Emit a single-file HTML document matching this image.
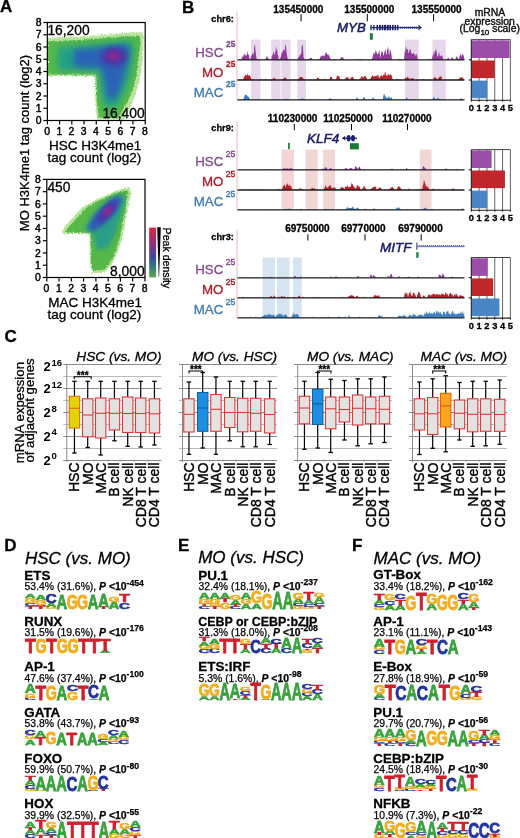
<!DOCTYPE html>
<html><head><meta charset="utf-8"><style>
html,body{margin:0;padding:0;background:#fff;width:520px;height:838px;overflow:hidden;}
svg{display:block;font-family:"Liberation Sans", sans-serif;will-change:transform;}
</style></head><body>
<svg width="520" height="838" viewBox="0 0 520 838">
<text x="-0.10" y="12.00" font-size="17" font-weight="bold" font-style="normal" fill="#000" stroke="#000" stroke-width="0.3" text-anchor="start" >A</text>
<text x="181.90" y="13.10" font-size="17" font-weight="bold" font-style="normal" fill="#000" stroke="#000" stroke-width="0.3" text-anchor="start" >B</text>
<text x="4.60" y="341.90" font-size="17" font-weight="bold" font-style="normal" fill="#000" stroke="#000" stroke-width="0.3" text-anchor="start" >C</text>
<text x="4.20" y="551.20" font-size="17" font-weight="bold" font-style="normal" fill="#000" stroke="#000" stroke-width="0.3" text-anchor="start" >D</text>
<text x="178.10" y="551.30" font-size="17" font-weight="bold" font-style="normal" fill="#000" stroke="#000" stroke-width="0.3" text-anchor="start" >E</text>
<text x="352.10" y="551.30" font-size="17" font-weight="bold" font-style="normal" fill="#000" stroke="#000" stroke-width="0.3" text-anchor="start" >F</text>
<defs><filter id="rough" x="-10%" y="-10%" width="120%" height="120%"><feTurbulence type="fractalNoise" baseFrequency="0.9" numOctaves="2" seed="3" result="n"/><feDisplacementMap in="SourceGraphic" in2="n" scale="4" xChannelSelector="R" yChannelSelector="G" result="d"/><feGaussianBlur in="d" stdDeviation="0.5"/></filter><filter id="soft" x="-20%" y="-20%" width="140%" height="140%"><feGaussianBlur stdDeviation="2.2"/></filter><filter id="soft2" x="-20%" y="-20%" width="140%" height="140%"><feGaussianBlur stdDeviation="3.2"/></filter><linearGradient id="cbar" x1="0" y1="0" x2="0" y2="1"><stop offset="0" stop-color="#e02040"/><stop offset="0.35" stop-color="#8a3080"/><stop offset="0.6" stop-color="#3a4aa0"/><stop offset="0.8" stop-color="#3a7a80"/><stop offset="1" stop-color="#62a850"/></linearGradient></defs>
<polygon points="48.0,38.0 60.0,37.5 80.0,36.5 100.0,35.0 120.0,33.5 135.0,32.0 142.5,32.5 144.0,38.0 143.0,55.0 141.5,70.0 138.5,85.0 134.5,98.0 129.0,110.0 125.0,119.5 97.0,119.5 95.4,100.0 95.0,76.0 48.0,76.0" fill="#b0e090" filter="url(#rough)" opacity="0.9"/>
<polygon points="48.0,41.5 70.0,40.5 100.0,38.5 125.0,36.5 139.5,36.0 140.5,42.0 138.5,60.0 136.5,75.0 132.5,90.0 127.5,102.0 121.5,112.0 118.0,118.0 98.6,118.0 96.8,100.0 96.4,74.6 48.0,74.6" fill="#55b848" filter="url(#rough)" opacity="1.0"/>
<polygon points="58.0,47.0 80.0,46.0 105.0,44.0 130.0,41.0 134.0,45.0 132.0,65.0 128.0,82.0 122.0,97.0 116.0,107.0 104.0,107.0 101.0,90.0 99.5,71.0 58.0,70.5" fill="#23a088" filter="url(#soft2)" opacity="1.0"/>
<polygon points="74.0,49.5 100.0,47.5 127.0,44.5 129.5,49.0 126.5,66.0 121.5,85.0 115.0,99.0 107.5,99.0 104.0,80.0 101.0,68.0 74.0,67.0" fill="#2c62b6" filter="url(#soft2)" opacity="1.0"/>
<ellipse cx="114" cy="56.5" rx="13" ry="9.5" fill="#4438a6" filter="url(#soft2)"/>
<ellipse cx="114" cy="56" rx="8.5" ry="6" fill="#6a2e9c" filter="url(#soft)"/>
<ellipse cx="113.5" cy="56" rx="3.5" ry="2.6" fill="#9a2a80" filter="url(#soft)"/>
<rect x="47.35" y="22.50" width="97.85" height="98.00" fill="none" stroke="#000" stroke-width="1.2" />
<line x1="43.35" y1="120.50" x2="47.35" y2="120.50" stroke="#000" stroke-width="1.2" />
<text x="41.45" y="124.20" font-size="10.4" font-weight="normal" font-style="normal" fill="#000" stroke="#000" stroke-width="0.45" text-anchor="end" >0</text>
<line x1="47.35" y1="120.50" x2="47.35" y2="124.50" stroke="#000" stroke-width="1.2" />
<text x="47.05" y="134.70" font-size="10.4" font-weight="normal" font-style="normal" fill="#000" stroke="#000" stroke-width="0.45" text-anchor="middle" >0</text>
<line x1="43.35" y1="108.25" x2="47.35" y2="108.25" stroke="#000" stroke-width="1.2" />
<text x="41.45" y="111.95" font-size="10.4" font-weight="normal" font-style="normal" fill="#000" stroke="#000" stroke-width="0.45" text-anchor="end" >1</text>
<line x1="59.58" y1="120.50" x2="59.58" y2="124.50" stroke="#000" stroke-width="1.2" />
<text x="59.28" y="134.70" font-size="10.4" font-weight="normal" font-style="normal" fill="#000" stroke="#000" stroke-width="0.45" text-anchor="middle" >1</text>
<line x1="43.35" y1="96.00" x2="47.35" y2="96.00" stroke="#000" stroke-width="1.2" />
<text x="41.45" y="99.70" font-size="10.4" font-weight="normal" font-style="normal" fill="#000" stroke="#000" stroke-width="0.45" text-anchor="end" >2</text>
<line x1="71.81" y1="120.50" x2="71.81" y2="124.50" stroke="#000" stroke-width="1.2" />
<text x="71.51" y="134.70" font-size="10.4" font-weight="normal" font-style="normal" fill="#000" stroke="#000" stroke-width="0.45" text-anchor="middle" >2</text>
<line x1="43.35" y1="83.75" x2="47.35" y2="83.75" stroke="#000" stroke-width="1.2" />
<text x="41.45" y="87.45" font-size="10.4" font-weight="normal" font-style="normal" fill="#000" stroke="#000" stroke-width="0.45" text-anchor="end" >3</text>
<line x1="84.04" y1="120.50" x2="84.04" y2="124.50" stroke="#000" stroke-width="1.2" />
<text x="83.74" y="134.70" font-size="10.4" font-weight="normal" font-style="normal" fill="#000" stroke="#000" stroke-width="0.45" text-anchor="middle" >3</text>
<line x1="43.35" y1="71.50" x2="47.35" y2="71.50" stroke="#000" stroke-width="1.2" />
<text x="41.45" y="75.20" font-size="10.4" font-weight="normal" font-style="normal" fill="#000" stroke="#000" stroke-width="0.45" text-anchor="end" >4</text>
<line x1="96.28" y1="120.50" x2="96.28" y2="124.50" stroke="#000" stroke-width="1.2" />
<text x="95.98" y="134.70" font-size="10.4" font-weight="normal" font-style="normal" fill="#000" stroke="#000" stroke-width="0.45" text-anchor="middle" >4</text>
<line x1="43.35" y1="59.25" x2="47.35" y2="59.25" stroke="#000" stroke-width="1.2" />
<text x="41.45" y="62.95" font-size="10.4" font-weight="normal" font-style="normal" fill="#000" stroke="#000" stroke-width="0.45" text-anchor="end" >5</text>
<line x1="108.51" y1="120.50" x2="108.51" y2="124.50" stroke="#000" stroke-width="1.2" />
<text x="108.21" y="134.70" font-size="10.4" font-weight="normal" font-style="normal" fill="#000" stroke="#000" stroke-width="0.45" text-anchor="middle" >5</text>
<line x1="43.35" y1="47.00" x2="47.35" y2="47.00" stroke="#000" stroke-width="1.2" />
<text x="41.45" y="50.70" font-size="10.4" font-weight="normal" font-style="normal" fill="#000" stroke="#000" stroke-width="0.45" text-anchor="end" >6</text>
<line x1="120.74" y1="120.50" x2="120.74" y2="124.50" stroke="#000" stroke-width="1.2" />
<text x="120.44" y="134.70" font-size="10.4" font-weight="normal" font-style="normal" fill="#000" stroke="#000" stroke-width="0.45" text-anchor="middle" >6</text>
<line x1="43.35" y1="34.75" x2="47.35" y2="34.75" stroke="#000" stroke-width="1.2" />
<text x="41.45" y="38.45" font-size="10.4" font-weight="normal" font-style="normal" fill="#000" stroke="#000" stroke-width="0.45" text-anchor="end" >7</text>
<line x1="132.97" y1="120.50" x2="132.97" y2="124.50" stroke="#000" stroke-width="1.2" />
<text x="132.67" y="134.70" font-size="10.4" font-weight="normal" font-style="normal" fill="#000" stroke="#000" stroke-width="0.45" text-anchor="middle" >7</text>
<line x1="43.35" y1="22.50" x2="47.35" y2="22.50" stroke="#000" stroke-width="1.2" />
<text x="41.45" y="26.20" font-size="10.4" font-weight="normal" font-style="normal" fill="#000" stroke="#000" stroke-width="0.45" text-anchor="end" >8</text>
<line x1="145.20" y1="120.50" x2="145.20" y2="124.50" stroke="#000" stroke-width="1.2" />
<text x="144.90" y="134.70" font-size="10.4" font-weight="normal" font-style="normal" fill="#000" stroke="#000" stroke-width="0.45" text-anchor="middle" >8</text>
<text x="47.40" y="35.20" font-size="13.8" font-weight="normal" font-style="normal" fill="#000" stroke="#000" stroke-width="0.3" text-anchor="start" >16,200</text>
<text x="144.60" y="118.40" font-size="13.8" font-weight="normal" font-style="normal" fill="#000" stroke="#000" stroke-width="0.3" text-anchor="end" >16,400</text>
<text x="95.20" y="149.80" font-size="13.5" font-weight="normal" font-style="normal" fill="#000" stroke="#000" stroke-width="0.3" text-anchor="middle" >HSC H3K4me1</text>
<text x="94.30" y="161.90" font-size="13.5" font-weight="normal" font-style="normal" fill="#000" stroke="#000" stroke-width="0.3" text-anchor="middle" >tag count (log2)</text>
<polygon points="62.0,231.0 68.0,223.0 81.0,208.5 96.0,199.5 110.0,193.5 121.0,189.5 129.5,187.0 131.0,193.0 128.0,209.0 125.0,223.0 122.0,238.0 118.0,252.0 110.5,266.0 104.5,272.5 92.3,273.0 89.8,262.0 89.6,233.8 63.0,233.8" fill="#b4e394" filter="url(#rough)" opacity="1.0"/>
<polygon points="66.0,230.0 75.0,220.0 86.0,208.0 100.0,200.0 114.0,194.0 124.0,190.5 128.0,191.0 126.0,205.0 123.0,222.0 120.0,237.0 115.5,252.0 109.5,264.0 104.0,270.0 93.0,270.5 91.0,262.0 90.8,232.6 66.0,232.6" fill="#55b848" filter="url(#rough)" opacity="1.0"/>
<polygon points="84.0,230.0 95.0,214.0 108.0,203.0 122.0,193.5 125.0,197.0 121.0,215.0 115.0,235.0 108.0,248.0 97.0,250.0 94.0,240.0 93.0,232.0" fill="#2a9e86" filter="url(#soft)" opacity="1.0"/>
<ellipse cx="105.0" cy="213.5" rx="23" ry="7.0" transform="rotate(-47 105.0 213.5)" fill="#2e5cb8" filter="url(#soft)"/>
<ellipse cx="107" cy="212.0" rx="14" ry="5.0" transform="rotate(-47 107 212.0)" fill="#443aa8" filter="url(#soft)"/>
<ellipse cx="107.6" cy="211.7" rx="8" ry="3.4" transform="rotate(-47 107.6 211.7)" fill="#742e9a" filter="url(#soft)"/>
<ellipse cx="107.8" cy="211.5" rx="3.8" ry="1.8" transform="rotate(-47 107.8 211.5)" fill="#a82878" filter="url(#soft)"/>
<rect x="46.80" y="179.40" width="98.20" height="98.10" fill="none" stroke="#000" stroke-width="1.2" />
<line x1="42.80" y1="277.50" x2="46.80" y2="277.50" stroke="#000" stroke-width="1.2" />
<text x="40.90" y="281.20" font-size="10.4" font-weight="normal" font-style="normal" fill="#000" stroke="#000" stroke-width="0.45" text-anchor="end" >0</text>
<line x1="46.80" y1="277.50" x2="46.80" y2="281.50" stroke="#000" stroke-width="1.2" />
<text x="46.50" y="291.70" font-size="10.4" font-weight="normal" font-style="normal" fill="#000" stroke="#000" stroke-width="0.45" text-anchor="middle" >0</text>
<line x1="42.80" y1="265.24" x2="46.80" y2="265.24" stroke="#000" stroke-width="1.2" />
<text x="40.90" y="268.94" font-size="10.4" font-weight="normal" font-style="normal" fill="#000" stroke="#000" stroke-width="0.45" text-anchor="end" >1</text>
<line x1="59.07" y1="277.50" x2="59.07" y2="281.50" stroke="#000" stroke-width="1.2" />
<text x="58.77" y="291.70" font-size="10.4" font-weight="normal" font-style="normal" fill="#000" stroke="#000" stroke-width="0.45" text-anchor="middle" >1</text>
<line x1="42.80" y1="252.97" x2="46.80" y2="252.97" stroke="#000" stroke-width="1.2" />
<text x="40.90" y="256.68" font-size="10.4" font-weight="normal" font-style="normal" fill="#000" stroke="#000" stroke-width="0.45" text-anchor="end" >2</text>
<line x1="71.35" y1="277.50" x2="71.35" y2="281.50" stroke="#000" stroke-width="1.2" />
<text x="71.05" y="291.70" font-size="10.4" font-weight="normal" font-style="normal" fill="#000" stroke="#000" stroke-width="0.45" text-anchor="middle" >2</text>
<line x1="42.80" y1="240.71" x2="46.80" y2="240.71" stroke="#000" stroke-width="1.2" />
<text x="40.90" y="244.41" font-size="10.4" font-weight="normal" font-style="normal" fill="#000" stroke="#000" stroke-width="0.45" text-anchor="end" >3</text>
<line x1="83.62" y1="277.50" x2="83.62" y2="281.50" stroke="#000" stroke-width="1.2" />
<text x="83.33" y="291.70" font-size="10.4" font-weight="normal" font-style="normal" fill="#000" stroke="#000" stroke-width="0.45" text-anchor="middle" >3</text>
<line x1="42.80" y1="228.45" x2="46.80" y2="228.45" stroke="#000" stroke-width="1.2" />
<text x="40.90" y="232.15" font-size="10.4" font-weight="normal" font-style="normal" fill="#000" stroke="#000" stroke-width="0.45" text-anchor="end" >4</text>
<line x1="95.90" y1="277.50" x2="95.90" y2="281.50" stroke="#000" stroke-width="1.2" />
<text x="95.60" y="291.70" font-size="10.4" font-weight="normal" font-style="normal" fill="#000" stroke="#000" stroke-width="0.45" text-anchor="middle" >4</text>
<line x1="42.80" y1="216.19" x2="46.80" y2="216.19" stroke="#000" stroke-width="1.2" />
<text x="40.90" y="219.89" font-size="10.4" font-weight="normal" font-style="normal" fill="#000" stroke="#000" stroke-width="0.45" text-anchor="end" >5</text>
<line x1="108.17" y1="277.50" x2="108.17" y2="281.50" stroke="#000" stroke-width="1.2" />
<text x="107.88" y="291.70" font-size="10.4" font-weight="normal" font-style="normal" fill="#000" stroke="#000" stroke-width="0.45" text-anchor="middle" >5</text>
<line x1="42.80" y1="203.93" x2="46.80" y2="203.93" stroke="#000" stroke-width="1.2" />
<text x="40.90" y="207.62" font-size="10.4" font-weight="normal" font-style="normal" fill="#000" stroke="#000" stroke-width="0.45" text-anchor="end" >6</text>
<line x1="120.45" y1="277.50" x2="120.45" y2="281.50" stroke="#000" stroke-width="1.2" />
<text x="120.15" y="291.70" font-size="10.4" font-weight="normal" font-style="normal" fill="#000" stroke="#000" stroke-width="0.45" text-anchor="middle" >6</text>
<line x1="42.80" y1="191.66" x2="46.80" y2="191.66" stroke="#000" stroke-width="1.2" />
<text x="40.90" y="195.36" font-size="10.4" font-weight="normal" font-style="normal" fill="#000" stroke="#000" stroke-width="0.45" text-anchor="end" >7</text>
<line x1="132.72" y1="277.50" x2="132.72" y2="281.50" stroke="#000" stroke-width="1.2" />
<text x="132.42" y="291.70" font-size="10.4" font-weight="normal" font-style="normal" fill="#000" stroke="#000" stroke-width="0.45" text-anchor="middle" >7</text>
<line x1="42.80" y1="179.40" x2="46.80" y2="179.40" stroke="#000" stroke-width="1.2" />
<text x="40.90" y="183.10" font-size="10.4" font-weight="normal" font-style="normal" fill="#000" stroke="#000" stroke-width="0.45" text-anchor="end" >8</text>
<line x1="145.00" y1="277.50" x2="145.00" y2="281.50" stroke="#000" stroke-width="1.2" />
<text x="144.70" y="291.70" font-size="10.4" font-weight="normal" font-style="normal" fill="#000" stroke="#000" stroke-width="0.45" text-anchor="middle" >8</text>
<text x="47.40" y="192.40" font-size="13.8" font-weight="normal" font-style="normal" fill="#000" stroke="#000" stroke-width="0.3" text-anchor="start" >450</text>
<text x="144.60" y="275.60" font-size="13.8" font-weight="normal" font-style="normal" fill="#000" stroke="#000" stroke-width="0.3" text-anchor="end" >8,000</text>
<text x="95.20" y="306.80" font-size="13.5" font-weight="normal" font-style="normal" fill="#000" stroke="#000" stroke-width="0.3" text-anchor="middle" >MAC H3K4me1</text>
<text x="94.30" y="318.50" font-size="13.5" font-weight="normal" font-style="normal" fill="#000" stroke="#000" stroke-width="0.3" text-anchor="middle" >tag count (log2)</text>
<text x="0.00" y="0.00" font-size="13.0" font-weight="normal" font-style="normal" fill="#000" stroke="#000" stroke-width="0.3" text-anchor="middle" transform="translate(28.6 143) rotate(-90)">MO H3K4me1 tag count (log2)</text>
<rect x="149.20" y="227.60" width="6.90" height="49.80" fill="url(#cbar)" stroke="none" stroke-width="1" />
<polygon points="157.2,227.2 160.8,227.2 159.1,277.0 158.7,277.0" fill="#000"/>
<text x="0.00" y="0.00" font-size="10.6" font-weight="normal" font-style="normal" fill="#000" stroke="#000" stroke-width="0.3" text-anchor="start" transform="translate(162.6 227.6) rotate(90)">Peak density</text>
<rect x="251.00" y="39.60" width="9.50" height="60.50" fill="#e7d7eb" stroke="none" stroke-width="1" />
<rect x="271.20" y="39.60" width="9.30" height="60.50" fill="#e7d7eb" stroke="none" stroke-width="1" />
<rect x="281.30" y="39.60" width="9.30" height="60.50" fill="#e7d7eb" stroke="none" stroke-width="1" />
<rect x="297.20" y="39.60" width="8.80" height="60.50" fill="#e7d7eb" stroke="none" stroke-width="1" />
<rect x="405.00" y="39.60" width="13.80" height="60.50" fill="#e7d7eb" stroke="none" stroke-width="1" />
<rect x="432.40" y="39.60" width="13.40" height="60.50" fill="#e7d7eb" stroke="none" stroke-width="1" />
<line x1="237.00" y1="11.60" x2="237.00" y2="100.40" stroke="#eab0b0" stroke-width="0.9" />
<text x="233.80" y="22.00" font-size="9.2" font-weight="bold" font-style="normal" fill="#000" stroke="#000" stroke-width="0.3" text-anchor="end" >chr6:</text>
<text x="298.30" y="12.80" font-size="10.0" font-weight="bold" font-style="normal" fill="#000" stroke="#000" stroke-width="0.3" text-anchor="middle" >135450000</text>
<line x1="301.10" y1="14.10" x2="301.10" y2="21.30" stroke="#000" stroke-width="1.0" />
<text x="369.30" y="12.80" font-size="10.0" font-weight="bold" font-style="normal" fill="#000" stroke="#000" stroke-width="0.3" text-anchor="middle" >135500000</text>
<line x1="367.30" y1="14.10" x2="367.30" y2="21.30" stroke="#000" stroke-width="1.0" />
<text x="436.60" y="12.80" font-size="10.0" font-weight="bold" font-style="normal" fill="#000" stroke="#000" stroke-width="0.3" text-anchor="middle" >135550000</text>
<line x1="433.60" y1="14.10" x2="433.60" y2="21.30" stroke="#000" stroke-width="1.0" />
<text x="223.30" y="57.30" font-size="13.3" font-weight="normal" font-style="normal" fill="#84488e" stroke="#84488e" stroke-width="0.3" text-anchor="end" >HSC</text>
<text x="235.30" y="47.20" font-size="8.3" font-weight="bold" font-style="normal" fill="#84488e" stroke="#84488e" stroke-width="0.3" text-anchor="end" >25</text>
<text x="223.30" y="77.40" font-size="13.3" font-weight="normal" font-style="normal" fill="#b01e2c" stroke="#b01e2c" stroke-width="0.3" text-anchor="end" >MO</text>
<text x="235.30" y="67.30" font-size="8.3" font-weight="bold" font-style="normal" fill="#b01e2c" stroke="#b01e2c" stroke-width="0.3" text-anchor="end" >25</text>
<text x="223.30" y="97.30" font-size="13.3" font-weight="normal" font-style="normal" fill="#3f7bb5" stroke="#3f7bb5" stroke-width="0.3" text-anchor="end" >MAC</text>
<text x="235.30" y="87.20" font-size="8.3" font-weight="bold" font-style="normal" fill="#3f7bb5" stroke="#3f7bb5" stroke-width="0.3" text-anchor="end" >25</text>
<polygon points="237.5,59.9 238.0,59.8 238.6,59.9 239.1,59.8 239.7,59.1 240.2,59.2 240.8,59.8 241.3,59.4 241.9,57.7 242.4,55.9 243.0,57.0 243.5,56.3 244.1,53.5 244.6,54.1 245.2,56.3 245.7,54.6 246.3,55.4 246.8,55.3 247.4,50.7 247.9,54.0 248.5,54.7 249.0,54.9 249.6,59.8 250.1,59.7 250.7,57.4 251.2,54.7 251.8,56.6 252.3,52.6 252.9,54.7 253.4,54.2 254.0,51.0 254.5,45.3 255.1,45.0 255.6,52.3 256.2,56.1 256.7,59.3 257.3,59.8 257.8,59.3 258.4,59.7 258.9,59.7 259.5,59.7 260.0,59.9 260.6,59.6 261.1,59.6 261.7,59.8 262.2,59.7 262.8,59.8 263.3,59.8 263.9,59.9 264.4,59.7 265.0,59.8 265.5,58.4 266.1,57.7 266.6,56.7 267.2,55.3 267.7,57.9 268.3,58.5 268.8,58.5 269.4,59.8 269.9,59.9 270.5,59.5 271.0,59.6 271.6,58.0 272.1,55.1 272.7,55.5 273.2,52.0 273.8,52.3 274.3,53.4 274.9,55.6 275.4,51.6 276.0,46.1 276.5,51.3 277.1,48.5 277.6,54.3 278.2,55.9 278.7,58.8 279.3,59.6 279.8,59.8 280.4,57.5 280.9,57.0 281.5,53.6 282.0,51.7 282.6,53.1 283.1,50.1 283.7,49.6 284.2,50.8 284.8,50.1 285.3,44.9 285.9,45.1 286.4,51.5 287.0,54.9 287.5,57.9 288.1,59.8 288.6,59.7 289.2,59.9 289.7,59.8 290.3,59.6 290.8,59.7 291.4,59.6 291.9,59.7 292.5,59.7 293.0,59.7 293.6,59.7 294.1,59.6 294.7,59.6 295.2,59.7 295.8,59.6 296.3,59.9 296.9,59.9 297.4,59.9 298.0,58.1 298.5,57.4 299.1,56.5 299.6,55.8 300.2,54.1 300.7,55.4 301.3,53.3 301.8,46.2 302.4,44.6 302.9,46.3 303.5,57.2 304.0,58.5 304.6,59.8 305.1,59.6 305.7,59.6 306.2,59.9 306.8,59.7 307.3,58.5 307.9,59.6 308.4,59.6 309.0,58.6 309.5,59.4 310.1,57.7 310.6,57.7 311.2,58.0 311.7,58.0 312.3,58.9 312.8,59.9 313.4,59.9 313.9,59.7 314.5,59.7 315.0,59.9 315.6,59.7 316.1,59.6 316.7,59.7 317.2,59.5 317.8,59.6 318.3,59.7 318.9,59.8 319.4,59.9 320.0,57.2 320.5,57.3 321.1,55.4 321.6,56.2 322.2,55.4 322.7,55.5 323.3,56.5 323.8,55.3 324.4,55.5 324.9,55.7 325.5,52.8 326.0,52.7 326.6,52.2 327.1,54.7 327.7,54.4 328.2,54.2 328.8,55.3 329.3,55.8 329.9,57.9 330.4,58.2 331.0,59.7 331.5,59.9 332.1,59.6 332.6,59.7 333.2,59.9 333.7,59.8 334.3,59.5 334.8,59.8 335.4,59.5 335.9,59.8 336.5,59.7 337.0,59.7 337.6,59.9 338.1,59.8 338.7,59.8 339.2,59.9 339.8,59.5 340.3,58.4 340.9,57.9 341.4,56.9 342.0,57.3 342.5,57.9 343.1,56.7 343.6,58.8 344.2,59.8 344.7,59.6 345.3,59.6 345.8,59.6 346.4,59.8 346.9,59.7 347.5,59.9 348.0,59.7 348.6,59.8 349.1,59.8 349.7,59.9 350.2,59.6 350.8,59.6 351.3,59.6 351.9,59.8 352.4,59.5 353.0,59.8 353.5,59.8 354.1,59.7 354.6,59.8 355.2,59.8 355.7,59.7 356.3,59.8 356.8,59.6 357.4,59.7 357.9,59.6 358.5,59.6 359.0,58.8 359.6,59.6 360.1,59.8 360.7,58.5 361.2,59.7 361.8,59.8 362.3,59.5 362.9,59.7 363.4,59.7 364.0,59.8 364.5,59.8 365.1,59.7 365.6,59.6 366.2,59.7 366.7,59.8 367.3,59.8 367.8,59.8 368.4,59.7 368.9,59.6 369.5,59.8 370.0,59.8 370.6,59.9 371.1,59.6 371.7,59.7 372.2,58.2 372.8,56.4 373.3,54.5 373.9,51.9 374.4,53.2 375.0,54.5 375.5,48.7 376.1,53.6 376.6,50.8 377.2,54.1 377.7,54.5 378.3,53.4 378.8,51.9 379.4,49.8 379.9,54.9 380.5,57.8 381.0,54.5 381.6,50.6 382.1,52.6 382.7,51.1 383.2,55.1 383.8,55.5 384.3,52.5 384.9,50.4 385.4,47.9 386.0,54.1 386.5,55.0 387.1,49.3 387.6,49.0 388.2,45.9 388.7,53.3 389.3,55.3 389.8,49.6 390.4,50.1 390.9,51.4 391.5,55.1 392.0,59.8 392.6,59.5 393.1,59.6 393.7,59.6 394.2,59.8 394.8,59.6 395.3,59.9 395.9,59.8 396.4,59.8 397.0,59.6 397.5,59.3 398.1,59.6 398.6,59.8 399.2,58.5 399.7,59.6 400.3,59.8 400.8,59.6 401.4,59.8 401.9,59.8 402.5,59.9 403.0,59.6 403.6,59.6 404.1,58.9 404.7,50.9 405.2,52.5 405.8,45.8 406.3,47.9 406.9,49.6 407.4,49.0 408.0,50.4 408.5,53.0 409.1,53.0 409.6,48.7 410.2,50.5 410.7,48.4 411.3,53.4 411.8,53.6 412.4,54.1 412.9,53.8 413.5,52.9 414.0,53.1 414.6,55.3 415.1,54.1 415.7,56.2 416.2,55.3 416.8,52.9 417.3,57.2 417.9,59.9 418.4,59.7 419.0,59.8 419.5,59.8 420.1,59.7 420.6,59.8 421.2,59.4 421.7,59.8 422.3,59.8 422.8,59.7 423.4,59.7 423.9,59.7 424.5,59.9 425.0,59.6 425.6,59.8 426.1,59.6 426.7,59.7 427.2,59.8 427.8,59.5 428.3,59.8 428.9,59.8 429.4,58.5 430.0,59.6 430.5,59.6 431.1,59.8 431.6,59.1 432.2,58.4 432.7,55.0 433.3,55.4 433.8,50.8 434.4,52.0 434.9,54.8 435.5,49.1 436.0,50.3 436.6,50.5 437.1,55.3 437.7,56.8 438.2,56.5 438.8,52.1 439.3,52.7 439.9,56.6 440.4,56.3 441.0,56.0 441.5,54.8 442.1,55.7 442.6,56.6 443.2,59.9 443.7,59.7 444.3,59.7 444.8,59.9 445.4,59.9 445.9,59.6 446.5,59.9 447.0,58.8 447.6,58.6 448.1,58.1 448.7,57.9 449.2,59.1 449.8,59.9 450.3,59.6 450.9,59.2 451.4,57.4 452.0,56.8 452.5,57.9 453.1,58.8 453.6,59.6 454.2,59.6 454.7,59.7 455.3,59.8 455.8,58.6 456.4,56.3 456.9,56.4 457.5,57.5 458.0,58.4 458.6,59.6 459.1,58.7 459.7,56.0 460.2,53.1 460.8,55.7 461.3,54.6 461.9,56.9 462.4,54.1 463.0,54.3 463.5,55.3 464.1,57.4 464.5,59.9" fill="#8e3c98"/>
<line x1="237.50" y1="59.90" x2="464.50" y2="59.90" stroke="#202020" stroke-width="1.3" />
<polygon points="237.5,80.0 238.0,79.6 238.6,79.9 239.1,79.7 239.7,79.6 240.2,79.9 240.8,78.7 241.3,79.8 241.9,79.8 242.4,79.6 243.0,79.6 243.5,78.8 244.1,75.9 244.6,76.8 245.2,76.0 245.7,74.0 246.3,75.5 246.8,75.8 247.4,73.2 247.9,75.0 248.5,76.1 249.0,74.7 249.6,75.3 250.1,76.3 250.7,77.1 251.2,79.5 251.8,79.6 252.3,79.6 252.9,79.6 253.4,79.9 254.0,79.7 254.5,79.7 255.1,79.8 255.6,79.7 256.2,79.8 256.7,79.7 257.3,79.9 257.8,80.0 258.4,79.9 258.9,79.8 259.5,79.8 260.0,80.0 260.6,78.6 261.1,79.7 261.7,80.0 262.2,79.8 262.8,79.6 263.3,80.0 263.9,79.6 264.4,79.9 265.0,79.9 265.5,78.3 266.1,79.7 266.6,79.7 267.2,80.0 267.7,79.6 268.3,79.8 268.8,80.0 269.4,79.9 269.9,79.8 270.5,79.5 271.0,79.6 271.6,80.0 272.1,79.8 272.7,78.8 273.2,78.1 273.8,78.7 274.3,78.5 274.9,77.1 275.4,79.3 276.0,79.8 276.5,79.9 277.1,79.9 277.6,79.7 278.2,79.9 278.7,80.0 279.3,79.7 279.8,79.7 280.4,79.8 280.9,79.6 281.5,79.6 282.0,79.6 282.6,79.6 283.1,79.3 283.7,78.6 284.2,77.4 284.8,78.0 285.3,76.9 285.9,78.2 286.4,78.4 287.0,79.9 287.5,79.9 288.1,79.6 288.6,79.9 289.2,79.8 289.7,79.9 290.3,79.9 290.8,79.7 291.4,79.5 291.9,79.8 292.5,79.6 293.0,79.8 293.6,79.7 294.1,79.9 294.7,80.0 295.2,79.6 295.8,79.8 296.3,79.8 296.9,79.7 297.4,79.6 298.0,79.8 298.5,79.3 299.1,78.3 299.6,76.8 300.2,76.7 300.7,77.5 301.3,77.0 301.8,76.8 302.4,77.6 302.9,78.0 303.5,79.1 304.0,79.5 304.6,78.9 305.1,79.6 305.7,79.8 306.2,79.7 306.8,79.7 307.3,79.7 307.9,79.7 308.4,79.5 309.0,79.7 309.5,79.6 310.1,79.5 310.6,80.0 311.2,79.8 311.7,79.2 312.3,79.7 312.8,79.9 313.4,79.6 313.9,79.7 314.5,79.6 315.0,79.9 315.6,79.6 316.1,79.7 316.7,79.2 317.2,77.7 317.8,77.6 318.3,78.5 318.9,77.8 319.4,79.4 320.0,79.9 320.5,78.6 321.1,79.9 321.6,79.8 322.2,79.7 322.7,79.8 323.3,79.6 323.8,78.3 324.4,79.6 324.9,79.6 325.5,80.0 326.0,78.1 326.6,79.9 327.1,79.9 327.7,79.6 328.2,79.9 328.8,79.6 329.3,79.6 329.9,77.9 330.4,76.0 331.0,77.5 331.5,76.4 332.1,77.9 332.6,79.8 333.2,79.1 333.7,79.8 334.3,79.7 334.8,80.0 335.4,79.8 335.9,79.7 336.5,78.0 337.0,75.5 337.6,75.7 338.1,76.5 338.7,76.1 339.2,75.7 339.8,78.6 340.3,79.8 340.9,79.6 341.4,79.8 342.0,79.7 342.5,79.9 343.1,79.8 343.6,79.9 344.2,79.5 344.7,79.6 345.3,79.1 345.8,77.4 346.4,77.8 346.9,76.4 347.5,77.8 348.0,77.1 348.6,77.7 349.1,79.7 349.7,79.7 350.2,79.2 350.8,77.5 351.3,77.9 351.9,76.4 352.4,76.5 353.0,77.8 353.5,78.1 354.1,78.9 354.6,79.8 355.2,79.7 355.7,79.8 356.3,79.2 356.8,79.5 357.4,79.8 357.9,80.0 358.5,79.9 359.0,80.0 359.6,78.6 360.1,79.7 360.7,77.5 361.2,76.7 361.8,76.3 362.3,76.3 362.9,77.9 363.4,77.3 364.0,76.6 364.5,76.1 365.1,76.8 365.6,75.3 366.2,77.4 366.7,78.1 367.3,79.7 367.8,79.8 368.4,79.6 368.9,79.6 369.5,79.9 370.0,78.1 370.6,78.9 371.1,77.3 371.7,76.7 372.2,75.0 372.8,75.7 373.3,76.5 373.9,76.5 374.4,75.7 375.0,76.8 375.5,75.5 376.1,76.5 376.6,75.7 377.2,75.6 377.7,75.2 378.3,74.8 378.8,77.4 379.4,78.3 379.9,76.4 380.5,75.9 381.0,76.4 381.6,74.5 382.1,76.1 382.7,76.5 383.2,75.4 383.8,73.7 384.3,75.7 384.9,72.1 385.4,72.1 386.0,75.5 386.5,75.8 387.1,74.2 387.6,76.5 388.2,73.5 388.7,74.7 389.3,74.2 389.8,76.0 390.4,74.1 390.9,74.8 391.5,75.1 392.0,76.9 392.6,79.3 393.1,79.8 393.7,79.9 394.2,79.9 394.8,79.9 395.3,80.0 395.9,79.9 396.4,78.1 397.0,79.6 397.5,79.6 398.1,79.8 398.6,79.6 399.2,79.7 399.7,79.8 400.3,79.8 400.8,79.9 401.4,80.0 401.9,79.7 402.5,79.6 403.0,79.8 403.6,79.9 404.1,79.8 404.7,79.3 405.2,77.3 405.8,78.3 406.3,78.0 406.9,77.8 407.4,76.1 408.0,78.0 408.5,78.6 409.1,76.6 409.6,79.9 410.2,79.5 410.7,78.5 411.3,78.4 411.8,78.0 412.4,78.2 412.9,77.9 413.5,78.7 414.0,79.7 414.6,80.0 415.1,79.8 415.7,80.0 416.2,79.8 416.8,79.6 417.3,80.0 417.9,79.8 418.4,79.9 419.0,79.6 419.5,79.9 420.1,79.7 420.6,79.0 421.2,79.8 421.7,79.7 422.3,79.6 422.8,79.7 423.4,79.6 423.9,78.3 424.5,79.8 425.0,79.7 425.6,80.0 426.1,79.9 426.7,80.0 427.2,79.6 427.8,79.8 428.3,79.9 428.9,78.8 429.4,79.7 430.0,80.0 430.5,79.7 431.1,79.8 431.6,79.8 432.2,79.9 432.7,79.9 433.3,79.1 433.8,78.0 434.4,76.9 434.9,77.4 435.5,77.4 436.0,78.0 436.6,78.4 437.1,79.6 437.7,80.0 438.2,78.6 438.8,77.7 439.3,77.0 439.9,76.6 440.4,77.1 441.0,75.5 441.5,77.3 442.1,79.9 442.6,79.9 443.2,79.6 443.7,79.9 444.3,79.8 444.8,79.9 445.4,79.7 445.9,79.7 446.5,79.8 447.0,79.8 447.6,79.9 448.1,79.9 448.7,79.8 449.2,79.9 449.8,79.7 450.3,79.7 450.9,79.7 451.4,79.7 452.0,79.7 452.5,79.8 453.1,79.9 453.6,79.8 454.2,79.7 454.7,79.3 455.3,79.9 455.8,79.8 456.4,79.5 456.9,79.6 457.5,80.0 458.0,79.8 458.6,79.5 459.1,78.4 459.7,77.5 460.2,77.9 460.8,77.3 461.3,77.5 461.9,77.2 462.4,78.0 463.0,76.8 463.5,79.2 464.1,79.8 464.5,80.0" fill="#b5232b"/>
<line x1="237.50" y1="80.00" x2="464.50" y2="80.00" stroke="#202020" stroke-width="1.3" />
<polygon points="237.5,99.9 238.0,99.6 238.6,99.8 239.1,99.8 239.7,99.8 240.2,99.7 240.8,99.8 241.3,99.6 241.9,99.8 242.4,99.8 243.0,99.7 243.5,98.4 244.1,97.6 244.6,95.3 245.2,94.6 245.7,95.3 246.3,94.4 246.8,95.3 247.4,95.9 247.9,96.4 248.5,96.5 249.0,97.6 249.6,98.4 250.1,99.7 250.7,99.8 251.2,99.7 251.8,99.8 252.3,99.7 252.9,99.9 253.4,99.7 254.0,99.6 254.5,99.8 255.1,99.8 255.6,99.7 256.2,99.8 256.7,99.7 257.3,99.6 257.8,99.9 258.4,99.7 258.9,99.7 259.5,99.5 260.0,99.7 260.6,99.8 261.1,99.7 261.7,99.7 262.2,99.6 262.8,99.8 263.3,99.9 263.9,99.9 264.4,99.8 265.0,99.7 265.5,99.7 266.1,99.9 266.6,99.8 267.2,99.8 267.7,99.8 268.3,99.6 268.8,99.8 269.4,99.8 269.9,98.8 270.5,99.6 271.0,99.7 271.6,99.9 272.1,99.6 272.7,99.6 273.2,99.8 273.8,99.6 274.3,99.6 274.9,99.8 275.4,99.8 276.0,99.6 276.5,99.7 277.1,99.8 277.6,99.8 278.2,99.8 278.7,99.9 279.3,99.8 279.8,99.9 280.4,99.7 280.9,99.8 281.5,99.8 282.0,99.9 282.6,99.8 283.1,99.7 283.7,99.8 284.2,99.9 284.8,99.2 285.3,99.0 285.9,98.9 286.4,98.4 287.0,98.9 287.5,99.6 288.1,99.8 288.6,99.8 289.2,99.9 289.7,99.7 290.3,99.7 290.8,99.7 291.4,99.8 291.9,99.9 292.5,99.6 293.0,99.7 293.6,99.7 294.1,99.7 294.7,99.9 295.2,99.8 295.8,99.7 296.3,99.8 296.9,99.7 297.4,99.6 298.0,99.8 298.5,99.1 299.1,99.8 299.6,99.7 300.2,99.3 300.7,99.0 301.3,98.8 301.8,98.2 302.4,98.8 302.9,98.4 303.5,98.7 304.0,99.7 304.6,99.8 305.1,99.8 305.7,98.9 306.2,99.8 306.8,98.8 307.3,99.9 307.9,99.9 308.4,99.8 309.0,99.7 309.5,99.7 310.1,99.7 310.6,99.8 311.2,99.6 311.7,99.6 312.3,99.7 312.8,99.7 313.4,99.9 313.9,99.8 314.5,99.6 315.0,99.7 315.6,99.0 316.1,99.8 316.7,99.6 317.2,99.7 317.8,99.9 318.3,99.8 318.9,99.8 319.4,99.7 320.0,99.8 320.5,99.7 321.1,99.6 321.6,99.8 322.2,99.9 322.7,99.8 323.3,99.7 323.8,99.8 324.4,99.7 324.9,99.7 325.5,99.9 326.0,99.8 326.6,99.9 327.1,99.8 327.7,99.8 328.2,99.5 328.8,99.0 329.3,98.8 329.9,98.6 330.4,98.3 331.0,98.6 331.5,99.2 332.1,99.6 332.6,99.8 333.2,99.9 333.7,98.9 334.3,99.8 334.8,99.7 335.4,99.6 335.9,99.7 336.5,99.7 337.0,99.8 337.6,99.8 338.1,99.7 338.7,99.7 339.2,99.9 339.8,99.7 340.3,99.7 340.9,99.6 341.4,99.8 342.0,99.8 342.5,99.9 343.1,99.9 343.6,99.6 344.2,99.9 344.7,99.8 345.3,99.9 345.8,99.6 346.4,99.8 346.9,99.7 347.5,99.8 348.0,99.8 348.6,99.7 349.1,99.9 349.7,99.8 350.2,99.8 350.8,99.9 351.3,99.8 351.9,99.6 352.4,99.6 353.0,99.7 353.5,99.9 354.1,99.7 354.6,99.7 355.2,99.8 355.7,99.8 356.3,97.8 356.8,97.9 357.4,97.8 357.9,98.7 358.5,99.9 359.0,99.6 359.6,99.9 360.1,99.8 360.7,99.7 361.2,99.8 361.8,99.8 362.3,99.9 362.9,99.1 363.4,97.6 364.0,96.7 364.5,97.3 365.1,98.4 365.6,99.8 366.2,99.7 366.7,99.9 367.3,99.9 367.8,99.8 368.4,99.2 368.9,99.8 369.5,99.8 370.0,99.7 370.6,99.7 371.1,99.6 371.7,99.3 372.2,97.9 372.8,98.4 373.3,97.5 373.9,98.2 374.4,98.9 375.0,99.8 375.5,99.8 376.1,99.7 376.6,99.9 377.2,99.7 377.7,99.7 378.3,99.7 378.8,99.9 379.4,99.7 379.9,99.7 380.5,99.9 381.0,99.9 381.6,99.6 382.1,99.9 382.7,99.7 383.2,96.8 383.8,93.7 384.3,93.7 384.9,95.5 385.4,96.7 386.0,96.4 386.5,98.6 387.1,97.7 387.6,97.4 388.2,96.8 388.7,97.0 389.3,96.4 389.8,98.7 390.4,97.8 390.9,97.8 391.5,97.1 392.0,98.4 392.6,99.8 393.1,99.8 393.7,99.5 394.2,99.6 394.8,99.8 395.3,99.8 395.9,99.9 396.4,98.8 397.0,99.8 397.5,99.8 398.1,99.9 398.6,99.8 399.2,99.7 399.7,99.8 400.3,99.7 400.8,99.8 401.4,99.6 401.9,99.7 402.5,99.6 403.0,99.3 403.6,99.8 404.1,99.9 404.7,99.8 405.2,99.8 405.8,98.9 406.3,97.7 406.9,97.6 407.4,98.5 408.0,98.7 408.5,99.4 409.1,99.8 409.6,99.7 410.2,99.8 410.7,99.8 411.3,99.4 411.8,99.1 412.4,99.8 412.9,99.8 413.5,99.9 414.0,99.7 414.6,99.9 415.1,99.7 415.7,99.9 416.2,99.9 416.8,99.9 417.3,99.8 417.9,99.7 418.4,99.7 419.0,99.8 419.5,99.8 420.1,99.7 420.6,99.8 421.2,99.6 421.7,99.8 422.3,99.6 422.8,99.9 423.4,99.7 423.9,99.8 424.5,99.8 425.0,99.9 425.6,99.7 426.1,99.3 426.7,99.8 427.2,99.8 427.8,99.8 428.3,99.6 428.9,99.9 429.4,99.8 430.0,99.8 430.5,99.8 431.1,99.8 431.6,99.6 432.2,99.7 432.7,99.1 433.3,96.7 433.8,97.6 434.4,97.5 434.9,98.5 435.5,99.3 436.0,99.6 436.6,99.5 437.1,97.9 437.7,97.7 438.2,98.1 438.8,98.6 439.3,98.9 439.9,99.6 440.4,99.7 441.0,99.8 441.5,99.6 442.1,99.9 442.6,99.6 443.2,98.8 443.7,99.7 444.3,99.8 444.8,99.9 445.4,99.6 445.9,99.6 446.5,99.9 447.0,99.7 447.6,99.9 448.1,99.8 448.7,99.9 449.2,98.7 449.8,99.6 450.3,99.8 450.9,99.8 451.4,99.7 452.0,99.7 452.5,99.9 453.1,99.8 453.6,99.8 454.2,99.6 454.7,99.7 455.3,99.8 455.8,99.9 456.4,99.3 456.9,99.7 457.5,99.9 458.0,99.7 458.6,99.7 459.1,99.5 459.7,99.0 460.2,98.9 460.8,98.9 461.3,97.7 461.9,98.4 462.4,99.2 463.0,99.6 463.5,99.6 464.1,99.0 464.5,99.9" fill="#3f80c4"/>
<line x1="237.50" y1="99.90" x2="464.50" y2="99.90" stroke="#202020" stroke-width="1.3" />
<text x="365.80" y="32.20" font-size="13.3" font-weight="normal" font-style="italic" fill="#1c2068" stroke="#1c2068" stroke-width="0.5" text-anchor="end" >MYB</text>
<line x1="370.40" y1="27.60" x2="420.50" y2="27.60" stroke="#2a3080" stroke-width="1.1" />
<rect x="370.40" y="24.90" width="1.30" height="5.40" fill="#1c2068" stroke="none" stroke-width="1" />
<rect x="373.20" y="24.90" width="1.30" height="5.40" fill="#1c2068" stroke="none" stroke-width="1" />
<rect x="376.50" y="24.90" width="1.60" height="5.40" fill="#1c2068" stroke="none" stroke-width="1" />
<rect x="379.00" y="24.90" width="1.80" height="5.40" fill="#1c2068" stroke="none" stroke-width="1" />
<rect x="381.60" y="24.90" width="1.80" height="5.40" fill="#1c2068" stroke="none" stroke-width="1" />
<rect x="384.00" y="24.90" width="2.00" height="5.40" fill="#1c2068" stroke="none" stroke-width="1" />
<rect x="386.60" y="24.90" width="2.20" height="5.40" fill="#1c2068" stroke="none" stroke-width="1" />
<rect x="389.30" y="24.90" width="1.80" height="5.40" fill="#1c2068" stroke="none" stroke-width="1" />
<rect x="392.00" y="24.90" width="1.60" height="5.40" fill="#1c2068" stroke="none" stroke-width="1" />
<rect x="394.50" y="24.90" width="1.60" height="5.40" fill="#1c2068" stroke="none" stroke-width="1" />
<rect x="397.00" y="24.90" width="1.40" height="5.40" fill="#1c2068" stroke="none" stroke-width="1" />
<path d="M400,26.3 L401.3,27.6 L400,28.900000000000002" stroke="#2a3080" stroke-width="0.8" fill="none"/>
<path d="M402,26.3 L403.3,27.6 L402,28.900000000000002" stroke="#2a3080" stroke-width="0.8" fill="none"/>
<path d="M404,26.3 L405.3,27.6 L404,28.900000000000002" stroke="#2a3080" stroke-width="0.8" fill="none"/>
<path d="M406,26.3 L407.3,27.6 L406,28.900000000000002" stroke="#2a3080" stroke-width="0.8" fill="none"/>
<path d="M408,26.3 L409.3,27.6 L408,28.900000000000002" stroke="#2a3080" stroke-width="0.8" fill="none"/>
<path d="M410,26.3 L411.3,27.6 L410,28.900000000000002" stroke="#2a3080" stroke-width="0.8" fill="none"/>
<path d="M412,26.3 L413.3,27.6 L412,28.900000000000002" stroke="#2a3080" stroke-width="0.8" fill="none"/>
<path d="M414,26.3 L415.3,27.6 L414,28.900000000000002" stroke="#2a3080" stroke-width="0.8" fill="none"/>
<path d="M416,26.3 L417.3,27.6 L416,28.900000000000002" stroke="#2a3080" stroke-width="0.8" fill="none"/>
<path d="M418,26.3 L419.3,27.6 L418,28.900000000000002" stroke="#2a3080" stroke-width="0.8" fill="none"/>
<path d="M418.5,25.400000000000002 L421,27.6 L418.5,29.8" stroke="#1c2068" stroke-width="1.1" fill="none"/>
<rect x="369.90" y="33.20" width="2.90" height="6.60" fill="#1e7a3e" stroke="none" stroke-width="1" />
<line x1="479.12" y1="39.60" x2="479.12" y2="100.20" stroke="#555" stroke-width="0.9" />
<line x1="486.94" y1="39.60" x2="486.94" y2="100.20" stroke="#555" stroke-width="0.9" />
<line x1="494.76" y1="39.60" x2="494.76" y2="100.20" stroke="#555" stroke-width="0.9" />
<line x1="502.58" y1="39.60" x2="502.58" y2="100.20" stroke="#555" stroke-width="0.9" />
<line x1="510.40" y1="39.60" x2="510.40" y2="100.20" stroke="#555" stroke-width="0.9" />
<rect x="471.30" y="40.40" width="38.32" height="17.60" fill="#9b4ea8" stroke="none" stroke-width="1" />
<rect x="471.30" y="60.50" width="23.46" height="17.60" fill="#c0272d" stroke="none" stroke-width="1" />
<rect x="471.30" y="80.60" width="16.03" height="17.60" fill="#4a86c5" stroke="none" stroke-width="1" />
<line x1="471.30" y1="39.60" x2="510.40" y2="39.60" stroke="#333" stroke-width="0.9" />
<line x1="471.30" y1="39.60" x2="471.30" y2="100.20" stroke="#222" stroke-width="1.1" />
<line x1="471.30" y1="100.20" x2="510.40" y2="100.20" stroke="#222" stroke-width="1.1" />
<line x1="468.80" y1="59.80" x2="471.30" y2="59.80" stroke="#000" stroke-width="1" />
<line x1="468.80" y1="80.00" x2="471.30" y2="80.00" stroke="#000" stroke-width="1" />
<line x1="471.30" y1="100.20" x2="471.30" y2="101.60" stroke="#000" stroke-width="1" />
<text x="471.30" y="110.80" font-size="9.3" font-weight="bold" font-style="normal" fill="#000" stroke="#000" stroke-width="0.3" text-anchor="middle" >0</text>
<line x1="479.12" y1="100.20" x2="479.12" y2="101.60" stroke="#000" stroke-width="1" />
<text x="479.12" y="110.80" font-size="9.3" font-weight="bold" font-style="normal" fill="#000" stroke="#000" stroke-width="0.3" text-anchor="middle" >1</text>
<line x1="486.94" y1="100.20" x2="486.94" y2="101.60" stroke="#000" stroke-width="1" />
<text x="486.94" y="110.80" font-size="9.3" font-weight="bold" font-style="normal" fill="#000" stroke="#000" stroke-width="0.3" text-anchor="middle" >2</text>
<line x1="494.76" y1="100.20" x2="494.76" y2="101.60" stroke="#000" stroke-width="1" />
<text x="494.76" y="110.80" font-size="9.3" font-weight="bold" font-style="normal" fill="#000" stroke="#000" stroke-width="0.3" text-anchor="middle" >3</text>
<line x1="502.58" y1="100.20" x2="502.58" y2="101.60" stroke="#000" stroke-width="1" />
<text x="502.58" y="110.80" font-size="9.3" font-weight="bold" font-style="normal" fill="#000" stroke="#000" stroke-width="0.3" text-anchor="middle" >4</text>
<line x1="510.40" y1="100.20" x2="510.40" y2="101.60" stroke="#000" stroke-width="1" />
<text x="510.40" y="110.80" font-size="9.3" font-weight="bold" font-style="normal" fill="#000" stroke="#000" stroke-width="0.3" text-anchor="middle" >5</text>
<rect x="281.50" y="149.60" width="12.40" height="60.50" fill="#f2d6d6" stroke="none" stroke-width="1" />
<rect x="305.50" y="149.60" width="12.20" height="60.50" fill="#f2d6d6" stroke="none" stroke-width="1" />
<rect x="323.00" y="149.60" width="12.00" height="60.50" fill="#f2d6d6" stroke="none" stroke-width="1" />
<rect x="419.70" y="149.60" width="11.80" height="60.50" fill="#f2d6d6" stroke="none" stroke-width="1" />
<line x1="237.00" y1="121.60" x2="237.00" y2="210.40" stroke="#eab0b0" stroke-width="0.9" />
<text x="233.80" y="131.10" font-size="9.2" font-weight="bold" font-style="normal" fill="#000" stroke="#000" stroke-width="0.3" text-anchor="end" >chr9:</text>
<text x="292.60" y="122.10" font-size="10.0" font-weight="bold" font-style="normal" fill="#000" stroke="#000" stroke-width="0.3" text-anchor="middle" >110230000</text>
<line x1="294.30" y1="123.90" x2="294.30" y2="130.20" stroke="#000" stroke-width="1.0" />
<text x="348.00" y="122.10" font-size="10.0" font-weight="bold" font-style="normal" fill="#000" stroke="#000" stroke-width="0.3" text-anchor="middle" >110250000</text>
<line x1="351.50" y1="123.90" x2="351.50" y2="130.20" stroke="#000" stroke-width="1.0" />
<text x="406.90" y="122.10" font-size="10.0" font-weight="bold" font-style="normal" fill="#000" stroke="#000" stroke-width="0.3" text-anchor="middle" >110270000</text>
<line x1="407.50" y1="123.90" x2="407.50" y2="130.20" stroke="#000" stroke-width="1.0" />
<text x="223.30" y="166.10" font-size="13.3" font-weight="normal" font-style="normal" fill="#84488e" stroke="#84488e" stroke-width="0.3" text-anchor="end" >HSC</text>
<text x="235.30" y="157.00" font-size="8.6" font-weight="normal" font-style="normal" fill="#84488e" stroke="#84488e" stroke-width="0.45" text-anchor="end" >25</text>
<text x="223.30" y="186.20" font-size="13.3" font-weight="normal" font-style="normal" fill="#b01e2c" stroke="#b01e2c" stroke-width="0.3" text-anchor="end" >MO</text>
<text x="235.30" y="177.10" font-size="8.6" font-weight="normal" font-style="normal" fill="#b01e2c" stroke="#b01e2c" stroke-width="0.45" text-anchor="end" >25</text>
<text x="223.30" y="206.10" font-size="13.3" font-weight="normal" font-style="normal" fill="#3f7bb5" stroke="#3f7bb5" stroke-width="0.3" text-anchor="end" >MAC</text>
<text x="235.30" y="197.00" font-size="8.6" font-weight="normal" font-style="normal" fill="#3f7bb5" stroke="#3f7bb5" stroke-width="0.45" text-anchor="end" >25</text>
<polygon points="237.5,169.9 238.0,169.7 238.6,169.8 239.1,169.9 239.7,169.6 240.2,169.7 240.8,169.8 241.3,169.7 241.9,169.7 242.4,169.7 243.0,169.7 243.5,169.7 244.1,169.8 244.6,169.8 245.2,169.8 245.7,169.7 246.3,169.8 246.8,169.6 247.4,169.7 247.9,169.7 248.5,169.8 249.0,169.8 249.6,169.7 250.1,169.6 250.7,169.4 251.2,169.7 251.8,169.9 252.3,169.9 252.9,169.7 253.4,169.8 254.0,169.8 254.5,169.7 255.1,169.8 255.6,169.7 256.2,169.7 256.7,169.7 257.3,169.8 257.8,169.8 258.4,169.6 258.9,169.9 259.5,169.7 260.0,169.8 260.6,169.6 261.1,169.7 261.7,169.8 262.2,169.7 262.8,169.8 263.3,169.3 263.9,169.7 264.4,169.8 265.0,169.7 265.5,169.8 266.1,169.6 266.6,169.6 267.2,169.8 267.7,169.8 268.3,169.0 268.8,169.7 269.4,169.6 269.9,169.9 270.5,169.8 271.0,169.6 271.6,169.8 272.1,169.8 272.7,169.7 273.2,169.7 273.8,169.8 274.3,169.1 274.9,169.7 275.4,169.9 276.0,169.9 276.5,169.9 277.1,169.7 277.6,169.9 278.2,169.7 278.7,169.9 279.3,169.8 279.8,169.6 280.4,169.6 280.9,169.8 281.5,169.9 282.0,169.8 282.6,169.5 283.1,168.2 283.7,168.2 284.2,167.7 284.8,168.9 285.3,169.1 285.9,168.2 286.4,168.4 287.0,168.5 287.5,168.2 288.1,168.6 288.6,168.8 289.2,169.5 289.7,168.0 290.3,167.4 290.8,168.9 291.4,167.7 291.9,168.5 292.5,169.0 293.0,169.6 293.6,169.9 294.1,169.7 294.7,169.8 295.2,169.8 295.8,169.7 296.3,169.9 296.9,169.9 297.4,169.8 298.0,169.7 298.5,169.7 299.1,169.6 299.6,169.6 300.2,169.7 300.7,169.8 301.3,169.4 301.8,169.8 302.4,169.9 302.9,169.7 303.5,169.7 304.0,169.7 304.6,169.6 305.1,169.6 305.7,169.8 306.2,169.7 306.8,169.6 307.3,169.8 307.9,169.7 308.4,169.9 309.0,169.8 309.5,169.6 310.1,169.6 310.6,169.2 311.2,169.8 311.7,169.7 312.3,169.5 312.8,169.8 313.4,169.8 313.9,169.8 314.5,169.2 315.0,169.7 315.6,169.7 316.1,169.9 316.7,169.9 317.2,169.9 317.8,169.8 318.3,169.7 318.9,169.8 319.4,169.8 320.0,169.6 320.5,169.9 321.1,169.6 321.6,169.4 322.2,169.0 322.7,168.3 323.3,168.7 323.8,168.8 324.4,169.3 324.9,167.5 325.5,167.4 326.0,166.8 326.6,168.3 327.1,168.6 327.7,169.8 328.2,169.7 328.8,169.9 329.3,169.7 329.9,168.0 330.4,168.3 331.0,167.8 331.5,168.9 332.1,168.9 332.6,169.7 333.2,169.8 333.7,169.8 334.3,169.8 334.8,169.6 335.4,169.8 335.9,169.7 336.5,169.7 337.0,169.8 337.6,169.6 338.1,169.9 338.7,169.8 339.2,169.6 339.8,169.7 340.3,169.7 340.9,169.6 341.4,169.7 342.0,169.7 342.5,169.7 343.1,169.6 343.6,169.6 344.2,169.6 344.7,168.5 345.3,168.2 345.8,168.4 346.4,167.7 346.9,168.5 347.5,168.7 348.0,169.9 348.6,169.6 349.1,169.5 349.7,167.9 350.2,168.6 350.8,168.1 351.3,168.2 351.9,167.8 352.4,168.9 353.0,169.7 353.5,169.9 354.1,169.9 354.6,168.7 355.2,166.7 355.7,165.7 356.3,167.0 356.8,167.5 357.4,168.4 357.9,168.9 358.5,167.4 359.0,167.2 359.6,166.3 360.1,168.0 360.7,169.1 361.2,169.6 361.8,169.7 362.3,169.8 362.9,169.7 363.4,169.8 364.0,169.6 364.5,168.9 365.1,169.7 365.6,169.7 366.2,169.7 366.7,169.9 367.3,169.9 367.8,169.6 368.4,169.7 368.9,169.9 369.5,169.7 370.0,169.8 370.6,169.8 371.1,169.8 371.7,169.7 372.2,169.7 372.8,169.6 373.3,169.7 373.9,169.9 374.4,169.7 375.0,169.8 375.5,169.7 376.1,169.9 376.6,169.8 377.2,169.9 377.7,169.8 378.3,169.6 378.8,169.8 379.4,169.8 379.9,169.8 380.5,169.8 381.0,169.8 381.6,169.8 382.1,169.6 382.7,169.6 383.2,169.7 383.8,169.9 384.3,169.8 384.9,169.7 385.4,169.8 386.0,169.6 386.5,169.8 387.1,169.8 387.6,169.9 388.2,169.7 388.7,169.6 389.3,169.8 389.8,169.2 390.4,169.7 390.9,169.4 391.5,168.8 392.0,168.5 392.6,168.8 393.1,169.3 393.7,169.8 394.2,169.7 394.8,169.7 395.3,169.9 395.9,169.9 396.4,169.7 397.0,169.7 397.5,169.8 398.1,169.8 398.6,169.7 399.2,169.9 399.7,169.7 400.3,169.6 400.8,169.7 401.4,169.7 401.9,169.9 402.5,169.7 403.0,169.8 403.6,169.1 404.1,169.8 404.7,169.8 405.2,169.7 405.8,169.5 406.3,167.9 406.9,168.2 407.4,169.1 408.0,169.0 408.5,168.9 409.1,169.8 409.6,169.8 410.2,169.7 410.7,169.7 411.3,169.6 411.8,169.7 412.4,168.9 412.9,169.3 413.5,169.9 414.0,169.7 414.6,169.8 415.1,169.7 415.7,169.6 416.2,169.7 416.8,169.8 417.3,169.9 417.9,169.9 418.4,169.7 419.0,169.8 419.5,169.8 420.1,169.8 420.6,169.7 421.2,169.8 421.7,169.7 422.3,169.0 422.8,167.3 423.4,166.0 423.9,166.3 424.5,167.9 425.0,167.2 425.6,168.5 426.1,169.9 426.7,169.8 427.2,169.7 427.8,169.9 428.3,169.9 428.9,169.8 429.4,169.6 430.0,169.8 430.5,169.9 431.1,169.7 431.6,169.8 432.2,169.9 432.7,169.7 433.3,169.6 433.8,169.7 434.4,169.7 434.9,169.9 435.5,169.6 436.0,169.8 436.6,168.9 437.1,169.8 437.7,168.8 438.2,169.9 438.8,169.7 439.3,169.8 439.9,169.8 440.4,169.6 441.0,169.9 441.5,169.9 442.1,169.8 442.6,169.7 443.2,169.8 443.7,169.0 444.3,169.3 444.8,169.4 445.4,169.0 445.9,168.6 446.5,168.5 447.0,169.0 447.6,169.7 448.1,169.7 448.7,169.8 449.2,169.7 449.8,169.8 450.3,169.6 450.9,169.7 451.4,169.7 452.0,169.8 452.5,169.9 453.1,169.9 453.6,169.7 454.2,169.7 454.7,169.7 455.3,169.7 455.8,169.6 456.4,168.8 456.9,169.7 457.5,169.7 458.0,169.7 458.6,169.8 459.1,169.8 459.7,169.9 460.2,169.9 460.8,169.7 461.3,169.9 461.9,169.8 462.4,169.9 463.0,169.7 463.5,169.9 464.1,169.6 464.5,169.9" fill="#8e3c98"/>
<line x1="237.50" y1="169.90" x2="464.50" y2="169.90" stroke="#202020" stroke-width="1.3" />
<polygon points="237.5,190.0 238.0,190.0 238.6,189.9 239.1,189.9 239.7,189.5 240.2,190.0 240.8,189.8 241.3,189.7 241.9,189.8 242.4,189.7 243.0,189.6 243.5,189.6 244.1,189.6 244.6,190.0 245.2,189.6 245.7,189.6 246.3,189.5 246.8,189.7 247.4,189.9 247.9,189.8 248.5,189.8 249.0,189.7 249.6,189.6 250.1,189.5 250.7,189.9 251.2,189.8 251.8,189.5 252.3,189.6 252.9,189.6 253.4,189.6 254.0,189.7 254.5,189.6 255.1,189.7 255.6,189.7 256.2,189.9 256.7,189.7 257.3,189.5 257.8,189.6 258.4,189.5 258.9,189.9 259.5,189.6 260.0,189.5 260.6,189.5 261.1,189.8 261.7,189.7 262.2,189.6 262.8,189.9 263.3,188.6 263.9,189.9 264.4,189.7 265.0,189.7 265.5,189.7 266.1,190.0 266.6,190.0 267.2,189.9 267.7,189.8 268.3,189.7 268.8,189.6 269.4,190.0 269.9,189.8 270.5,189.8 271.0,190.0 271.6,189.8 272.1,190.0 272.7,189.9 273.2,189.6 273.8,189.9 274.3,189.6 274.9,189.9 275.4,189.7 276.0,189.9 276.5,190.0 277.1,189.8 277.6,189.7 278.2,190.0 278.7,188.3 279.3,189.5 279.8,189.7 280.4,189.6 280.9,189.8 281.5,189.9 282.0,189.6 282.6,187.2 283.1,186.5 283.7,185.2 284.2,185.0 284.8,184.8 285.3,187.2 285.9,186.1 286.4,184.7 287.0,184.1 287.5,183.0 288.1,185.9 288.6,185.4 289.2,183.8 289.7,186.2 290.3,186.1 290.8,185.6 291.4,186.8 291.9,189.2 292.5,189.8 293.0,190.0 293.6,189.8 294.1,189.1 294.7,189.7 295.2,189.8 295.8,189.7 296.3,189.6 296.9,189.6 297.4,189.8 298.0,189.9 298.5,189.0 299.1,189.2 299.6,188.6 300.2,187.8 300.7,188.8 301.3,188.4 301.8,189.4 302.4,189.7 302.9,189.6 303.5,189.5 304.0,189.9 304.6,189.8 305.1,189.8 305.7,190.0 306.2,189.9 306.8,190.0 307.3,189.9 307.9,189.7 308.4,189.9 309.0,189.9 309.5,189.9 310.1,189.7 310.6,189.5 311.2,188.8 311.7,188.1 312.3,187.6 312.8,188.3 313.4,188.8 313.9,188.8 314.5,187.9 315.0,188.6 315.6,189.7 316.1,189.7 316.7,189.6 317.2,189.5 317.8,190.0 318.3,189.7 318.9,189.7 319.4,189.9 320.0,189.7 320.5,190.0 321.1,189.7 321.6,189.7 322.2,190.0 322.7,189.7 323.3,189.7 323.8,189.0 324.4,187.8 324.9,187.2 325.5,184.8 326.0,186.4 326.6,187.4 327.1,187.2 327.7,187.9 328.2,186.9 328.8,186.3 329.3,185.0 329.9,186.6 330.4,185.0 331.0,185.7 331.5,187.7 332.1,188.4 332.6,187.5 333.2,188.1 333.7,187.6 334.3,187.8 334.8,187.6 335.4,187.2 335.9,189.4 336.5,189.7 337.0,189.8 337.6,189.9 338.1,189.8 338.7,190.0 339.2,189.7 339.8,188.9 340.3,188.4 340.9,187.0 341.4,188.0 342.0,186.7 342.5,186.7 343.1,187.9 343.6,187.7 344.2,188.7 344.7,188.8 345.3,186.7 345.8,186.2 346.4,187.2 346.9,186.0 347.5,185.3 348.0,186.5 348.6,187.3 349.1,187.0 349.7,186.7 350.2,187.0 350.8,186.5 351.3,182.0 351.9,185.3 352.4,183.8 353.0,184.4 353.5,186.5 354.1,186.6 354.6,187.2 355.2,188.8 355.7,188.0 356.3,188.0 356.8,185.5 357.4,185.0 357.9,186.0 358.5,185.6 359.0,187.7 359.6,185.7 360.1,187.9 360.7,189.7 361.2,189.6 361.8,189.9 362.3,188.6 362.9,188.0 363.4,187.7 364.0,185.8 364.5,186.0 365.1,187.4 365.6,188.6 366.2,189.6 366.7,189.9 367.3,189.8 367.8,189.9 368.4,189.8 368.9,189.6 369.5,189.9 370.0,189.6 370.6,189.7 371.1,188.5 371.7,188.5 372.2,187.8 372.8,187.6 373.3,187.2 373.9,187.2 374.4,186.1 375.0,187.2 375.5,186.2 376.1,187.6 376.6,189.6 377.2,189.7 377.7,189.6 378.3,189.0 378.8,187.4 379.4,187.3 379.9,188.3 380.5,187.6 381.0,187.8 381.6,189.0 382.1,190.0 382.7,189.9 383.2,189.9 383.8,189.9 384.3,189.8 384.9,189.5 385.4,189.7 386.0,189.8 386.5,189.6 387.1,189.6 387.6,189.9 388.2,189.6 388.7,189.8 389.3,189.6 389.8,188.6 390.4,188.1 390.9,188.4 391.5,187.0 392.0,187.3 392.6,186.8 393.1,187.9 393.7,188.1 394.2,188.7 394.8,189.9 395.3,189.8 395.9,189.9 396.4,189.7 397.0,188.6 397.5,187.9 398.1,186.5 398.6,186.1 399.2,187.0 399.7,186.2 400.3,187.6 400.8,188.4 401.4,189.1 401.9,189.8 402.5,189.8 403.0,190.0 403.6,189.7 404.1,189.9 404.7,189.8 405.2,189.7 405.8,189.9 406.3,189.7 406.9,189.7 407.4,189.9 408.0,189.6 408.5,188.1 409.1,190.0 409.6,188.4 410.2,189.9 410.7,189.7 411.3,189.8 411.8,189.9 412.4,189.9 412.9,189.7 413.5,189.9 414.0,190.0 414.6,189.8 415.1,189.9 415.7,189.8 416.2,189.8 416.8,189.8 417.3,189.7 417.9,189.9 418.4,188.6 419.0,189.8 419.5,189.8 420.1,189.7 420.6,189.9 421.2,189.7 421.7,188.3 422.3,189.8 422.8,185.5 423.4,184.3 423.9,179.6 424.5,181.5 425.0,183.0 425.6,185.1 426.1,186.6 426.7,186.7 427.2,186.3 427.8,187.0 428.3,187.5 428.9,188.7 429.4,189.7 430.0,189.8 430.5,189.9 431.1,190.0 431.6,190.0 432.2,189.0 432.7,189.0 433.3,188.3 433.8,189.1 434.4,189.8 434.9,189.6 435.5,189.8 436.0,189.6 436.6,189.7 437.1,190.0 437.7,189.8 438.2,188.6 438.8,189.9 439.3,189.9 439.9,189.7 440.4,189.8 441.0,189.8 441.5,189.9 442.1,189.5 442.6,189.7 443.2,189.9 443.7,189.8 444.3,190.0 444.8,189.7 445.4,189.1 445.9,189.7 446.5,189.6 447.0,189.8 447.6,189.5 448.1,189.6 448.7,189.9 449.2,189.8 449.8,190.0 450.3,189.6 450.9,190.0 451.4,189.8 452.0,189.1 452.5,188.6 453.1,188.3 453.6,188.7 454.2,189.1 454.7,189.7 455.3,189.6 455.8,189.7 456.4,189.6 456.9,189.9 457.5,190.0 458.0,189.6 458.6,189.6 459.1,189.6 459.7,189.8 460.2,190.0 460.8,190.0 461.3,189.9 461.9,189.8 462.4,189.9 463.0,189.7 463.5,189.8 464.1,189.9 464.5,190.0" fill="#b5232b"/>
<line x1="237.50" y1="190.00" x2="464.50" y2="190.00" stroke="#202020" stroke-width="1.3" />
<polygon points="237.5,209.9 238.0,209.8 238.6,209.6 239.1,209.6 239.7,209.7 240.2,209.7 240.8,209.6 241.3,209.6 241.9,209.9 242.4,209.9 243.0,209.9 243.5,209.7 244.1,209.9 244.6,209.8 245.2,209.7 245.7,209.3 246.3,209.6 246.8,209.9 247.4,209.8 247.9,209.7 248.5,209.6 249.0,209.9 249.6,209.9 250.1,209.7 250.7,209.9 251.2,209.8 251.8,209.8 252.3,209.8 252.9,209.7 253.4,209.7 254.0,209.7 254.5,209.8 255.1,209.6 255.6,209.7 256.2,209.8 256.7,209.7 257.3,209.6 257.8,209.7 258.4,209.8 258.9,209.9 259.5,209.8 260.0,209.8 260.6,209.7 261.1,209.9 261.7,209.8 262.2,209.6 262.8,209.7 263.3,209.8 263.9,209.8 264.4,209.6 265.0,209.8 265.5,209.7 266.1,209.7 266.6,209.6 267.2,209.7 267.7,209.7 268.3,209.7 268.8,209.6 269.4,209.6 269.9,209.9 270.5,209.8 271.0,209.9 271.6,209.7 272.1,209.6 272.7,209.7 273.2,209.9 273.8,209.4 274.3,209.8 274.9,209.9 275.4,209.6 276.0,209.7 276.5,209.6 277.1,209.7 277.6,209.6 278.2,209.6 278.7,209.8 279.3,209.8 279.8,209.9 280.4,209.6 280.9,209.7 281.5,209.9 282.0,209.7 282.6,209.6 283.1,209.7 283.7,209.9 284.2,209.7 284.8,209.4 285.3,209.2 285.9,208.7 286.4,208.7 287.0,209.2 287.5,209.4 288.1,209.0 288.6,208.8 289.2,208.6 289.7,208.4 290.3,209.0 290.8,209.9 291.4,209.8 291.9,209.7 292.5,209.8 293.0,209.6 293.6,209.9 294.1,209.8 294.7,209.7 295.2,209.9 295.8,209.7 296.3,209.7 296.9,209.7 297.4,209.3 298.0,209.9 298.5,209.7 299.1,209.8 299.6,209.8 300.2,208.8 300.7,209.1 301.3,208.9 301.8,208.7 302.4,209.8 302.9,209.7 303.5,209.9 304.0,209.2 304.6,209.6 305.1,209.7 305.7,209.8 306.2,209.8 306.8,209.8 307.3,209.7 307.9,209.9 308.4,209.9 309.0,209.7 309.5,209.6 310.1,209.0 310.6,209.9 311.2,209.9 311.7,209.7 312.3,209.7 312.8,209.7 313.4,209.6 313.9,209.9 314.5,209.7 315.0,209.7 315.6,209.6 316.1,209.9 316.7,209.7 317.2,209.8 317.8,209.6 318.3,209.8 318.9,209.7 319.4,209.7 320.0,209.7 320.5,209.7 321.1,209.7 321.6,209.8 322.2,209.7 322.7,209.8 323.3,209.7 323.8,209.8 324.4,209.8 324.9,209.2 325.5,208.7 326.0,208.9 326.6,208.9 327.1,209.2 327.7,209.8 328.2,209.8 328.8,209.8 329.3,209.7 329.9,209.8 330.4,209.7 331.0,209.7 331.5,209.8 332.1,209.4 332.6,208.7 333.2,209.7 333.7,209.7 334.3,209.8 334.8,209.7 335.4,209.8 335.9,209.8 336.5,209.7 337.0,209.6 337.6,209.8 338.1,209.8 338.7,209.8 339.2,209.8 339.8,209.6 340.3,209.6 340.9,209.8 341.4,209.7 342.0,209.9 342.5,209.8 343.1,209.7 343.6,209.9 344.2,209.8 344.7,209.4 345.3,209.8 345.8,208.8 346.4,208.8 346.9,208.0 347.5,206.8 348.0,207.6 348.6,207.9 349.1,207.9 349.7,208.3 350.2,207.4 350.8,208.1 351.3,208.1 351.9,207.7 352.4,206.0 353.0,207.8 353.5,207.4 354.1,208.2 354.6,209.0 355.2,209.1 355.7,209.0 356.3,208.2 356.8,208.2 357.4,207.3 357.9,208.0 358.5,208.7 359.0,208.9 359.6,209.5 360.1,209.9 360.7,209.7 361.2,209.8 361.8,209.8 362.3,209.6 362.9,209.8 363.4,209.3 364.0,209.0 364.5,208.4 365.1,208.9 365.6,208.9 366.2,208.8 366.7,209.4 367.3,209.8 367.8,209.9 368.4,209.8 368.9,209.8 369.5,209.9 370.0,209.7 370.6,209.8 371.1,209.7 371.7,209.7 372.2,209.8 372.8,209.2 373.3,208.7 373.9,208.2 374.4,209.2 375.0,208.6 375.5,209.7 376.1,209.7 376.6,208.8 377.2,209.7 377.7,209.7 378.3,209.8 378.8,209.8 379.4,209.5 379.9,209.8 380.5,209.9 381.0,209.8 381.6,209.6 382.1,209.6 382.7,209.8 383.2,209.8 383.8,209.7 384.3,209.8 384.9,209.6 385.4,209.7 386.0,209.9 386.5,209.8 387.1,209.8 387.6,209.6 388.2,209.7 388.7,209.8 389.3,209.8 389.8,209.8 390.4,209.8 390.9,209.7 391.5,209.0 392.0,209.6 392.6,209.8 393.1,209.7 393.7,209.8 394.2,209.9 394.8,209.8 395.3,209.7 395.9,209.0 396.4,207.9 397.0,207.7 397.5,207.5 398.1,208.5 398.6,207.1 399.2,207.6 399.7,208.4 400.3,208.8 400.8,209.6 401.4,209.9 401.9,209.7 402.5,209.8 403.0,209.8 403.6,209.8 404.1,209.8 404.7,209.7 405.2,209.7 405.8,209.9 406.3,209.8 406.9,208.9 407.4,209.7 408.0,209.7 408.5,209.7 409.1,209.7 409.6,209.8 410.2,209.9 410.7,209.7 411.3,209.7 411.8,209.9 412.4,209.6 412.9,209.6 413.5,209.8 414.0,209.8 414.6,209.8 415.1,209.8 415.7,209.7 416.2,209.8 416.8,209.5 417.3,209.7 417.9,209.6 418.4,209.9 419.0,209.8 419.5,209.8 420.1,209.9 420.6,209.7 421.2,209.8 421.7,209.7 422.3,209.8 422.8,209.6 423.4,208.9 423.9,208.2 424.5,207.7 425.0,207.6 425.6,208.4 426.1,207.8 426.7,208.9 427.2,209.7 427.8,209.7 428.3,209.3 428.9,209.7 429.4,209.9 430.0,209.8 430.5,209.8 431.1,209.7 431.6,209.7 432.2,208.7 432.7,209.0 433.3,209.8 433.8,209.7 434.4,209.9 434.9,209.8 435.5,209.8 436.0,209.8 436.6,209.8 437.1,209.7 437.7,209.7 438.2,209.9 438.8,209.3 439.3,209.8 439.9,209.7 440.4,209.9 441.0,209.8 441.5,209.6 442.1,209.7 442.6,209.9 443.2,209.6 443.7,209.7 444.3,209.9 444.8,209.9 445.4,209.7 445.9,209.4 446.5,209.8 447.0,209.7 447.6,209.9 448.1,209.8 448.7,209.9 449.2,209.8 449.8,209.8 450.3,209.9 450.9,209.9 451.4,209.8 452.0,209.6 452.5,209.9 453.1,209.7 453.6,209.8 454.2,209.8 454.7,209.8 455.3,209.8 455.8,209.7 456.4,209.7 456.9,209.8 457.5,209.7 458.0,209.7 458.6,209.8 459.1,209.8 459.7,209.6 460.2,209.6 460.8,209.7 461.3,209.8 461.9,208.8 462.4,207.8 463.0,208.9 463.5,208.9 464.1,209.4 464.5,209.9" fill="#3f80c4"/>
<line x1="237.50" y1="209.90" x2="464.50" y2="209.90" stroke="#202020" stroke-width="1.3" />
<text x="339.20" y="143.00" font-size="13.5" font-weight="normal" font-style="italic" fill="#1c2068" stroke="#1c2068" stroke-width="0.5" text-anchor="end" >KLF4</text>
<line x1="342.50" y1="138.20" x2="357.00" y2="138.20" stroke="#1c2068" stroke-width="1.3" />
<path d="M342.3,138.2 l2.8,-2.4 l0,4.8 z" fill="#1c2068"/>
<ellipse cx="348.6" cy="138.2" rx="2.0" ry="3.1" fill="#1c2068"/>
<ellipse cx="353.0" cy="138.2" rx="2.0" ry="3.1" fill="#1c2068"/>
<rect x="350.00" y="143.20" width="8.80" height="6.20" fill="#1a7a34" stroke="none" stroke-width="1" />
<rect x="288.10" y="142.80" width="1.70" height="6.40" fill="#1a7a34" stroke="none" stroke-width="1" />
<line x1="479.12" y1="149.60" x2="479.12" y2="210.20" stroke="#555" stroke-width="0.9" />
<line x1="486.94" y1="149.60" x2="486.94" y2="210.20" stroke="#555" stroke-width="0.9" />
<line x1="494.76" y1="149.60" x2="494.76" y2="210.20" stroke="#555" stroke-width="0.9" />
<line x1="502.58" y1="149.60" x2="502.58" y2="210.20" stroke="#555" stroke-width="0.9" />
<line x1="510.40" y1="149.60" x2="510.40" y2="210.20" stroke="#555" stroke-width="0.9" />
<rect x="471.30" y="150.40" width="20.33" height="17.60" fill="#9b4ea8" stroke="none" stroke-width="1" />
<rect x="471.30" y="170.50" width="33.63" height="17.60" fill="#c0272d" stroke="none" stroke-width="1" />
<rect x="471.30" y="190.60" width="16.03" height="17.60" fill="#4a86c5" stroke="none" stroke-width="1" />
<line x1="471.30" y1="149.60" x2="510.40" y2="149.60" stroke="#333" stroke-width="0.9" />
<line x1="471.30" y1="149.60" x2="471.30" y2="210.20" stroke="#222" stroke-width="1.1" />
<line x1="471.30" y1="210.20" x2="510.40" y2="210.20" stroke="#222" stroke-width="1.1" />
<line x1="468.80" y1="169.80" x2="471.30" y2="169.80" stroke="#000" stroke-width="1" />
<line x1="468.80" y1="190.00" x2="471.30" y2="190.00" stroke="#000" stroke-width="1" />
<line x1="471.30" y1="210.20" x2="471.30" y2="211.60" stroke="#000" stroke-width="1" />
<text x="471.30" y="220.80" font-size="9.3" font-weight="bold" font-style="normal" fill="#000" stroke="#000" stroke-width="0.3" text-anchor="middle" >0</text>
<line x1="479.12" y1="210.20" x2="479.12" y2="211.60" stroke="#000" stroke-width="1" />
<text x="479.12" y="220.80" font-size="9.3" font-weight="bold" font-style="normal" fill="#000" stroke="#000" stroke-width="0.3" text-anchor="middle" >1</text>
<line x1="486.94" y1="210.20" x2="486.94" y2="211.60" stroke="#000" stroke-width="1" />
<text x="486.94" y="220.80" font-size="9.3" font-weight="bold" font-style="normal" fill="#000" stroke="#000" stroke-width="0.3" text-anchor="middle" >2</text>
<line x1="494.76" y1="210.20" x2="494.76" y2="211.60" stroke="#000" stroke-width="1" />
<text x="494.76" y="220.80" font-size="9.3" font-weight="bold" font-style="normal" fill="#000" stroke="#000" stroke-width="0.3" text-anchor="middle" >3</text>
<line x1="502.58" y1="210.20" x2="502.58" y2="211.60" stroke="#000" stroke-width="1" />
<text x="502.58" y="220.80" font-size="9.3" font-weight="bold" font-style="normal" fill="#000" stroke="#000" stroke-width="0.3" text-anchor="middle" >4</text>
<line x1="510.40" y1="210.20" x2="510.40" y2="211.60" stroke="#000" stroke-width="1" />
<text x="510.40" y="220.80" font-size="9.3" font-weight="bold" font-style="normal" fill="#000" stroke="#000" stroke-width="0.3" text-anchor="middle" >5</text>
<rect x="262.60" y="257.50" width="12.40" height="60.50" fill="#d6e3f1" stroke="none" stroke-width="1" />
<rect x="276.90" y="257.50" width="12.70" height="60.50" fill="#d6e3f1" stroke="none" stroke-width="1" />
<rect x="293.00" y="257.50" width="8.80" height="60.50" fill="#d6e3f1" stroke="none" stroke-width="1" />
<line x1="237.00" y1="229.50" x2="237.00" y2="318.30" stroke="#eab0b0" stroke-width="0.9" />
<text x="233.80" y="240.00" font-size="9.2" font-weight="bold" font-style="normal" fill="#000" stroke="#000" stroke-width="0.3" text-anchor="end" >chr3:</text>
<text x="307.40" y="232.40" font-size="10.0" font-weight="bold" font-style="normal" fill="#000" stroke="#000" stroke-width="0.3" text-anchor="middle" >69750000</text>
<line x1="307.90" y1="234.20" x2="307.90" y2="240.50" stroke="#000" stroke-width="1.0" />
<text x="363.40" y="232.40" font-size="10.0" font-weight="bold" font-style="normal" fill="#000" stroke="#000" stroke-width="0.3" text-anchor="middle" >69770000</text>
<line x1="365.00" y1="234.20" x2="365.00" y2="240.50" stroke="#000" stroke-width="1.0" />
<text x="420.50" y="232.40" font-size="10.0" font-weight="bold" font-style="normal" fill="#000" stroke="#000" stroke-width="0.3" text-anchor="middle" >69790000</text>
<line x1="421.20" y1="234.20" x2="421.20" y2="240.50" stroke="#000" stroke-width="1.0" />
<text x="223.30" y="274.20" font-size="13.3" font-weight="normal" font-style="normal" fill="#84488e" stroke="#84488e" stroke-width="0.3" text-anchor="end" >HSC</text>
<text x="235.30" y="264.90" font-size="8.6" font-weight="normal" font-style="normal" fill="#84488e" stroke="#84488e" stroke-width="0.45" text-anchor="end" >25</text>
<text x="223.30" y="294.30" font-size="13.3" font-weight="normal" font-style="normal" fill="#b01e2c" stroke="#b01e2c" stroke-width="0.3" text-anchor="end" >MO</text>
<text x="235.30" y="285.00" font-size="8.6" font-weight="normal" font-style="normal" fill="#b01e2c" stroke="#b01e2c" stroke-width="0.45" text-anchor="end" >25</text>
<text x="223.30" y="314.20" font-size="13.3" font-weight="normal" font-style="normal" fill="#3f7bb5" stroke="#3f7bb5" stroke-width="0.3" text-anchor="end" >MAC</text>
<text x="235.30" y="304.90" font-size="8.6" font-weight="normal" font-style="normal" fill="#3f7bb5" stroke="#3f7bb5" stroke-width="0.45" text-anchor="end" >25</text>
<polygon points="237.5,277.8 238.0,277.6 238.6,277.8 239.1,277.6 239.7,277.7 240.2,277.6 240.8,277.6 241.3,277.7 241.9,277.8 242.4,277.6 243.0,277.6 243.5,277.6 244.1,277.6 244.6,277.6 245.2,277.6 245.7,277.6 246.3,277.7 246.8,277.6 247.4,277.6 247.9,277.8 248.5,277.7 249.0,277.7 249.6,277.8 250.1,277.7 250.7,277.7 251.2,277.7 251.8,277.7 252.3,277.4 252.9,277.8 253.4,277.7 254.0,276.8 254.5,277.7 255.1,277.7 255.6,277.7 256.2,277.7 256.7,277.6 257.3,277.6 257.8,277.8 258.4,277.8 258.9,277.6 259.5,277.7 260.0,277.8 260.6,277.7 261.1,277.8 261.7,277.7 262.2,277.6 262.8,277.6 263.3,277.7 263.9,277.6 264.4,277.8 265.0,277.6 265.5,277.6 266.1,277.6 266.6,277.7 267.2,277.6 267.7,277.8 268.3,277.6 268.8,277.6 269.4,277.8 269.9,277.5 270.5,276.8 271.0,276.9 271.6,276.9 272.1,277.0 272.7,277.6 273.2,277.6 273.8,277.7 274.3,277.7 274.9,277.7 275.4,277.7 276.0,277.7 276.5,277.8 277.1,277.8 277.6,277.8 278.2,277.6 278.7,277.6 279.3,277.7 279.8,277.8 280.4,277.7 280.9,277.8 281.5,277.7 282.0,277.7 282.6,277.6 283.1,277.7 283.7,277.7 284.2,277.6 284.8,277.8 285.3,277.6 285.9,277.6 286.4,277.6 287.0,277.7 287.5,277.7 288.1,277.7 288.6,277.7 289.2,277.7 289.7,277.7 290.3,277.8 290.8,277.7 291.4,277.6 291.9,277.7 292.5,277.7 293.0,277.6 293.6,277.5 294.1,275.4 294.7,276.5 295.2,276.3 295.8,276.1 296.3,277.7 296.9,277.6 297.4,277.7 298.0,277.7 298.5,277.6 299.1,277.7 299.6,277.6 300.2,277.2 300.7,276.2 301.3,276.6 301.8,277.2 302.4,277.7 302.9,277.7 303.5,277.6 304.0,277.8 304.6,277.6 305.1,277.6 305.7,277.7 306.2,276.9 306.8,277.8 307.3,277.6 307.9,277.6 308.4,277.7 309.0,277.6 309.5,277.6 310.1,277.6 310.6,277.7 311.2,277.7 311.7,277.6 312.3,277.7 312.8,277.6 313.4,277.6 313.9,277.7 314.5,277.7 315.0,277.7 315.6,277.8 316.1,277.7 316.7,277.8 317.2,277.0 317.8,277.6 318.3,277.7 318.9,277.6 319.4,277.7 320.0,277.5 320.5,277.6 321.1,277.6 321.6,277.6 322.2,277.7 322.7,277.7 323.3,277.7 323.8,277.7 324.4,277.6 324.9,277.7 325.5,277.6 326.0,277.7 326.6,277.7 327.1,277.8 327.7,277.6 328.2,277.7 328.8,277.7 329.3,277.6 329.9,277.3 330.4,276.6 331.0,276.5 331.5,276.9 332.1,276.9 332.6,277.6 333.2,277.6 333.7,277.6 334.3,277.6 334.8,277.4 335.4,276.7 335.9,276.0 336.5,276.6 337.0,277.2 337.6,277.7 338.1,277.6 338.7,277.6 339.2,277.8 339.8,277.3 340.3,277.7 340.9,277.7 341.4,277.7 342.0,277.6 342.5,277.7 343.1,277.7 343.6,277.7 344.2,277.6 344.7,277.8 345.3,277.6 345.8,277.6 346.4,277.7 346.9,277.7 347.5,277.7 348.0,277.7 348.6,277.6 349.1,277.6 349.7,277.7 350.2,277.2 350.8,277.7 351.3,277.3 351.9,277.1 352.4,277.7 353.0,277.7 353.5,277.8 354.1,277.7 354.6,277.7 355.2,277.7 355.7,277.7 356.3,277.8 356.8,277.0 357.4,276.1 357.9,276.4 358.5,276.0 359.0,276.6 359.6,277.7 360.1,277.7 360.7,277.7 361.2,277.6 361.8,277.6 362.3,276.9 362.9,277.3 363.4,277.6 364.0,277.8 364.5,277.7 365.1,277.7 365.6,277.0 366.2,277.7 366.7,277.5 367.3,277.6 367.8,277.7 368.4,277.6 368.9,277.7 369.5,277.6 370.0,275.8 370.6,274.9 371.1,275.3 371.7,274.4 372.2,276.3 372.8,277.1 373.3,275.0 373.9,275.2 374.4,276.0 375.0,276.3 375.5,277.0 376.1,277.8 376.6,277.7 377.2,277.8 377.7,277.8 378.3,277.7 378.8,277.7 379.4,277.7 379.9,277.6 380.5,277.6 381.0,277.7 381.6,277.7 382.1,277.6 382.7,277.8 383.2,277.6 383.8,277.1 384.3,277.7 384.9,277.7 385.4,277.6 386.0,277.6 386.5,277.6 387.1,277.0 387.6,276.4 388.2,275.8 388.7,276.6 389.3,277.4 389.8,276.0 390.4,275.1 390.9,273.3 391.5,274.6 392.0,274.8 392.6,277.4 393.1,277.6 393.7,277.7 394.2,277.7 394.8,277.8 395.3,277.7 395.9,277.7 396.4,277.7 397.0,277.8 397.5,277.8 398.1,276.8 398.6,276.2 399.2,276.9 399.7,276.0 400.3,277.4 400.8,277.8 401.4,277.7 401.9,277.7 402.5,277.6 403.0,277.8 403.6,277.6 404.1,277.8 404.7,277.6 405.2,277.4 405.8,276.8 406.3,277.6 406.9,277.6 407.4,277.1 408.0,277.2 408.5,276.8 409.1,276.2 409.6,276.9 410.2,277.3 410.7,277.6 411.3,277.8 411.8,277.7 412.4,277.7 412.9,276.9 413.5,277.6 414.0,277.6 414.6,277.7 415.1,277.8 415.7,277.7 416.2,277.8 416.8,277.4 417.3,276.6 417.9,276.9 418.4,276.5 419.0,277.0 419.5,277.7 420.1,277.6 420.6,277.8 421.2,277.7 421.7,277.7 422.3,277.7 422.8,277.7 423.4,277.8 423.9,277.1 424.5,277.7 425.0,277.7 425.6,277.8 426.1,277.6 426.7,277.7 427.2,277.8 427.8,277.6 428.3,277.7 428.9,277.6 429.4,277.7 430.0,277.6 430.5,277.6 431.1,277.7 431.6,277.6 432.2,277.8 432.7,277.1 433.3,277.0 433.8,277.7 434.4,277.6 434.9,277.8 435.5,277.7 436.0,277.6 436.6,277.8 437.1,277.7 437.7,277.7 438.2,277.0 438.8,275.2 439.3,274.0 439.9,275.6 440.4,274.7 441.0,276.0 441.5,276.4 442.1,275.4 442.6,273.1 443.2,274.0 443.7,275.1 444.3,275.9 444.8,277.7 445.4,277.6 445.9,277.7 446.5,277.7 447.0,277.7 447.6,277.7 448.1,277.8 448.7,277.7 449.2,277.7 449.8,277.8 450.3,277.7 450.9,277.4 451.4,276.7 452.0,276.7 452.5,276.7 453.1,277.3 453.6,277.6 454.2,277.6 454.7,277.8 455.3,277.6 455.8,277.7 456.4,277.7 456.9,277.7 457.5,277.6 458.0,277.8 458.6,277.7 459.1,277.8 459.7,277.7 460.2,277.7 460.8,277.8 461.3,277.6 461.9,277.6 462.4,277.7 463.0,277.6 463.5,277.2 464.1,277.8 464.5,277.8" fill="#8e3c98"/>
<line x1="237.50" y1="277.80" x2="464.50" y2="277.80" stroke="#202020" stroke-width="1.3" />
<polygon points="237.5,297.9 238.0,297.5 238.6,297.8 239.1,297.6 239.7,297.8 240.2,297.9 240.8,297.8 241.3,297.7 241.9,297.6 242.4,297.7 243.0,296.4 243.5,297.3 244.1,297.6 244.6,297.8 245.2,297.5 245.7,297.9 246.3,297.6 246.8,297.8 247.4,297.8 247.9,297.8 248.5,297.8 249.0,297.7 249.6,297.7 250.1,297.9 250.7,297.5 251.2,297.5 251.8,297.7 252.3,297.7 252.9,297.8 253.4,297.5 254.0,297.7 254.5,297.9 255.1,297.6 255.6,297.5 256.2,297.8 256.7,297.6 257.3,297.8 257.8,297.6 258.4,297.6 258.9,297.8 259.5,297.6 260.0,297.8 260.6,297.7 261.1,297.6 261.7,297.7 262.2,297.5 262.8,297.8 263.3,297.8 263.9,297.9 264.4,297.7 265.0,297.7 265.5,297.7 266.1,297.5 266.6,297.8 267.2,297.6 267.7,297.6 268.3,297.9 268.8,297.5 269.4,297.8 269.9,296.9 270.5,296.2 271.0,296.4 271.6,295.8 272.1,296.9 272.7,297.7 273.2,296.6 273.8,296.6 274.3,294.9 274.9,296.7 275.4,297.8 276.0,297.6 276.5,297.5 277.1,297.9 277.6,297.9 278.2,297.8 278.7,297.7 279.3,296.3 279.8,297.7 280.4,297.8 280.9,296.5 281.5,295.7 282.0,296.8 282.6,296.5 283.1,296.5 283.7,297.0 284.2,296.2 284.8,296.6 285.3,297.6 285.9,297.7 286.4,297.8 287.0,297.1 287.5,297.8 288.1,297.5 288.6,297.6 289.2,297.8 289.7,297.6 290.3,297.9 290.8,297.3 291.4,297.6 291.9,297.5 292.5,297.5 293.0,297.8 293.6,297.5 294.1,297.6 294.7,296.9 295.2,297.5 295.8,297.9 296.3,297.5 296.9,297.5 297.4,297.9 298.0,296.7 298.5,296.3 299.1,295.8 299.6,295.6 300.2,297.1 300.7,297.8 301.3,297.6 301.8,297.5 302.4,296.7 302.9,297.8 303.5,296.2 304.0,297.7 304.6,297.5 305.1,297.7 305.7,297.7 306.2,297.6 306.8,297.5 307.3,297.7 307.9,297.8 308.4,297.9 309.0,297.7 309.5,297.5 310.1,297.8 310.6,297.7 311.2,297.9 311.7,297.6 312.3,297.8 312.8,297.5 313.4,297.8 313.9,296.6 314.5,297.7 315.0,297.1 315.6,297.7 316.1,297.8 316.7,296.7 317.2,297.8 317.8,297.5 318.3,297.8 318.9,297.8 319.4,297.6 320.0,297.6 320.5,297.9 321.1,297.7 321.6,297.9 322.2,297.6 322.7,297.8 323.3,297.6 323.8,297.7 324.4,297.6 324.9,297.8 325.5,297.7 326.0,297.5 326.6,297.8 327.1,297.6 327.7,297.8 328.2,297.5 328.8,297.5 329.3,297.6 329.9,297.8 330.4,297.5 331.0,297.4 331.5,297.6 332.1,297.5 332.6,297.9 333.2,297.8 333.7,297.9 334.3,297.6 334.8,297.5 335.4,297.5 335.9,297.6 336.5,297.8 337.0,297.9 337.6,297.8 338.1,297.7 338.7,297.4 339.2,297.6 339.8,297.6 340.3,297.7 340.9,297.7 341.4,297.5 342.0,297.6 342.5,297.8 343.1,296.4 343.6,297.6 344.2,297.8 344.7,297.7 345.3,297.3 345.8,297.9 346.4,297.5 346.9,297.9 347.5,297.4 348.0,296.4 348.6,296.7 349.1,295.6 349.7,296.3 350.2,295.7 350.8,295.5 351.3,294.7 351.9,295.6 352.4,295.4 353.0,295.7 353.5,295.8 354.1,296.2 354.6,297.5 355.2,297.3 355.7,296.5 356.3,296.5 356.8,295.5 357.4,296.2 357.9,296.0 358.5,296.9 359.0,297.6 359.6,297.8 360.1,297.7 360.7,297.4 361.2,297.7 361.8,297.7 362.3,297.7 362.9,297.7 363.4,296.2 364.0,297.8 364.5,297.8 365.1,297.8 365.6,297.0 366.2,297.4 366.7,297.8 367.3,297.4 367.8,297.8 368.4,297.7 368.9,297.9 369.5,297.6 370.0,297.9 370.6,297.5 371.1,297.8 371.7,297.5 372.2,297.7 372.8,297.9 373.3,296.9 373.9,296.0 374.4,295.1 375.0,294.9 375.5,295.3 376.1,296.2 376.6,295.6 377.2,295.3 377.7,296.1 378.3,295.8 378.8,295.1 379.4,295.8 379.9,297.6 380.5,297.3 381.0,297.6 381.6,297.8 382.1,297.7 382.7,297.7 383.2,297.6 383.8,297.6 384.3,297.7 384.9,297.8 385.4,297.7 386.0,297.7 386.5,297.5 387.1,297.7 387.6,297.6 388.2,297.5 388.7,297.8 389.3,297.7 389.8,297.6 390.4,297.6 390.9,297.7 391.5,297.6 392.0,297.5 392.6,297.8 393.1,297.7 393.7,297.7 394.2,297.9 394.8,297.7 395.3,297.9 395.9,297.9 396.4,297.7 397.0,297.7 397.5,297.7 398.1,297.9 398.6,297.5 399.2,297.8 399.7,297.6 400.3,297.6 400.8,297.7 401.4,297.7 401.9,297.7 402.5,297.7 403.0,297.5 403.6,297.7 404.1,297.0 404.7,292.9 405.2,294.5 405.8,291.6 406.3,292.7 406.9,294.0 407.4,293.3 408.0,297.9 408.5,295.1 409.1,292.4 409.6,293.3 410.2,290.8 410.7,294.5 411.3,295.0 411.8,295.9 412.4,296.0 412.9,293.1 413.5,293.1 414.0,291.7 414.6,294.8 415.1,294.3 415.7,295.8 416.2,297.8 416.8,297.5 417.3,295.1 417.9,294.1 418.4,291.8 419.0,292.1 419.5,292.7 420.1,293.5 420.6,295.8 421.2,297.9 421.7,297.7 422.3,297.8 422.8,296.3 423.4,295.9 423.9,294.6 424.5,296.3 425.0,296.7 425.6,297.5 426.1,297.9 426.7,297.4 427.2,297.5 427.8,296.1 428.3,295.0 428.9,294.0 429.4,295.2 430.0,294.3 430.5,295.8 431.1,295.5 431.6,294.8 432.2,294.7 432.7,294.2 433.3,293.1 433.8,294.2 434.4,293.8 434.9,294.4 435.5,294.5 436.0,295.2 436.6,293.4 437.1,294.4 437.7,293.9 438.2,294.4 438.8,294.7 439.3,294.6 439.9,294.5 440.4,295.6 441.0,294.2 441.5,294.4 442.1,292.9 442.6,294.6 443.2,293.4 443.7,294.6 444.3,294.7 444.8,295.3 445.4,292.8 445.9,291.4 446.5,294.7 447.0,293.2 447.6,294.3 448.1,296.0 448.7,296.3 449.2,294.1 449.8,293.6 450.3,293.2 450.9,292.4 451.4,294.9 452.0,293.9 452.5,294.6 453.1,296.4 453.6,296.6 454.2,294.0 454.7,294.9 455.3,295.7 455.8,293.0 456.4,294.4 456.9,294.3 457.5,295.4 458.0,296.3 458.6,297.3 459.1,295.8 459.7,295.3 460.2,295.9 460.8,294.8 461.3,295.7 461.9,295.4 462.4,295.4 463.0,296.4 463.5,295.7 464.1,297.6 464.5,297.9" fill="#b5232b"/>
<line x1="237.50" y1="297.90" x2="464.50" y2="297.90" stroke="#202020" stroke-width="1.3" />
<polygon points="237.5,317.8 238.0,317.4 238.6,317.4 239.1,317.5 239.7,317.7 240.2,317.5 240.8,317.4 241.3,317.6 241.9,317.8 242.4,317.5 243.0,317.5 243.5,317.8 244.1,317.5 244.6,317.6 245.2,317.7 245.7,317.6 246.3,317.4 246.8,317.7 247.4,317.7 247.9,317.8 248.5,317.3 249.0,317.6 249.6,317.4 250.1,316.1 250.7,317.8 251.2,317.5 251.8,317.6 252.3,317.5 252.9,317.4 253.4,317.8 254.0,317.5 254.5,317.8 255.1,316.0 255.6,317.6 256.2,317.7 256.7,317.8 257.3,317.4 257.8,317.4 258.4,317.4 258.9,317.3 259.5,317.5 260.0,317.4 260.6,317.5 261.1,317.6 261.7,317.4 262.2,316.1 262.8,316.1 263.3,316.2 263.9,315.4 264.4,314.9 265.0,314.0 265.5,315.3 266.1,315.4 266.6,314.9 267.2,315.6 267.7,314.6 268.3,313.8 268.8,314.8 269.4,314.6 269.9,313.5 270.5,314.9 271.0,315.3 271.6,315.0 272.1,314.9 272.7,315.4 273.2,313.7 273.8,315.3 274.3,315.6 274.9,315.9 275.4,316.8 276.0,316.2 276.5,315.5 277.1,314.1 277.6,314.8 278.2,314.9 278.7,314.3 279.3,313.8 279.8,313.3 280.4,314.3 280.9,314.4 281.5,313.9 282.0,314.0 282.6,315.6 283.1,315.7 283.7,315.9 284.2,314.2 284.8,315.6 285.3,314.7 285.9,313.8 286.4,315.6 287.0,315.4 287.5,317.0 288.1,317.6 288.6,317.5 289.2,317.8 289.7,317.7 290.3,317.8 290.8,317.5 291.4,317.5 291.9,315.2 292.5,315.9 293.0,311.7 293.6,314.1 294.1,315.2 294.7,313.5 295.2,314.3 295.8,314.7 296.3,314.5 296.9,313.7 297.4,313.9 298.0,314.7 298.5,315.6 299.1,317.8 299.6,316.9 300.2,317.4 300.7,317.4 301.3,317.7 301.8,317.5 302.4,317.5 302.9,317.3 303.5,317.5 304.0,317.6 304.6,317.7 305.1,317.4 305.7,317.5 306.2,317.8 306.8,317.5 307.3,317.4 307.9,317.4 308.4,317.6 309.0,317.7 309.5,317.6 310.1,317.6 310.6,317.4 311.2,317.6 311.7,317.6 312.3,317.6 312.8,317.6 313.4,315.9 313.9,317.5 314.5,317.7 315.0,317.4 315.6,317.4 316.1,317.8 316.7,317.6 317.2,317.7 317.8,317.6 318.3,317.5 318.9,317.6 319.4,317.8 320.0,317.7 320.5,317.5 321.1,317.5 321.6,317.7 322.2,317.4 322.7,317.0 323.3,317.6 323.8,317.5 324.4,317.4 324.9,317.5 325.5,317.6 326.0,317.5 326.6,317.4 327.1,317.6 327.7,317.3 328.2,317.3 328.8,315.9 329.3,317.8 329.9,317.7 330.4,317.8 331.0,317.6 331.5,317.6 332.1,317.4 332.6,317.3 333.2,317.7 333.7,317.4 334.3,317.5 334.8,317.6 335.4,317.7 335.9,317.6 336.5,317.5 337.0,317.8 337.6,317.6 338.1,316.7 338.7,316.6 339.2,316.7 339.8,317.0 340.3,317.6 340.9,317.6 341.4,317.8 342.0,317.7 342.5,317.7 343.1,317.7 343.6,317.6 344.2,317.4 344.7,317.5 345.3,315.9 345.8,317.7 346.4,317.6 346.9,317.7 347.5,317.5 348.0,317.0 348.6,316.5 349.1,314.6 349.7,316.8 350.2,317.1 350.8,317.3 351.3,317.4 351.9,317.6 352.4,317.6 353.0,317.7 353.5,317.4 354.1,317.5 354.6,317.5 355.2,317.8 355.7,317.3 356.3,317.6 356.8,317.3 357.4,317.8 357.9,317.4 358.5,317.7 359.0,316.9 359.6,316.4 360.1,316.7 360.7,317.2 361.2,317.4 361.8,317.6 362.3,317.8 362.9,317.4 363.4,317.5 364.0,317.7 364.5,317.4 365.1,317.7 365.6,317.6 366.2,317.7 366.7,317.7 367.3,317.7 367.8,317.4 368.4,317.5 368.9,317.5 369.5,317.3 370.0,317.3 370.6,317.6 371.1,317.5 371.7,317.5 372.2,317.3 372.8,317.6 373.3,317.7 373.9,317.4 374.4,317.5 375.0,316.8 375.5,317.5 376.1,317.6 376.6,317.5 377.2,317.7 377.7,317.1 378.3,315.9 378.8,315.7 379.4,314.8 379.9,316.1 380.5,316.2 381.0,315.5 381.6,316.3 382.1,316.7 382.7,316.2 383.2,317.5 383.8,317.4 384.3,317.8 384.9,317.7 385.4,317.4 386.0,317.6 386.5,317.7 387.1,317.5 387.6,317.6 388.2,317.4 388.7,317.5 389.3,317.8 389.8,317.4 390.4,317.5 390.9,317.4 391.5,317.7 392.0,317.7 392.6,316.8 393.1,317.5 393.7,317.6 394.2,317.5 394.8,317.6 395.3,317.4 395.9,317.4 396.4,317.7 397.0,317.6 397.5,317.4 398.1,316.2 398.6,316.1 399.2,315.8 399.7,315.2 400.3,316.3 400.8,316.0 401.4,315.4 401.9,316.5 402.5,316.5 403.0,315.5 403.6,315.4 404.1,314.6 404.7,315.7 405.2,316.1 405.8,315.8 406.3,317.0 406.9,317.8 407.4,317.4 408.0,316.2 408.5,316.5 409.1,315.6 409.6,314.3 410.2,315.7 410.7,314.5 411.3,315.5 411.8,316.5 412.4,316.1 412.9,314.2 413.5,313.6 414.0,315.1 414.6,314.6 415.1,315.0 415.7,315.1 416.2,316.3 416.8,316.3 417.3,316.4 417.9,315.7 418.4,315.2 419.0,315.1 419.5,314.5 420.1,314.7 420.6,314.5 421.2,315.7 421.7,314.0 422.3,315.4 422.8,315.1 423.4,316.6 423.9,315.0 424.5,314.1 425.0,311.6 425.6,314.6 426.1,314.3 426.7,310.6 427.2,312.5 427.8,313.5 428.3,313.9 428.9,312.7 429.4,311.1 430.0,313.9 430.5,313.8 431.1,312.7 431.6,313.2 432.2,313.2 432.7,314.5 433.3,311.8 433.8,313.0 434.4,312.2 434.9,312.8 435.5,314.6 436.0,311.2 436.6,310.2 437.1,313.6 437.7,310.7 438.2,312.8 438.8,311.1 439.3,314.2 439.9,311.2 440.4,312.0 441.0,313.6 441.5,314.1 442.1,315.1 442.6,315.0 443.2,310.9 443.7,312.1 444.3,311.8 444.8,312.4 445.4,315.0 445.9,314.3 446.5,311.3 447.0,311.6 447.6,311.4 448.1,310.8 448.7,313.5 449.2,313.7 449.8,313.7 450.3,314.5 450.9,314.6 451.4,312.6 452.0,312.8 452.5,310.1 453.1,311.6 453.6,313.8 454.2,314.5 454.7,312.2 455.3,314.4 455.8,314.3 456.4,313.8 456.9,314.3 457.5,314.1 458.0,314.0 458.6,312.4 459.1,313.2 459.7,313.5 460.2,314.1 460.8,311.0 461.3,312.0 461.9,314.0 462.4,313.3 463.0,310.8 463.5,314.6 464.1,313.0 464.5,317.8" fill="#3f80c4"/>
<line x1="237.50" y1="317.80" x2="464.50" y2="317.80" stroke="#202020" stroke-width="1.3" />
<text x="411.50" y="251.90" font-size="13.5" font-weight="normal" font-style="italic" fill="#1c2068" stroke="#1c2068" stroke-width="0.5" text-anchor="end" >MITF</text>
<line x1="416.80" y1="246.20" x2="464.60" y2="246.20" stroke="#5058b0" stroke-width="0.9" />
<line x1="416.90" y1="242.60" x2="416.90" y2="249.80" stroke="#1f2a7a" stroke-width="1.0" />
<path d="M419,245.0 L420.2,246.2 L419,247.39999999999998" stroke="#4048a8" stroke-width="0.7" fill="none"/>
<path d="M421,245.0 L422.2,246.2 L421,247.39999999999998" stroke="#4048a8" stroke-width="0.7" fill="none"/>
<path d="M423,245.0 L424.2,246.2 L423,247.39999999999998" stroke="#4048a8" stroke-width="0.7" fill="none"/>
<path d="M425,245.0 L426.2,246.2 L425,247.39999999999998" stroke="#4048a8" stroke-width="0.7" fill="none"/>
<path d="M427,245.0 L428.2,246.2 L427,247.39999999999998" stroke="#4048a8" stroke-width="0.7" fill="none"/>
<path d="M429,245.0 L430.2,246.2 L429,247.39999999999998" stroke="#4048a8" stroke-width="0.7" fill="none"/>
<path d="M431,245.0 L432.2,246.2 L431,247.39999999999998" stroke="#4048a8" stroke-width="0.7" fill="none"/>
<path d="M433,245.0 L434.2,246.2 L433,247.39999999999998" stroke="#4048a8" stroke-width="0.7" fill="none"/>
<path d="M435,245.0 L436.2,246.2 L435,247.39999999999998" stroke="#4048a8" stroke-width="0.7" fill="none"/>
<path d="M437,245.0 L438.2,246.2 L437,247.39999999999998" stroke="#4048a8" stroke-width="0.7" fill="none"/>
<path d="M439,245.0 L440.2,246.2 L439,247.39999999999998" stroke="#4048a8" stroke-width="0.7" fill="none"/>
<path d="M441,245.0 L442.2,246.2 L441,247.39999999999998" stroke="#4048a8" stroke-width="0.7" fill="none"/>
<path d="M443,245.0 L444.2,246.2 L443,247.39999999999998" stroke="#4048a8" stroke-width="0.7" fill="none"/>
<path d="M445,245.0 L446.2,246.2 L445,247.39999999999998" stroke="#4048a8" stroke-width="0.7" fill="none"/>
<path d="M447,245.0 L448.2,246.2 L447,247.39999999999998" stroke="#4048a8" stroke-width="0.7" fill="none"/>
<path d="M449,245.0 L450.2,246.2 L449,247.39999999999998" stroke="#4048a8" stroke-width="0.7" fill="none"/>
<path d="M451,245.0 L452.2,246.2 L451,247.39999999999998" stroke="#4048a8" stroke-width="0.7" fill="none"/>
<path d="M453,245.0 L454.2,246.2 L453,247.39999999999998" stroke="#4048a8" stroke-width="0.7" fill="none"/>
<path d="M455,245.0 L456.2,246.2 L455,247.39999999999998" stroke="#4048a8" stroke-width="0.7" fill="none"/>
<path d="M457,245.0 L458.2,246.2 L457,247.39999999999998" stroke="#4048a8" stroke-width="0.7" fill="none"/>
<path d="M459,245.0 L460.2,246.2 L459,247.39999999999998" stroke="#4048a8" stroke-width="0.7" fill="none"/>
<path d="M461,245.0 L462.2,246.2 L461,247.39999999999998" stroke="#4048a8" stroke-width="0.7" fill="none"/>
<path d="M463,245.0 L464.2,246.2 L463,247.39999999999998" stroke="#4048a8" stroke-width="0.7" fill="none"/>
<rect x="416.20" y="252.20" width="2.40" height="5.60" fill="#1a8a3a" stroke="none" stroke-width="1" />
<line x1="479.12" y1="257.50" x2="479.12" y2="318.10" stroke="#555" stroke-width="0.9" />
<line x1="486.94" y1="257.50" x2="486.94" y2="318.10" stroke="#555" stroke-width="0.9" />
<line x1="494.76" y1="257.50" x2="494.76" y2="318.10" stroke="#555" stroke-width="0.9" />
<line x1="502.58" y1="257.50" x2="502.58" y2="318.10" stroke="#555" stroke-width="0.9" />
<line x1="510.40" y1="257.50" x2="510.40" y2="318.10" stroke="#555" stroke-width="0.9" />
<rect x="471.30" y="258.30" width="16.42" height="17.60" fill="#9b4ea8" stroke="none" stroke-width="1" />
<rect x="471.30" y="278.40" width="21.90" height="17.60" fill="#c0272d" stroke="none" stroke-width="1" />
<rect x="471.30" y="298.50" width="28.15" height="17.60" fill="#4a86c5" stroke="none" stroke-width="1" />
<line x1="471.30" y1="257.50" x2="510.40" y2="257.50" stroke="#333" stroke-width="0.9" />
<line x1="471.30" y1="257.50" x2="471.30" y2="318.10" stroke="#222" stroke-width="1.1" />
<line x1="471.30" y1="318.10" x2="510.40" y2="318.10" stroke="#222" stroke-width="1.1" />
<line x1="468.80" y1="277.70" x2="471.30" y2="277.70" stroke="#000" stroke-width="1" />
<line x1="468.80" y1="297.90" x2="471.30" y2="297.90" stroke="#000" stroke-width="1" />
<line x1="471.30" y1="318.10" x2="471.30" y2="319.50" stroke="#000" stroke-width="1" />
<text x="471.30" y="328.70" font-size="9.3" font-weight="bold" font-style="normal" fill="#000" stroke="#000" stroke-width="0.3" text-anchor="middle" >0</text>
<line x1="479.12" y1="318.10" x2="479.12" y2="319.50" stroke="#000" stroke-width="1" />
<text x="479.12" y="328.70" font-size="9.3" font-weight="bold" font-style="normal" fill="#000" stroke="#000" stroke-width="0.3" text-anchor="middle" >1</text>
<line x1="486.94" y1="318.10" x2="486.94" y2="319.50" stroke="#000" stroke-width="1" />
<text x="486.94" y="328.70" font-size="9.3" font-weight="bold" font-style="normal" fill="#000" stroke="#000" stroke-width="0.3" text-anchor="middle" >2</text>
<line x1="494.76" y1="318.10" x2="494.76" y2="319.50" stroke="#000" stroke-width="1" />
<text x="494.76" y="328.70" font-size="9.3" font-weight="bold" font-style="normal" fill="#000" stroke="#000" stroke-width="0.3" text-anchor="middle" >3</text>
<line x1="502.58" y1="318.10" x2="502.58" y2="319.50" stroke="#000" stroke-width="1" />
<text x="502.58" y="328.70" font-size="9.3" font-weight="bold" font-style="normal" fill="#000" stroke="#000" stroke-width="0.3" text-anchor="middle" >4</text>
<line x1="510.40" y1="318.10" x2="510.40" y2="319.50" stroke="#000" stroke-width="1" />
<text x="510.40" y="328.70" font-size="9.3" font-weight="bold" font-style="normal" fill="#000" stroke="#000" stroke-width="0.3" text-anchor="middle" >5</text>
<text x="490.00" y="16.00" font-size="10.4" font-weight="normal" font-style="normal" fill="#111" stroke="#111" stroke-width="0.4" text-anchor="middle" >mRNA</text>
<text x="489.70" y="24.60" font-size="10.4" font-weight="normal" font-style="normal" fill="#111" stroke="#111" stroke-width="0.4" text-anchor="middle" >expression</text>
<text x="459.6" y="32.3" font-size="10.4" fill="#111" stroke="#111" stroke-width="0.4">(Log<tspan font-size="8" dy="2.2">10</tspan><tspan dy="-2.2"> scale)</tspan></text>
<line x1="63.30" y1="460.50" x2="161.30" y2="460.50" stroke="#8a8a8a" stroke-width="1.0" />
<line x1="63.30" y1="448.50" x2="161.30" y2="448.50" stroke="#bdbdbd" stroke-width="1.0" />
<line x1="63.30" y1="436.50" x2="161.30" y2="436.50" stroke="#8a8a8a" stroke-width="1.0" />
<line x1="63.30" y1="424.50" x2="161.30" y2="424.50" stroke="#bdbdbd" stroke-width="1.0" />
<line x1="63.30" y1="412.50" x2="161.30" y2="412.50" stroke="#8a8a8a" stroke-width="1.0" />
<line x1="63.30" y1="400.50" x2="161.30" y2="400.50" stroke="#bdbdbd" stroke-width="1.0" />
<line x1="63.30" y1="388.50" x2="161.30" y2="388.50" stroke="#8a8a8a" stroke-width="1.0" />
<line x1="63.30" y1="376.50" x2="161.30" y2="376.50" stroke="#bdbdbd" stroke-width="1.0" />
<line x1="63.30" y1="364.50" x2="161.30" y2="364.50" stroke="#8a8a8a" stroke-width="1.0" />
<line x1="66.80" y1="364.50" x2="66.80" y2="462.00" stroke="#8a8a8a" stroke-width="1.0" />
<text x="76.30" y="360.50" font-size="13.7" font-weight="normal" font-style="italic" fill="#000" stroke="#000" stroke-width="0.3" text-anchor="start" >HSC (vs. MO)</text>
<line x1="74.45" y1="381.30" x2="74.45" y2="396.30" stroke="#000" stroke-width="1.2" />
<line x1="74.45" y1="428.00" x2="74.45" y2="453.00" stroke="#000" stroke-width="1.2" />
<line x1="72.25" y1="381.30" x2="76.65" y2="381.30" stroke="#000" stroke-width="1.3" />
<line x1="72.25" y1="453.00" x2="76.65" y2="453.00" stroke="#000" stroke-width="1.3" />
<rect x="69.25" y="396.30" width="10.40" height="31.70" fill="#e2d400" stroke="#e07010" stroke-width="1.1" />
<line x1="69.25" y1="408.30" x2="79.65" y2="408.30" stroke="#e07010" stroke-width="1.2" />
<text x="0.00" y="0.00" font-size="14.0" font-weight="normal" font-style="normal" fill="#000" stroke="#000" stroke-width="0.4" text-anchor="end" transform="translate(79.45 462.50) rotate(-90)">HSC</text>
<line x1="87.70" y1="381.30" x2="87.70" y2="398.80" stroke="#000" stroke-width="1.2" />
<line x1="87.70" y1="436.80" x2="87.70" y2="447.50" stroke="#000" stroke-width="1.2" />
<line x1="85.50" y1="381.30" x2="89.90" y2="381.30" stroke="#000" stroke-width="1.3" />
<line x1="85.50" y1="447.50" x2="89.90" y2="447.50" stroke="#000" stroke-width="1.3" />
<rect x="82.50" y="398.80" width="10.40" height="38.00" fill="#e4e1e1" stroke="#e0393b" stroke-width="1.1" />
<line x1="82.50" y1="415.00" x2="92.90" y2="415.00" stroke="#e0393b" stroke-width="1.1" />
<line x1="81.10" y1="459.50" x2="81.10" y2="461.50" stroke="#8a8a8a" stroke-width="0.9" />
<text x="0.00" y="0.00" font-size="14.0" font-weight="normal" font-style="normal" fill="#000" stroke="#000" stroke-width="0.4" text-anchor="end" transform="translate(92.70 462.50) rotate(-90)">MO</text>
<line x1="100.70" y1="381.30" x2="100.70" y2="398.00" stroke="#000" stroke-width="1.2" />
<line x1="100.70" y1="438.00" x2="100.70" y2="455.00" stroke="#000" stroke-width="1.2" />
<line x1="98.50" y1="381.30" x2="102.90" y2="381.30" stroke="#000" stroke-width="1.3" />
<line x1="98.50" y1="455.00" x2="102.90" y2="455.00" stroke="#000" stroke-width="1.3" />
<rect x="95.50" y="398.00" width="10.40" height="40.00" fill="#e4e1e1" stroke="#e0393b" stroke-width="1.1" />
<line x1="95.50" y1="413.30" x2="105.90" y2="413.30" stroke="#e0393b" stroke-width="1.1" />
<line x1="94.10" y1="459.50" x2="94.10" y2="461.50" stroke="#8a8a8a" stroke-width="0.9" />
<text x="0.00" y="0.00" font-size="14.0" font-weight="normal" font-style="normal" fill="#000" stroke="#000" stroke-width="0.4" text-anchor="end" transform="translate(105.70 462.50) rotate(-90)">MAC</text>
<line x1="114.45" y1="381.30" x2="114.45" y2="398.80" stroke="#000" stroke-width="1.2" />
<line x1="114.45" y1="430.00" x2="114.45" y2="440.80" stroke="#000" stroke-width="1.2" />
<line x1="112.25" y1="381.30" x2="116.65" y2="381.30" stroke="#000" stroke-width="1.3" />
<line x1="112.25" y1="440.80" x2="116.65" y2="440.80" stroke="#000" stroke-width="1.3" />
<rect x="109.25" y="398.80" width="10.40" height="31.20" fill="#e4e1e1" stroke="#e0393b" stroke-width="1.1" />
<line x1="109.25" y1="413.30" x2="119.65" y2="413.30" stroke="#e0393b" stroke-width="1.1" />
<line x1="107.85" y1="459.50" x2="107.85" y2="461.50" stroke="#8a8a8a" stroke-width="0.9" />
<text x="0.00" y="0.00" font-size="14.0" font-weight="normal" font-style="normal" fill="#000" stroke="#000" stroke-width="0.4" text-anchor="end" transform="translate(119.45 462.50) rotate(-90)">B cell</text>
<line x1="127.70" y1="381.30" x2="127.70" y2="397.00" stroke="#000" stroke-width="1.2" />
<line x1="127.70" y1="432.50" x2="127.70" y2="446.30" stroke="#000" stroke-width="1.2" />
<line x1="125.50" y1="381.30" x2="129.90" y2="381.30" stroke="#000" stroke-width="1.3" />
<line x1="125.50" y1="446.30" x2="129.90" y2="446.30" stroke="#000" stroke-width="1.3" />
<rect x="122.50" y="397.00" width="10.40" height="35.50" fill="#e4e1e1" stroke="#e0393b" stroke-width="1.1" />
<line x1="122.50" y1="413.50" x2="132.90" y2="413.50" stroke="#e0393b" stroke-width="1.1" />
<line x1="121.10" y1="459.50" x2="121.10" y2="461.50" stroke="#8a8a8a" stroke-width="0.9" />
<text x="0.00" y="0.00" font-size="14.0" font-weight="normal" font-style="normal" fill="#000" stroke="#000" stroke-width="0.4" text-anchor="end" transform="translate(132.70 462.50) rotate(-90)">NK cell</text>
<line x1="140.70" y1="381.30" x2="140.70" y2="398.00" stroke="#000" stroke-width="1.2" />
<line x1="140.70" y1="432.50" x2="140.70" y2="447.00" stroke="#000" stroke-width="1.2" />
<line x1="138.50" y1="381.30" x2="142.90" y2="381.30" stroke="#000" stroke-width="1.3" />
<line x1="138.50" y1="447.00" x2="142.90" y2="447.00" stroke="#000" stroke-width="1.3" />
<rect x="135.50" y="398.00" width="10.40" height="34.50" fill="#e4e1e1" stroke="#e0393b" stroke-width="1.1" />
<line x1="135.50" y1="413.50" x2="145.90" y2="413.50" stroke="#e0393b" stroke-width="1.1" />
<line x1="134.10" y1="459.50" x2="134.10" y2="461.50" stroke="#8a8a8a" stroke-width="0.9" />
<text x="0.00" y="0.00" font-size="14.0" font-weight="normal" font-style="normal" fill="#000" stroke="#000" stroke-width="0.4" text-anchor="end" transform="translate(145.70 462.50) rotate(-90)">CD8 T cell</text>
<line x1="154.45" y1="381.30" x2="154.45" y2="398.80" stroke="#000" stroke-width="1.2" />
<line x1="154.45" y1="433.00" x2="154.45" y2="445.00" stroke="#000" stroke-width="1.2" />
<line x1="152.25" y1="381.30" x2="156.65" y2="381.30" stroke="#000" stroke-width="1.3" />
<line x1="152.25" y1="445.00" x2="156.65" y2="445.00" stroke="#000" stroke-width="1.3" />
<rect x="149.25" y="398.80" width="10.40" height="34.20" fill="#e4e1e1" stroke="#e0393b" stroke-width="1.1" />
<line x1="149.25" y1="413.80" x2="159.65" y2="413.80" stroke="#e0393b" stroke-width="1.1" />
<line x1="147.85" y1="459.50" x2="147.85" y2="461.50" stroke="#8a8a8a" stroke-width="0.9" />
<text x="0.00" y="0.00" font-size="14.0" font-weight="normal" font-style="normal" fill="#000" stroke="#000" stroke-width="0.4" text-anchor="end" transform="translate(159.45 462.50) rotate(-90)">CD4 T cell</text>
<path d="M74.2,379.2 L74.2,376.8 L91.2,376.8 L91.2,379.2" stroke="#000" stroke-width="1.1" fill="none"/>
<text x="82.70" y="378.50" font-size="10" font-weight="bold" font-style="normal" fill="#000" stroke="#000" stroke-width="0.3" text-anchor="middle" >***</text>
<line x1="179.00" y1="460.50" x2="277.00" y2="460.50" stroke="#8a8a8a" stroke-width="1.0" />
<line x1="179.00" y1="448.50" x2="277.00" y2="448.50" stroke="#bdbdbd" stroke-width="1.0" />
<line x1="179.00" y1="436.50" x2="277.00" y2="436.50" stroke="#8a8a8a" stroke-width="1.0" />
<line x1="179.00" y1="424.50" x2="277.00" y2="424.50" stroke="#bdbdbd" stroke-width="1.0" />
<line x1="179.00" y1="412.50" x2="277.00" y2="412.50" stroke="#8a8a8a" stroke-width="1.0" />
<line x1="179.00" y1="400.50" x2="277.00" y2="400.50" stroke="#bdbdbd" stroke-width="1.0" />
<line x1="179.00" y1="388.50" x2="277.00" y2="388.50" stroke="#8a8a8a" stroke-width="1.0" />
<line x1="179.00" y1="376.50" x2="277.00" y2="376.50" stroke="#bdbdbd" stroke-width="1.0" />
<line x1="179.00" y1="364.50" x2="277.00" y2="364.50" stroke="#8a8a8a" stroke-width="1.0" />
<line x1="182.50" y1="364.50" x2="182.50" y2="462.00" stroke="#8a8a8a" stroke-width="1.0" />
<text x="192.00" y="360.50" font-size="13.7" font-weight="normal" font-style="italic" fill="#000" stroke="#000" stroke-width="0.3" text-anchor="start" >MO (vs. HSC)</text>
<line x1="188.95" y1="382.00" x2="188.95" y2="398.80" stroke="#000" stroke-width="1.2" />
<line x1="188.95" y1="432.00" x2="188.95" y2="454.30" stroke="#000" stroke-width="1.2" />
<line x1="186.75" y1="382.00" x2="191.15" y2="382.00" stroke="#000" stroke-width="1.3" />
<line x1="186.75" y1="454.30" x2="191.15" y2="454.30" stroke="#000" stroke-width="1.3" />
<rect x="183.75" y="398.80" width="10.40" height="33.20" fill="#e4e1e1" stroke="#e0393b" stroke-width="1.1" />
<line x1="183.75" y1="414.30" x2="194.15" y2="414.30" stroke="#e0393b" stroke-width="1.1" />
<text x="0.00" y="0.00" font-size="14.0" font-weight="normal" font-style="normal" fill="#000" stroke="#000" stroke-width="0.4" text-anchor="end" transform="translate(193.95 462.50) rotate(-90)">HSC</text>
<line x1="202.70" y1="372.50" x2="202.70" y2="392.50" stroke="#000" stroke-width="1.2" />
<line x1="202.70" y1="431.30" x2="202.70" y2="448.00" stroke="#000" stroke-width="1.2" />
<line x1="200.50" y1="372.50" x2="204.90" y2="372.50" stroke="#000" stroke-width="1.3" />
<line x1="200.50" y1="448.00" x2="204.90" y2="448.00" stroke="#000" stroke-width="1.3" />
<rect x="197.50" y="392.50" width="10.40" height="38.80" fill="#1e8fe0" stroke="#1060a8" stroke-width="1.1" />
<line x1="197.50" y1="408.00" x2="207.90" y2="408.00" stroke="#1060a8" stroke-width="1.2" />
<line x1="196.10" y1="459.50" x2="196.10" y2="461.50" stroke="#8a8a8a" stroke-width="0.9" />
<text x="0.00" y="0.00" font-size="14.0" font-weight="normal" font-style="normal" fill="#000" stroke="#000" stroke-width="0.4" text-anchor="end" transform="translate(207.70 462.50) rotate(-90)">MO</text>
<line x1="215.95" y1="377.00" x2="215.95" y2="394.50" stroke="#000" stroke-width="1.2" />
<line x1="215.95" y1="431.30" x2="215.95" y2="454.30" stroke="#000" stroke-width="1.2" />
<line x1="213.75" y1="377.00" x2="218.15" y2="377.00" stroke="#000" stroke-width="1.3" />
<line x1="213.75" y1="454.30" x2="218.15" y2="454.30" stroke="#000" stroke-width="1.3" />
<rect x="210.75" y="394.50" width="10.40" height="36.80" fill="#e4e1e1" stroke="#e0393b" stroke-width="1.1" />
<line x1="210.75" y1="409.30" x2="221.15" y2="409.30" stroke="#e0393b" stroke-width="1.1" />
<line x1="209.35" y1="459.50" x2="209.35" y2="461.50" stroke="#8a8a8a" stroke-width="0.9" />
<text x="0.00" y="0.00" font-size="14.0" font-weight="normal" font-style="normal" fill="#000" stroke="#000" stroke-width="0.4" text-anchor="end" transform="translate(220.95 462.50) rotate(-90)">MAC</text>
<line x1="229.70" y1="381.30" x2="229.70" y2="397.50" stroke="#000" stroke-width="1.2" />
<line x1="229.70" y1="427.50" x2="229.70" y2="440.80" stroke="#000" stroke-width="1.2" />
<line x1="227.50" y1="381.30" x2="231.90" y2="381.30" stroke="#000" stroke-width="1.3" />
<line x1="227.50" y1="440.80" x2="231.90" y2="440.80" stroke="#000" stroke-width="1.3" />
<rect x="224.50" y="397.50" width="10.40" height="30.00" fill="#e4e1e1" stroke="#e0393b" stroke-width="1.1" />
<line x1="224.50" y1="412.50" x2="234.90" y2="412.50" stroke="#e0393b" stroke-width="1.1" />
<line x1="223.10" y1="459.50" x2="223.10" y2="461.50" stroke="#8a8a8a" stroke-width="0.9" />
<text x="0.00" y="0.00" font-size="14.0" font-weight="normal" font-style="normal" fill="#000" stroke="#000" stroke-width="0.4" text-anchor="end" transform="translate(234.70 462.50) rotate(-90)">B cell</text>
<line x1="242.70" y1="381.30" x2="242.70" y2="398.30" stroke="#000" stroke-width="1.2" />
<line x1="242.70" y1="431.80" x2="242.70" y2="446.80" stroke="#000" stroke-width="1.2" />
<line x1="240.50" y1="381.30" x2="244.90" y2="381.30" stroke="#000" stroke-width="1.3" />
<line x1="240.50" y1="446.80" x2="244.90" y2="446.80" stroke="#000" stroke-width="1.3" />
<rect x="237.50" y="398.30" width="10.40" height="33.50" fill="#e4e1e1" stroke="#e0393b" stroke-width="1.1" />
<line x1="237.50" y1="412.50" x2="247.90" y2="412.50" stroke="#e0393b" stroke-width="1.1" />
<line x1="236.10" y1="459.50" x2="236.10" y2="461.50" stroke="#8a8a8a" stroke-width="0.9" />
<text x="0.00" y="0.00" font-size="14.0" font-weight="normal" font-style="normal" fill="#000" stroke="#000" stroke-width="0.4" text-anchor="end" transform="translate(247.70 462.50) rotate(-90)">NK cell</text>
<line x1="255.70" y1="381.30" x2="255.70" y2="398.30" stroke="#000" stroke-width="1.2" />
<line x1="255.70" y1="431.30" x2="255.70" y2="446.80" stroke="#000" stroke-width="1.2" />
<line x1="253.50" y1="381.30" x2="257.90" y2="381.30" stroke="#000" stroke-width="1.3" />
<line x1="253.50" y1="446.80" x2="257.90" y2="446.80" stroke="#000" stroke-width="1.3" />
<rect x="250.50" y="398.30" width="10.40" height="33.00" fill="#e4e1e1" stroke="#e0393b" stroke-width="1.1" />
<line x1="250.50" y1="413.30" x2="260.90" y2="413.30" stroke="#e0393b" stroke-width="1.1" />
<line x1="249.10" y1="459.50" x2="249.10" y2="461.50" stroke="#8a8a8a" stroke-width="0.9" />
<text x="0.00" y="0.00" font-size="14.0" font-weight="normal" font-style="normal" fill="#000" stroke="#000" stroke-width="0.4" text-anchor="end" transform="translate(260.70 462.50) rotate(-90)">CD8 T cell</text>
<line x1="269.70" y1="381.30" x2="269.70" y2="398.80" stroke="#000" stroke-width="1.2" />
<line x1="269.70" y1="433.00" x2="269.70" y2="444.50" stroke="#000" stroke-width="1.2" />
<line x1="267.50" y1="381.30" x2="271.90" y2="381.30" stroke="#000" stroke-width="1.3" />
<line x1="267.50" y1="444.50" x2="271.90" y2="444.50" stroke="#000" stroke-width="1.3" />
<rect x="264.50" y="398.80" width="10.40" height="34.20" fill="#e4e1e1" stroke="#e0393b" stroke-width="1.1" />
<line x1="264.50" y1="414.50" x2="274.90" y2="414.50" stroke="#e0393b" stroke-width="1.1" />
<line x1="263.10" y1="459.50" x2="263.10" y2="461.50" stroke="#8a8a8a" stroke-width="0.9" />
<text x="0.00" y="0.00" font-size="14.0" font-weight="normal" font-style="normal" fill="#000" stroke="#000" stroke-width="0.4" text-anchor="end" transform="translate(274.70 462.50) rotate(-90)">CD4 T cell</text>
<path d="M189.0,373.4 L189.0,371.0 L202.7,371.0 L202.7,373.4" stroke="#000" stroke-width="1.1" fill="none"/>
<text x="195.85" y="372.70" font-size="10" font-weight="bold" font-style="normal" fill="#000" stroke="#000" stroke-width="0.3" text-anchor="middle" >***</text>
<line x1="294.20" y1="460.50" x2="392.20" y2="460.50" stroke="#8a8a8a" stroke-width="1.0" />
<line x1="294.20" y1="448.50" x2="392.20" y2="448.50" stroke="#bdbdbd" stroke-width="1.0" />
<line x1="294.20" y1="436.50" x2="392.20" y2="436.50" stroke="#8a8a8a" stroke-width="1.0" />
<line x1="294.20" y1="424.50" x2="392.20" y2="424.50" stroke="#bdbdbd" stroke-width="1.0" />
<line x1="294.20" y1="412.50" x2="392.20" y2="412.50" stroke="#8a8a8a" stroke-width="1.0" />
<line x1="294.20" y1="400.50" x2="392.20" y2="400.50" stroke="#bdbdbd" stroke-width="1.0" />
<line x1="294.20" y1="388.50" x2="392.20" y2="388.50" stroke="#8a8a8a" stroke-width="1.0" />
<line x1="294.20" y1="376.50" x2="392.20" y2="376.50" stroke="#bdbdbd" stroke-width="1.0" />
<line x1="294.20" y1="364.50" x2="392.20" y2="364.50" stroke="#8a8a8a" stroke-width="1.0" />
<line x1="297.70" y1="364.50" x2="297.70" y2="462.00" stroke="#8a8a8a" stroke-width="1.0" />
<text x="307.00" y="360.50" font-size="13.7" font-weight="normal" font-style="italic" fill="#000" stroke="#000" stroke-width="0.3" text-anchor="start" >MO (vs. MAC)</text>
<line x1="304.45" y1="381.30" x2="304.45" y2="396.30" stroke="#000" stroke-width="1.2" />
<line x1="304.45" y1="423.80" x2="304.45" y2="449.30" stroke="#000" stroke-width="1.2" />
<line x1="302.25" y1="381.30" x2="306.65" y2="381.30" stroke="#000" stroke-width="1.3" />
<line x1="302.25" y1="449.30" x2="306.65" y2="449.30" stroke="#000" stroke-width="1.3" />
<rect x="299.25" y="396.30" width="10.40" height="27.50" fill="#e4e1e1" stroke="#e0393b" stroke-width="1.1" />
<line x1="299.25" y1="408.00" x2="309.65" y2="408.00" stroke="#e0393b" stroke-width="1.1" />
<text x="0.00" y="0.00" font-size="14.0" font-weight="normal" font-style="normal" fill="#000" stroke="#000" stroke-width="0.4" text-anchor="end" transform="translate(309.45 462.50) rotate(-90)">HSC</text>
<line x1="317.70" y1="372.50" x2="317.70" y2="389.30" stroke="#000" stroke-width="1.2" />
<line x1="317.70" y1="424.50" x2="317.70" y2="448.00" stroke="#000" stroke-width="1.2" />
<line x1="315.50" y1="372.50" x2="319.90" y2="372.50" stroke="#000" stroke-width="1.3" />
<line x1="315.50" y1="448.00" x2="319.90" y2="448.00" stroke="#000" stroke-width="1.3" />
<rect x="312.50" y="389.30" width="10.40" height="35.20" fill="#1e8fe0" stroke="#1060a8" stroke-width="1.1" />
<line x1="312.50" y1="403.80" x2="322.90" y2="403.80" stroke="#1060a8" stroke-width="1.2" />
<line x1="311.10" y1="459.50" x2="311.10" y2="461.50" stroke="#8a8a8a" stroke-width="0.9" />
<text x="0.00" y="0.00" font-size="14.0" font-weight="normal" font-style="normal" fill="#000" stroke="#000" stroke-width="0.4" text-anchor="end" transform="translate(322.70 462.50) rotate(-90)">MO</text>
<line x1="330.70" y1="379.30" x2="330.70" y2="397.00" stroke="#000" stroke-width="1.2" />
<line x1="330.70" y1="428.80" x2="330.70" y2="452.50" stroke="#000" stroke-width="1.2" />
<line x1="328.50" y1="379.30" x2="332.90" y2="379.30" stroke="#000" stroke-width="1.3" />
<line x1="328.50" y1="452.50" x2="332.90" y2="452.50" stroke="#000" stroke-width="1.3" />
<rect x="325.50" y="397.00" width="10.40" height="31.80" fill="#e4e1e1" stroke="#e0393b" stroke-width="1.1" />
<line x1="325.50" y1="408.80" x2="335.90" y2="408.80" stroke="#e0393b" stroke-width="1.1" />
<line x1="324.10" y1="459.50" x2="324.10" y2="461.50" stroke="#8a8a8a" stroke-width="0.9" />
<text x="0.00" y="0.00" font-size="14.0" font-weight="normal" font-style="normal" fill="#000" stroke="#000" stroke-width="0.4" text-anchor="end" transform="translate(335.70 462.50) rotate(-90)">MAC</text>
<line x1="344.45" y1="380.50" x2="344.45" y2="397.00" stroke="#000" stroke-width="1.2" />
<line x1="344.45" y1="422.00" x2="344.45" y2="440.00" stroke="#000" stroke-width="1.2" />
<line x1="342.25" y1="380.50" x2="346.65" y2="380.50" stroke="#000" stroke-width="1.3" />
<line x1="342.25" y1="440.00" x2="346.65" y2="440.00" stroke="#000" stroke-width="1.3" />
<rect x="339.25" y="397.00" width="10.40" height="25.00" fill="#e4e1e1" stroke="#e0393b" stroke-width="1.1" />
<line x1="339.25" y1="409.50" x2="349.65" y2="409.50" stroke="#e0393b" stroke-width="1.1" />
<line x1="337.85" y1="459.50" x2="337.85" y2="461.50" stroke="#8a8a8a" stroke-width="0.9" />
<text x="0.00" y="0.00" font-size="14.0" font-weight="normal" font-style="normal" fill="#000" stroke="#000" stroke-width="0.4" text-anchor="end" transform="translate(349.45 462.50) rotate(-90)">B cell</text>
<line x1="357.70" y1="378.80" x2="357.70" y2="395.00" stroke="#000" stroke-width="1.2" />
<line x1="357.70" y1="425.00" x2="357.70" y2="445.80" stroke="#000" stroke-width="1.2" />
<line x1="355.50" y1="378.80" x2="359.90" y2="378.80" stroke="#000" stroke-width="1.3" />
<line x1="355.50" y1="445.80" x2="359.90" y2="445.80" stroke="#000" stroke-width="1.3" />
<rect x="352.50" y="395.00" width="10.40" height="30.00" fill="#e4e1e1" stroke="#e0393b" stroke-width="1.1" />
<line x1="352.50" y1="408.30" x2="362.90" y2="408.30" stroke="#e0393b" stroke-width="1.1" />
<line x1="351.10" y1="459.50" x2="351.10" y2="461.50" stroke="#8a8a8a" stroke-width="0.9" />
<text x="0.00" y="0.00" font-size="14.0" font-weight="normal" font-style="normal" fill="#000" stroke="#000" stroke-width="0.4" text-anchor="end" transform="translate(362.70 462.50) rotate(-90)">NK cell</text>
<line x1="370.70" y1="378.80" x2="370.70" y2="397.00" stroke="#000" stroke-width="1.2" />
<line x1="370.70" y1="423.80" x2="370.70" y2="443.80" stroke="#000" stroke-width="1.2" />
<line x1="368.50" y1="378.80" x2="372.90" y2="378.80" stroke="#000" stroke-width="1.3" />
<line x1="368.50" y1="443.80" x2="372.90" y2="443.80" stroke="#000" stroke-width="1.3" />
<rect x="365.50" y="397.00" width="10.40" height="26.80" fill="#e4e1e1" stroke="#e0393b" stroke-width="1.1" />
<line x1="365.50" y1="408.80" x2="375.90" y2="408.80" stroke="#e0393b" stroke-width="1.1" />
<line x1="364.10" y1="459.50" x2="364.10" y2="461.50" stroke="#8a8a8a" stroke-width="0.9" />
<text x="0.00" y="0.00" font-size="14.0" font-weight="normal" font-style="normal" fill="#000" stroke="#000" stroke-width="0.4" text-anchor="end" transform="translate(375.70 462.50) rotate(-90)">CD8 T cell</text>
<line x1="384.45" y1="377.00" x2="384.45" y2="396.30" stroke="#000" stroke-width="1.2" />
<line x1="384.45" y1="423.80" x2="384.45" y2="442.50" stroke="#000" stroke-width="1.2" />
<line x1="382.25" y1="377.00" x2="386.65" y2="377.00" stroke="#000" stroke-width="1.3" />
<line x1="382.25" y1="442.50" x2="386.65" y2="442.50" stroke="#000" stroke-width="1.3" />
<rect x="379.25" y="396.30" width="10.40" height="27.50" fill="#e4e1e1" stroke="#e0393b" stroke-width="1.1" />
<line x1="379.25" y1="409.30" x2="389.65" y2="409.30" stroke="#e0393b" stroke-width="1.1" />
<line x1="377.85" y1="459.50" x2="377.85" y2="461.50" stroke="#8a8a8a" stroke-width="0.9" />
<text x="0.00" y="0.00" font-size="14.0" font-weight="normal" font-style="normal" fill="#000" stroke="#000" stroke-width="0.4" text-anchor="end" transform="translate(389.45 462.50) rotate(-90)">CD4 T cell</text>
<path d="M317.6,373.4 L317.6,371.0 L331.0,371.0 L331.0,373.4" stroke="#000" stroke-width="1.1" fill="none"/>
<text x="324.30" y="372.70" font-size="10" font-weight="bold" font-style="normal" fill="#000" stroke="#000" stroke-width="0.3" text-anchor="middle" >***</text>
<line x1="409.00" y1="460.50" x2="507.00" y2="460.50" stroke="#8a8a8a" stroke-width="1.0" />
<line x1="409.00" y1="448.50" x2="507.00" y2="448.50" stroke="#bdbdbd" stroke-width="1.0" />
<line x1="409.00" y1="436.50" x2="507.00" y2="436.50" stroke="#8a8a8a" stroke-width="1.0" />
<line x1="409.00" y1="424.50" x2="507.00" y2="424.50" stroke="#bdbdbd" stroke-width="1.0" />
<line x1="409.00" y1="412.50" x2="507.00" y2="412.50" stroke="#8a8a8a" stroke-width="1.0" />
<line x1="409.00" y1="400.50" x2="507.00" y2="400.50" stroke="#bdbdbd" stroke-width="1.0" />
<line x1="409.00" y1="388.50" x2="507.00" y2="388.50" stroke="#8a8a8a" stroke-width="1.0" />
<line x1="409.00" y1="376.50" x2="507.00" y2="376.50" stroke="#bdbdbd" stroke-width="1.0" />
<line x1="409.00" y1="364.50" x2="507.00" y2="364.50" stroke="#8a8a8a" stroke-width="1.0" />
<line x1="412.50" y1="364.50" x2="412.50" y2="462.00" stroke="#8a8a8a" stroke-width="1.0" />
<text x="420.50" y="360.50" font-size="13.7" font-weight="normal" font-style="italic" fill="#000" stroke="#000" stroke-width="0.3" text-anchor="start" >MAC (vs. MO)</text>
<line x1="419.45" y1="382.00" x2="419.45" y2="398.80" stroke="#000" stroke-width="1.2" />
<line x1="419.45" y1="430.00" x2="419.45" y2="454.50" stroke="#000" stroke-width="1.2" />
<line x1="417.25" y1="382.00" x2="421.65" y2="382.00" stroke="#000" stroke-width="1.3" />
<line x1="417.25" y1="454.50" x2="421.65" y2="454.50" stroke="#000" stroke-width="1.3" />
<rect x="414.25" y="398.80" width="10.40" height="31.20" fill="#e4e1e1" stroke="#e0393b" stroke-width="1.1" />
<line x1="414.25" y1="413.80" x2="424.65" y2="413.80" stroke="#e0393b" stroke-width="1.1" />
<text x="0.00" y="0.00" font-size="14.0" font-weight="normal" font-style="normal" fill="#000" stroke="#000" stroke-width="0.4" text-anchor="end" transform="translate(424.45 462.50) rotate(-90)">HSC</text>
<line x1="432.70" y1="378.80" x2="432.70" y2="397.50" stroke="#000" stroke-width="1.2" />
<line x1="432.70" y1="434.50" x2="432.70" y2="448.30" stroke="#000" stroke-width="1.2" />
<line x1="430.50" y1="378.80" x2="434.90" y2="378.80" stroke="#000" stroke-width="1.3" />
<line x1="430.50" y1="448.30" x2="434.90" y2="448.30" stroke="#000" stroke-width="1.3" />
<rect x="427.50" y="397.50" width="10.40" height="37.00" fill="#e4e1e1" stroke="#e0393b" stroke-width="1.1" />
<line x1="427.50" y1="413.80" x2="437.90" y2="413.80" stroke="#e0393b" stroke-width="1.1" />
<line x1="426.10" y1="459.50" x2="426.10" y2="461.50" stroke="#8a8a8a" stroke-width="0.9" />
<text x="0.00" y="0.00" font-size="14.0" font-weight="normal" font-style="normal" fill="#000" stroke="#000" stroke-width="0.4" text-anchor="end" transform="translate(437.70 462.50) rotate(-90)">MO</text>
<line x1="445.70" y1="375.80" x2="445.70" y2="393.30" stroke="#000" stroke-width="1.2" />
<line x1="445.70" y1="427.00" x2="445.70" y2="451.80" stroke="#000" stroke-width="1.2" />
<line x1="443.50" y1="375.80" x2="447.90" y2="375.80" stroke="#000" stroke-width="1.3" />
<line x1="443.50" y1="451.80" x2="447.90" y2="451.80" stroke="#000" stroke-width="1.3" />
<rect x="440.50" y="393.30" width="10.40" height="33.70" fill="#f9a51e" stroke="#e06010" stroke-width="1.1" />
<line x1="440.50" y1="405.80" x2="450.90" y2="405.80" stroke="#e06010" stroke-width="1.2" />
<line x1="439.10" y1="459.50" x2="439.10" y2="461.50" stroke="#8a8a8a" stroke-width="0.9" />
<text x="0.00" y="0.00" font-size="14.0" font-weight="normal" font-style="normal" fill="#000" stroke="#000" stroke-width="0.4" text-anchor="end" transform="translate(450.70 462.50) rotate(-90)">MAC</text>
<line x1="459.45" y1="382.50" x2="459.45" y2="400.00" stroke="#000" stroke-width="1.2" />
<line x1="459.45" y1="428.80" x2="459.45" y2="440.00" stroke="#000" stroke-width="1.2" />
<line x1="457.25" y1="382.50" x2="461.65" y2="382.50" stroke="#000" stroke-width="1.3" />
<line x1="457.25" y1="440.00" x2="461.65" y2="440.00" stroke="#000" stroke-width="1.3" />
<rect x="454.25" y="400.00" width="10.40" height="28.80" fill="#e4e1e1" stroke="#e0393b" stroke-width="1.1" />
<line x1="454.25" y1="413.30" x2="464.65" y2="413.30" stroke="#e0393b" stroke-width="1.1" />
<line x1="452.85" y1="459.50" x2="452.85" y2="461.50" stroke="#8a8a8a" stroke-width="0.9" />
<text x="0.00" y="0.00" font-size="14.0" font-weight="normal" font-style="normal" fill="#000" stroke="#000" stroke-width="0.4" text-anchor="end" transform="translate(464.45 462.50) rotate(-90)">B cell</text>
<line x1="472.70" y1="381.30" x2="472.70" y2="398.80" stroke="#000" stroke-width="1.2" />
<line x1="472.70" y1="431.80" x2="472.70" y2="446.30" stroke="#000" stroke-width="1.2" />
<line x1="470.50" y1="381.30" x2="474.90" y2="381.30" stroke="#000" stroke-width="1.3" />
<line x1="470.50" y1="446.30" x2="474.90" y2="446.30" stroke="#000" stroke-width="1.3" />
<rect x="467.50" y="398.80" width="10.40" height="33.00" fill="#e4e1e1" stroke="#e0393b" stroke-width="1.1" />
<line x1="467.50" y1="414.30" x2="477.90" y2="414.30" stroke="#e0393b" stroke-width="1.1" />
<line x1="466.10" y1="459.50" x2="466.10" y2="461.50" stroke="#8a8a8a" stroke-width="0.9" />
<text x="0.00" y="0.00" font-size="14.0" font-weight="normal" font-style="normal" fill="#000" stroke="#000" stroke-width="0.4" text-anchor="end" transform="translate(477.70 462.50) rotate(-90)">NK cell</text>
<line x1="485.70" y1="381.30" x2="485.70" y2="398.80" stroke="#000" stroke-width="1.2" />
<line x1="485.70" y1="431.30" x2="485.70" y2="445.80" stroke="#000" stroke-width="1.2" />
<line x1="483.50" y1="381.30" x2="487.90" y2="381.30" stroke="#000" stroke-width="1.3" />
<line x1="483.50" y1="445.80" x2="487.90" y2="445.80" stroke="#000" stroke-width="1.3" />
<rect x="480.50" y="398.80" width="10.40" height="32.50" fill="#e4e1e1" stroke="#e0393b" stroke-width="1.1" />
<line x1="480.50" y1="414.30" x2="490.90" y2="414.30" stroke="#e0393b" stroke-width="1.1" />
<line x1="479.10" y1="459.50" x2="479.10" y2="461.50" stroke="#8a8a8a" stroke-width="0.9" />
<text x="0.00" y="0.00" font-size="14.0" font-weight="normal" font-style="normal" fill="#000" stroke="#000" stroke-width="0.4" text-anchor="end" transform="translate(490.70 462.50) rotate(-90)">CD8 T cell</text>
<line x1="499.70" y1="380.00" x2="499.70" y2="399.30" stroke="#000" stroke-width="1.2" />
<line x1="499.70" y1="431.30" x2="499.70" y2="444.30" stroke="#000" stroke-width="1.2" />
<line x1="497.50" y1="380.00" x2="501.90" y2="380.00" stroke="#000" stroke-width="1.3" />
<line x1="497.50" y1="444.30" x2="501.90" y2="444.30" stroke="#000" stroke-width="1.3" />
<rect x="494.50" y="399.30" width="10.40" height="32.00" fill="#e4e1e1" stroke="#e0393b" stroke-width="1.1" />
<line x1="494.50" y1="414.50" x2="504.90" y2="414.50" stroke="#e0393b" stroke-width="1.1" />
<line x1="493.10" y1="459.50" x2="493.10" y2="461.50" stroke="#8a8a8a" stroke-width="0.9" />
<text x="0.00" y="0.00" font-size="14.0" font-weight="normal" font-style="normal" fill="#000" stroke="#000" stroke-width="0.4" text-anchor="end" transform="translate(504.70 462.50) rotate(-90)">CD4 T cell</text>
<path d="M432.7,373.4 L432.7,371.0 L445.7,371.0 L445.7,373.4" stroke="#000" stroke-width="1.1" fill="none"/>
<text x="439.20" y="372.70" font-size="10" font-weight="bold" font-style="normal" fill="#000" stroke="#000" stroke-width="0.3" text-anchor="middle" >***</text>
<text x="43.4" y="371.10" font-size="13" font-weight="bold">2<tspan font-size="9.6" dx="0.8" dy="-5.6">16</tspan></text>
<text x="43.4" y="393.45" font-size="13" font-weight="bold">2<tspan font-size="9.6" dx="0.8" dy="-5.6">12</tspan></text>
<text x="43.4" y="417.20" font-size="13" font-weight="bold">2<tspan font-size="9.6" dx="0.8" dy="-5.6">8</tspan></text>
<text x="43.4" y="440.95" font-size="13" font-weight="bold">2<tspan font-size="9.6" dx="0.8" dy="-5.6">4</tspan></text>
<text x="43.4" y="464.70" font-size="13" font-weight="bold">2<tspan font-size="9.6" dx="0.8" dy="-5.6">0</tspan></text>
<text x="0.00" y="0.00" font-size="13.2" font-weight="normal" font-style="normal" fill="#000" stroke="#000" stroke-width="0.3" text-anchor="middle" transform="translate(24.3 412.6) rotate(-90)">mRNA expession</text>
<text x="0.00" y="0.00" font-size="13.2" font-weight="normal" font-style="normal" fill="#000" stroke="#000" stroke-width="0.3" text-anchor="middle" transform="translate(34.4 410.5) rotate(-90)">of adjacent genes</text>
<text x="25.00" y="563.70" font-size="17" font-weight="normal" font-style="italic" fill="#000" stroke="#000" stroke-width="0.3" text-anchor="start" >HSC (vs. MO)</text>
<text x="198.20" y="563.40" font-size="17" font-weight="normal" font-style="italic" fill="#000" stroke="#000" stroke-width="0.3" text-anchor="start" >MO (vs. HSC)</text>
<text x="373.60" y="563.70" font-size="17" font-weight="normal" font-style="italic" fill="#000" stroke="#000" stroke-width="0.3" text-anchor="start" >MAC (vs. MO)</text>
<text x="24.30" y="579.70" font-size="13.4" font-weight="bold" font-style="normal" fill="#000" stroke="#000" stroke-width="0.3" text-anchor="start" >ETS</text>
<text x="24.60" y="590.40" font-size="10.4" stroke="#000" stroke-width="0.25">53.4% (31.6%), <tspan font-weight="bold" font-style="italic">P</tspan><tspan font-weight="bold"> &lt;10</tspan><tspan font-weight="bold" font-size="8.7" dy="-4.4">-454</tspan></text>
<text transform="translate(24.94 608.90) scale(0.1736 0.0360)" font-size="100" font-weight="bold" fill="#d01f2e" stroke="#d01f2e" stroke-width="0.75" vector-effect="non-scaling-stroke">T</text>
<text transform="translate(24.68 606.38) scale(0.1511 0.0438)" font-size="100" font-weight="bold" fill="#23359e" stroke="#23359e" stroke-width="0.75" vector-effect="non-scaling-stroke">C</text>
<text transform="translate(24.72 603.24) scale(0.1420 0.0766)" font-size="100" font-weight="bold" fill="#f3ad1f" stroke="#f3ad1f" stroke-width="0.75" vector-effect="non-scaling-stroke">G</text>
<text transform="translate(24.95 597.89) scale(0.1470 0.0586)" font-size="100" font-weight="bold" fill="#3aa23c" stroke="#3aa23c" stroke-width="0.75" vector-effect="non-scaling-stroke">A</text>
<text transform="translate(35.42 608.90) scale(0.1736 0.0360)" font-size="100" font-weight="bold" fill="#d01f2e" stroke="#d01f2e" stroke-width="0.75" vector-effect="non-scaling-stroke">T</text>
<text transform="translate(35.16 606.40) scale(0.1511 0.0175)" font-size="100" font-weight="bold" fill="#23359e" stroke="#23359e" stroke-width="0.75" vector-effect="non-scaling-stroke">C</text>
<text transform="translate(35.20 605.10) scale(0.1420 0.0766)" font-size="100" font-weight="bold" fill="#f3ad1f" stroke="#f3ad1f" stroke-width="0.75" vector-effect="non-scaling-stroke">G</text>
<text transform="translate(35.43 599.75) scale(0.1470 0.0676)" font-size="100" font-weight="bold" fill="#3aa23c" stroke="#3aa23c" stroke-width="0.75" vector-effect="non-scaling-stroke">A</text>
<text transform="translate(45.68 608.87) scale(0.1420 0.0285)" font-size="100" font-weight="bold" fill="#f3ad1f" stroke="#f3ad1f" stroke-width="0.75" vector-effect="non-scaling-stroke">G</text>
<text transform="translate(45.91 606.88) scale(0.1470 0.0518)" font-size="100" font-weight="bold" fill="#3aa23c" stroke="#3aa23c" stroke-width="0.75" vector-effect="non-scaling-stroke">A</text>
<text transform="translate(45.64 603.19) scale(0.1511 0.1270)" font-size="100" font-weight="bold" fill="#23359e" stroke="#23359e" stroke-width="0.75" vector-effect="non-scaling-stroke">C</text>
<text transform="translate(56.39 608.90) scale(0.1470 0.2095)" font-size="100" font-weight="bold" fill="#3aa23c" stroke="#3aa23c" stroke-width="0.75" vector-effect="non-scaling-stroke">A</text>
<text transform="translate(66.64 608.70) scale(0.1420 0.2036)" font-size="100" font-weight="bold" fill="#f3ad1f" stroke="#f3ad1f" stroke-width="0.75" vector-effect="non-scaling-stroke">G</text>
<text transform="translate(77.12 608.70) scale(0.1420 0.2036)" font-size="100" font-weight="bold" fill="#f3ad1f" stroke="#f3ad1f" stroke-width="0.75" vector-effect="non-scaling-stroke">G</text>
<text transform="translate(87.83 608.90) scale(0.1470 0.2095)" font-size="100" font-weight="bold" fill="#3aa23c" stroke="#3aa23c" stroke-width="0.75" vector-effect="non-scaling-stroke">A</text>
<text transform="translate(98.30 608.90) scale(0.1736 0.0270)" font-size="100" font-weight="bold" fill="#d01f2e" stroke="#d01f2e" stroke-width="0.75" vector-effect="non-scaling-stroke">T</text>
<text transform="translate(98.31 607.04) scale(0.1470 0.1802)" font-size="100" font-weight="bold" fill="#3aa23c" stroke="#3aa23c" stroke-width="0.75" vector-effect="non-scaling-stroke">A</text>
<text transform="translate(108.79 608.90) scale(0.1470 0.1014)" font-size="100" font-weight="bold" fill="#3aa23c" stroke="#3aa23c" stroke-width="0.75" vector-effect="non-scaling-stroke">A</text>
<text transform="translate(108.56 601.85) scale(0.1420 0.0744)" font-size="100" font-weight="bold" fill="#f3ad1f" stroke="#f3ad1f" stroke-width="0.75" vector-effect="non-scaling-stroke">G</text>
<text transform="translate(119.00 608.80) scale(0.1511 0.0985)" font-size="100" font-weight="bold" fill="#23359e" stroke="#23359e" stroke-width="0.75" vector-effect="non-scaling-stroke">C</text>
<text transform="translate(119.26 601.92) scale(0.1736 0.1081)" font-size="100" font-weight="bold" fill="#d01f2e" stroke="#d01f2e" stroke-width="0.75" vector-effect="non-scaling-stroke">T</text>
<text x="24.30" y="625.60" font-size="13.4" font-weight="bold" font-style="normal" fill="#000" stroke="#000" stroke-width="0.3" text-anchor="start" >RUNX</text>
<text x="24.60" y="635.80" font-size="10.4" stroke="#000" stroke-width="0.25">31.5% (19.6%), <tspan font-weight="bold" font-style="italic">P</tspan><tspan font-weight="bold"> &lt;10</tspan><tspan font-weight="bold" font-size="8.7" dy="-4.4">-176</tspan></text>
<text transform="translate(24.93 653.30) scale(0.1772 0.1994)" font-size="100" font-weight="bold" fill="#d01f2e" stroke="#d01f2e" stroke-width="0.75" vector-effect="non-scaling-stroke">T</text>
<text transform="translate(35.39 653.11) scale(0.1448 0.1938)" font-size="100" font-weight="bold" fill="#f3ad1f" stroke="#f3ad1f" stroke-width="0.75" vector-effect="non-scaling-stroke">G</text>
<text transform="translate(46.29 653.30) scale(0.1772 0.1994)" font-size="100" font-weight="bold" fill="#d01f2e" stroke="#d01f2e" stroke-width="0.75" vector-effect="non-scaling-stroke">T</text>
<text transform="translate(56.75 653.11) scale(0.1448 0.1938)" font-size="100" font-weight="bold" fill="#f3ad1f" stroke="#f3ad1f" stroke-width="0.75" vector-effect="non-scaling-stroke">G</text>
<text transform="translate(67.43 653.11) scale(0.1448 0.1938)" font-size="100" font-weight="bold" fill="#f3ad1f" stroke="#f3ad1f" stroke-width="0.75" vector-effect="non-scaling-stroke">G</text>
<text transform="translate(78.33 653.30) scale(0.1772 0.1994)" font-size="100" font-weight="bold" fill="#d01f2e" stroke="#d01f2e" stroke-width="0.75" vector-effect="non-scaling-stroke">T</text>
<text transform="translate(89.01 653.30) scale(0.1772 0.1994)" font-size="100" font-weight="bold" fill="#d01f2e" stroke="#d01f2e" stroke-width="0.75" vector-effect="non-scaling-stroke">T</text>
<text transform="translate(99.70 653.30) scale(0.1500 0.0305)" font-size="100" font-weight="bold" fill="#3aa23c" stroke="#3aa23c" stroke-width="0.75" vector-effect="non-scaling-stroke">A</text>
<text transform="translate(99.69 651.20) scale(0.1772 0.1689)" font-size="100" font-weight="bold" fill="#d01f2e" stroke="#d01f2e" stroke-width="0.75" vector-effect="non-scaling-stroke">T</text>
<text x="24.30" y="671.10" font-size="13.4" font-weight="bold" font-style="normal" fill="#000" stroke="#000" stroke-width="0.3" text-anchor="start" >AP-1</text>
<text x="24.60" y="681.50" font-size="10.4" stroke="#000" stroke-width="0.25">47.6% (37.4%), <tspan font-weight="bold" font-style="italic">P</tspan><tspan font-weight="bold"> &lt;10</tspan><tspan font-weight="bold" font-size="8.7" dy="-4.4">-100</tspan></text>
<text transform="translate(24.68 699.67) scale(0.1523 0.0285)" font-size="100" font-weight="bold" fill="#23359e" stroke="#23359e" stroke-width="0.75" vector-effect="non-scaling-stroke">C</text>
<text transform="translate(24.71 697.62) scale(0.1431 0.0613)" font-size="100" font-weight="bold" fill="#f3ad1f" stroke="#f3ad1f" stroke-width="0.75" vector-effect="non-scaling-stroke">G</text>
<text transform="translate(24.94 693.35) scale(0.1482 0.1239)" font-size="100" font-weight="bold" fill="#3aa23c" stroke="#3aa23c" stroke-width="0.75" vector-effect="non-scaling-stroke">A</text>
<text transform="translate(35.49 699.70) scale(0.1750 0.2073)" font-size="100" font-weight="bold" fill="#d01f2e" stroke="#d01f2e" stroke-width="0.75" vector-effect="non-scaling-stroke">T</text>
<text transform="translate(45.83 699.50) scale(0.1431 0.2014)" font-size="100" font-weight="bold" fill="#f3ad1f" stroke="#f3ad1f" stroke-width="0.75" vector-effect="non-scaling-stroke">G</text>
<text transform="translate(56.62 699.70) scale(0.1482 0.2073)" font-size="100" font-weight="bold" fill="#3aa23c" stroke="#3aa23c" stroke-width="0.75" vector-effect="non-scaling-stroke">A</text>
<text transform="translate(66.95 699.58) scale(0.1431 0.1160)" font-size="100" font-weight="bold" fill="#f3ad1f" stroke="#f3ad1f" stroke-width="0.75" vector-effect="non-scaling-stroke">G</text>
<text transform="translate(66.92 691.39) scale(0.1523 0.0985)" font-size="100" font-weight="bold" fill="#23359e" stroke="#23359e" stroke-width="0.75" vector-effect="non-scaling-stroke">C</text>
<text transform="translate(77.73 699.70) scale(0.1750 0.2073)" font-size="100" font-weight="bold" fill="#d01f2e" stroke="#d01f2e" stroke-width="0.75" vector-effect="non-scaling-stroke">T</text>
<text transform="translate(88.30 699.70) scale(0.1482 0.0158)" font-size="100" font-weight="bold" fill="#3aa23c" stroke="#3aa23c" stroke-width="0.75" vector-effect="non-scaling-stroke">A</text>
<text transform="translate(88.04 698.43) scale(0.1523 0.1861)" font-size="100" font-weight="bold" fill="#23359e" stroke="#23359e" stroke-width="0.75" vector-effect="non-scaling-stroke">C</text>
<text transform="translate(98.86 699.70) scale(0.1482 0.2073)" font-size="100" font-weight="bold" fill="#3aa23c" stroke="#3aa23c" stroke-width="0.75" vector-effect="non-scaling-stroke">A</text>
<text x="24.30" y="716.80" font-size="13.4" font-weight="bold" font-style="normal" fill="#000" stroke="#000" stroke-width="0.3" text-anchor="start" >GATA</text>
<text x="24.60" y="727.20" font-size="10.4" stroke="#000" stroke-width="0.25">53.8% (43.7%), <tspan font-weight="bold" font-style="italic">P</tspan><tspan font-weight="bold"> &lt;10</tspan><tspan font-weight="bold" font-size="8.7" dy="-4.4">-93</tspan></text>
<text transform="translate(24.95 744.50) scale(0.1458 0.0794)" font-size="100" font-weight="bold" fill="#3aa23c" stroke="#3aa23c" stroke-width="0.75" vector-effect="non-scaling-stroke">A</text>
<text transform="translate(24.72 738.99) scale(0.1408 0.0494)" font-size="100" font-weight="bold" fill="#f3ad1f" stroke="#f3ad1f" stroke-width="0.75" vector-effect="non-scaling-stroke">G</text>
<text transform="translate(24.69 735.46) scale(0.1498 0.0751)" font-size="100" font-weight="bold" fill="#23359e" stroke="#23359e" stroke-width="0.75" vector-effect="non-scaling-stroke">C</text>
<text transform="translate(35.34 744.50) scale(0.1722 0.1078)" font-size="100" font-weight="bold" fill="#d01f2e" stroke="#d01f2e" stroke-width="0.75" vector-effect="non-scaling-stroke">T</text>
<text transform="translate(35.35 737.08) scale(0.1458 0.0997)" font-size="100" font-weight="bold" fill="#3aa23c" stroke="#3aa23c" stroke-width="0.75" vector-effect="non-scaling-stroke">A</text>
<text transform="translate(45.52 744.33) scale(0.1408 0.1681)" font-size="100" font-weight="bold" fill="#f3ad1f" stroke="#f3ad1f" stroke-width="0.75" vector-effect="non-scaling-stroke">G</text>
<text transform="translate(56.15 744.50) scale(0.1458 0.1730)" font-size="100" font-weight="bold" fill="#3aa23c" stroke="#3aa23c" stroke-width="0.75" vector-effect="non-scaling-stroke">A</text>
<text transform="translate(66.54 744.50) scale(0.1722 0.1730)" font-size="100" font-weight="bold" fill="#d01f2e" stroke="#d01f2e" stroke-width="0.75" vector-effect="non-scaling-stroke">T</text>
<text transform="translate(76.95 744.50) scale(0.1458 0.1730)" font-size="100" font-weight="bold" fill="#3aa23c" stroke="#3aa23c" stroke-width="0.75" vector-effect="non-scaling-stroke">A</text>
<text transform="translate(87.35 744.50) scale(0.1458 0.1730)" font-size="100" font-weight="bold" fill="#3aa23c" stroke="#3aa23c" stroke-width="0.75" vector-effect="non-scaling-stroke">A</text>
<text transform="translate(97.75 744.50) scale(0.1458 0.0427)" font-size="100" font-weight="bold" fill="#3aa23c" stroke="#3aa23c" stroke-width="0.75" vector-effect="non-scaling-stroke">A</text>
<text transform="translate(97.49 741.52) scale(0.1498 0.0415)" font-size="100" font-weight="bold" fill="#23359e" stroke="#23359e" stroke-width="0.75" vector-effect="non-scaling-stroke">C</text>
<text transform="translate(97.52 738.54) scale(0.1408 0.0771)" font-size="100" font-weight="bold" fill="#f3ad1f" stroke="#f3ad1f" stroke-width="0.75" vector-effect="non-scaling-stroke">G</text>
<text transform="translate(107.89 744.46) scale(0.1498 0.0356)" font-size="100" font-weight="bold" fill="#23359e" stroke="#23359e" stroke-width="0.75" vector-effect="non-scaling-stroke">C</text>
<text transform="translate(107.92 741.94) scale(0.1408 0.0415)" font-size="100" font-weight="bold" fill="#f3ad1f" stroke="#f3ad1f" stroke-width="0.75" vector-effect="non-scaling-stroke">G</text>
<text transform="translate(108.15 739.04) scale(0.1458 0.0509)" font-size="100" font-weight="bold" fill="#3aa23c" stroke="#3aa23c" stroke-width="0.75" vector-effect="non-scaling-stroke">A</text>
<text transform="translate(107.89 735.46) scale(0.1498 0.0751)" font-size="100" font-weight="bold" fill="#23359e" stroke="#23359e" stroke-width="0.75" vector-effect="non-scaling-stroke">C</text>
<text transform="translate(118.29 744.44) scale(0.1498 0.0573)" font-size="100" font-weight="bold" fill="#23359e" stroke="#23359e" stroke-width="0.75" vector-effect="non-scaling-stroke">C</text>
<text transform="translate(118.32 740.39) scale(0.1408 0.0494)" font-size="100" font-weight="bold" fill="#f3ad1f" stroke="#f3ad1f" stroke-width="0.75" vector-effect="non-scaling-stroke">G</text>
<text transform="translate(118.55 736.94) scale(0.1458 0.0997)" font-size="100" font-weight="bold" fill="#3aa23c" stroke="#3aa23c" stroke-width="0.75" vector-effect="non-scaling-stroke">A</text>
<text x="24.30" y="762.50" font-size="13.4" font-weight="bold" font-style="normal" fill="#000" stroke="#000" stroke-width="0.3" text-anchor="start" >FOXO</text>
<text x="24.60" y="773.00" font-size="10.4" stroke="#000" stroke-width="0.25">59.9% (50.7%), <tspan font-weight="bold" font-style="italic">P</tspan><tspan font-weight="bold"> &lt;10</tspan><tspan font-weight="bold" font-size="8.7" dy="-4.4">-80</tspan></text>
<text transform="translate(24.72 791.16) scale(0.1415 0.0362)" font-size="100" font-weight="bold" fill="#f3ad1f" stroke="#f3ad1f" stroke-width="0.75" vector-effect="non-scaling-stroke">G</text>
<text transform="translate(24.68 788.59) scale(0.1506 0.0497)" font-size="100" font-weight="bold" fill="#23359e" stroke="#23359e" stroke-width="0.75" vector-effect="non-scaling-stroke">C</text>
<text transform="translate(24.95 785.12) scale(0.1466 0.0721)" font-size="100" font-weight="bold" fill="#3aa23c" stroke="#3aa23c" stroke-width="0.75" vector-effect="non-scaling-stroke">A</text>
<text transform="translate(24.94 780.16) scale(0.1731 0.0605)" font-size="100" font-weight="bold" fill="#d01f2e" stroke="#d01f2e" stroke-width="0.75" vector-effect="non-scaling-stroke">T</text>
<text transform="translate(35.17 791.18) scale(0.1415 0.0203)" font-size="100" font-weight="bold" fill="#f3ad1f" stroke="#f3ad1f" stroke-width="0.75" vector-effect="non-scaling-stroke">G</text>
<text transform="translate(35.40 789.76) scale(0.1466 0.1884)" font-size="100" font-weight="bold" fill="#3aa23c" stroke="#3aa23c" stroke-width="0.75" vector-effect="non-scaling-stroke">A</text>
<text transform="translate(45.85 791.20) scale(0.1466 0.2163)" font-size="100" font-weight="bold" fill="#3aa23c" stroke="#3aa23c" stroke-width="0.75" vector-effect="non-scaling-stroke">A</text>
<text transform="translate(56.30 791.20) scale(0.1466 0.2163)" font-size="100" font-weight="bold" fill="#3aa23c" stroke="#3aa23c" stroke-width="0.75" vector-effect="non-scaling-stroke">A</text>
<text transform="translate(66.48 790.99) scale(0.1506 0.2102)" font-size="100" font-weight="bold" fill="#23359e" stroke="#23359e" stroke-width="0.75" vector-effect="non-scaling-stroke">C</text>
<text transform="translate(77.20 791.20) scale(0.1466 0.2163)" font-size="100" font-weight="bold" fill="#3aa23c" stroke="#3aa23c" stroke-width="0.75" vector-effect="non-scaling-stroke">A</text>
<text transform="translate(87.38 791.19) scale(0.1506 0.0136)" font-size="100" font-weight="bold" fill="#23359e" stroke="#23359e" stroke-width="0.75" vector-effect="non-scaling-stroke">C</text>
<text transform="translate(87.42 790.04) scale(0.1415 0.1966)" font-size="100" font-weight="bold" fill="#f3ad1f" stroke="#f3ad1f" stroke-width="0.75" vector-effect="non-scaling-stroke">G</text>
<text transform="translate(98.09 791.20) scale(0.1731 0.0279)" font-size="100" font-weight="bold" fill="#d01f2e" stroke="#d01f2e" stroke-width="0.75" vector-effect="non-scaling-stroke">T</text>
<text transform="translate(97.83 789.10) scale(0.1506 0.1763)" font-size="100" font-weight="bold" fill="#23359e" stroke="#23359e" stroke-width="0.75" vector-effect="non-scaling-stroke">C</text>
<text x="24.30" y="808.40" font-size="13.4" font-weight="bold" font-style="normal" fill="#000" stroke="#000" stroke-width="0.3" text-anchor="start" >HOX</text>
<text x="24.60" y="819.00" font-size="10.4" stroke="#000" stroke-width="0.25">39.9% (32.5%), <tspan font-weight="bold" font-style="italic">P</tspan><tspan font-weight="bold"> &lt;10</tspan><tspan font-weight="bold" font-size="8.7" dy="-4.4">-55</tspan></text>
<text transform="translate(24.68 838.44) scale(0.1514 0.0576)" font-size="100" font-weight="bold" fill="#23359e" stroke="#23359e" stroke-width="0.75" vector-effect="non-scaling-stroke">C</text>
<text transform="translate(24.95 834.42) scale(0.1473 0.0593)" font-size="100" font-weight="bold" fill="#3aa23c" stroke="#3aa23c" stroke-width="0.75" vector-effect="non-scaling-stroke">A</text>
<text transform="translate(24.93 830.34) scale(0.1740 0.0371)" font-size="100" font-weight="bold" fill="#d01f2e" stroke="#d01f2e" stroke-width="0.75" vector-effect="non-scaling-stroke">T</text>
<text transform="translate(24.95 827.79) scale(0.1473 0.0988)" font-size="100" font-weight="bold" fill="#3aa23c" stroke="#3aa23c" stroke-width="0.75" vector-effect="non-scaling-stroke">A</text>
<text transform="translate(35.43 838.50) scale(0.1740 0.0593)" font-size="100" font-weight="bold" fill="#d01f2e" stroke="#d01f2e" stroke-width="0.75" vector-effect="non-scaling-stroke">T</text>
<text transform="translate(35.45 834.42) scale(0.1473 0.0865)" font-size="100" font-weight="bold" fill="#3aa23c" stroke="#3aa23c" stroke-width="0.75" vector-effect="non-scaling-stroke">A</text>
<text transform="translate(35.43 828.47) scale(0.1740 0.1087)" font-size="100" font-weight="bold" fill="#d01f2e" stroke="#d01f2e" stroke-width="0.75" vector-effect="non-scaling-stroke">T</text>
<text transform="translate(45.93 838.50) scale(0.1740 0.0445)" font-size="100" font-weight="bold" fill="#d01f2e" stroke="#d01f2e" stroke-width="0.75" vector-effect="non-scaling-stroke">T</text>
<text transform="translate(45.68 835.40) scale(0.1514 0.0432)" font-size="100" font-weight="bold" fill="#23359e" stroke="#23359e" stroke-width="0.75" vector-effect="non-scaling-stroke">C</text>
<text transform="translate(45.95 832.38) scale(0.1473 0.0593)" font-size="100" font-weight="bold" fill="#3aa23c" stroke="#3aa23c" stroke-width="0.75" vector-effect="non-scaling-stroke">A</text>
<text transform="translate(45.72 828.20) scale(0.1422 0.0984)" font-size="100" font-weight="bold" fill="#f3ad1f" stroke="#f3ad1f" stroke-width="0.75" vector-effect="non-scaling-stroke">G</text>
<text transform="translate(56.45 838.50) scale(0.1473 0.2347)" font-size="100" font-weight="bold" fill="#3aa23c" stroke="#3aa23c" stroke-width="0.75" vector-effect="non-scaling-stroke">A</text>
<text transform="translate(66.93 838.50) scale(0.1740 0.2446)" font-size="100" font-weight="bold" fill="#d01f2e" stroke="#d01f2e" stroke-width="0.75" vector-effect="non-scaling-stroke">T</text>
<text transform="translate(77.43 838.50) scale(0.1740 0.2446)" font-size="100" font-weight="bold" fill="#d01f2e" stroke="#d01f2e" stroke-width="0.75" vector-effect="non-scaling-stroke">T</text>
<text transform="translate(87.93 838.50) scale(0.1740 0.2446)" font-size="100" font-weight="bold" fill="#d01f2e" stroke="#d01f2e" stroke-width="0.75" vector-effect="non-scaling-stroke">T</text>
<text transform="translate(98.45 838.50) scale(0.1473 0.2347)" font-size="100" font-weight="bold" fill="#3aa23c" stroke="#3aa23c" stroke-width="0.75" vector-effect="non-scaling-stroke">A</text>
<text transform="translate(108.72 838.44) scale(0.1422 0.0576)" font-size="100" font-weight="bold" fill="#f3ad1f" stroke="#f3ad1f" stroke-width="0.75" vector-effect="non-scaling-stroke">G</text>
<text transform="translate(108.95 834.42) scale(0.1473 0.0791)" font-size="100" font-weight="bold" fill="#3aa23c" stroke="#3aa23c" stroke-width="0.75" vector-effect="non-scaling-stroke">A</text>
<text transform="translate(108.93 828.98) scale(0.1740 0.1161)" font-size="100" font-weight="bold" fill="#d01f2e" stroke="#d01f2e" stroke-width="0.75" vector-effect="non-scaling-stroke">T</text>
<text transform="translate(119.22 838.43) scale(0.1422 0.0696)" font-size="100" font-weight="bold" fill="#f3ad1f" stroke="#f3ad1f" stroke-width="0.75" vector-effect="non-scaling-stroke">G</text>
<text transform="translate(119.45 833.57) scale(0.1473 0.0717)" font-size="100" font-weight="bold" fill="#3aa23c" stroke="#3aa23c" stroke-width="0.75" vector-effect="non-scaling-stroke">A</text>
<text transform="translate(119.22 828.54) scale(0.1422 0.0984)" font-size="100" font-weight="bold" fill="#f3ad1f" stroke="#f3ad1f" stroke-width="0.75" vector-effect="non-scaling-stroke">G</text>
<text transform="translate(129.93 838.50) scale(0.1740 0.0445)" font-size="100" font-weight="bold" fill="#d01f2e" stroke="#d01f2e" stroke-width="0.75" vector-effect="non-scaling-stroke">T</text>
<text transform="translate(129.72 835.38) scale(0.1422 0.0576)" font-size="100" font-weight="bold" fill="#f3ad1f" stroke="#f3ad1f" stroke-width="0.75" vector-effect="non-scaling-stroke">G</text>
<text transform="translate(129.68 831.30) scale(0.1514 0.0576)" font-size="100" font-weight="bold" fill="#23359e" stroke="#23359e" stroke-width="0.75" vector-effect="non-scaling-stroke">C</text>
<text transform="translate(129.95 827.28) scale(0.1473 0.0939)" font-size="100" font-weight="bold" fill="#3aa23c" stroke="#3aa23c" stroke-width="0.75" vector-effect="non-scaling-stroke">A</text>
<text x="198.30" y="579.70" font-size="13.4" font-weight="bold" font-style="normal" fill="#000" stroke="#000" stroke-width="0.3" text-anchor="start" >PU.1</text>
<text x="198.60" y="589.80" font-size="10.4" stroke="#000" stroke-width="0.25">32.4% (18.1%), <tspan font-weight="bold" font-style="italic">P</tspan><tspan font-weight="bold"> &lt;10</tspan><tspan font-weight="bold" font-size="8.7" dy="-4.4">-237</tspan></text>
<text transform="translate(198.68 608.86) scale(0.1508 0.0354)" font-size="100" font-weight="bold" fill="#23359e" stroke="#23359e" stroke-width="0.75" vector-effect="non-scaling-stroke">C</text>
<text transform="translate(198.94 606.39) scale(0.1733 0.0364)" font-size="100" font-weight="bold" fill="#d01f2e" stroke="#d01f2e" stroke-width="0.75" vector-effect="non-scaling-stroke">T</text>
<text transform="translate(198.72 603.82) scale(0.1417 0.0708)" font-size="100" font-weight="bold" fill="#f3ad1f" stroke="#f3ad1f" stroke-width="0.75" vector-effect="non-scaling-stroke">G</text>
<text transform="translate(198.95 598.88) scale(0.1467 0.0971)" font-size="100" font-weight="bold" fill="#3aa23c" stroke="#3aa23c" stroke-width="0.75" vector-effect="non-scaling-stroke">A</text>
<text transform="translate(209.40 608.90) scale(0.1733 0.0364)" font-size="100" font-weight="bold" fill="#d01f2e" stroke="#d01f2e" stroke-width="0.75" vector-effect="non-scaling-stroke">T</text>
<text transform="translate(209.18 606.36) scale(0.1417 0.0354)" font-size="100" font-weight="bold" fill="#f3ad1f" stroke="#f3ad1f" stroke-width="0.75" vector-effect="non-scaling-stroke">G</text>
<text transform="translate(209.18 603.82) scale(0.1417 0.0708)" font-size="100" font-weight="bold" fill="#f3ad1f" stroke="#f3ad1f" stroke-width="0.75" vector-effect="non-scaling-stroke">G</text>
<text transform="translate(209.41 598.88) scale(0.1467 0.0971)" font-size="100" font-weight="bold" fill="#3aa23c" stroke="#3aa23c" stroke-width="0.75" vector-effect="non-scaling-stroke">A</text>
<text transform="translate(219.64 608.81) scale(0.1417 0.0920)" font-size="100" font-weight="bold" fill="#f3ad1f" stroke="#f3ad1f" stroke-width="0.75" vector-effect="non-scaling-stroke">G</text>
<text transform="translate(219.86 602.39) scale(0.1733 0.0534)" font-size="100" font-weight="bold" fill="#d01f2e" stroke="#d01f2e" stroke-width="0.75" vector-effect="non-scaling-stroke">T</text>
<text transform="translate(219.87 598.71) scale(0.1467 0.0971)" font-size="100" font-weight="bold" fill="#3aa23c" stroke="#3aa23c" stroke-width="0.75" vector-effect="non-scaling-stroke">A</text>
<text transform="translate(230.06 608.87) scale(0.1508 0.0283)" font-size="100" font-weight="bold" fill="#23359e" stroke="#23359e" stroke-width="0.75" vector-effect="non-scaling-stroke">C</text>
<text transform="translate(230.32 606.90) scale(0.1733 0.0291)" font-size="100" font-weight="bold" fill="#d01f2e" stroke="#d01f2e" stroke-width="0.75" vector-effect="non-scaling-stroke">T</text>
<text transform="translate(230.33 604.89) scale(0.1467 0.0680)" font-size="100" font-weight="bold" fill="#3aa23c" stroke="#3aa23c" stroke-width="0.75" vector-effect="non-scaling-stroke">A</text>
<text transform="translate(230.10 600.15) scale(0.1417 0.0684)" font-size="100" font-weight="bold" fill="#f3ad1f" stroke="#f3ad1f" stroke-width="0.75" vector-effect="non-scaling-stroke">G</text>
<text transform="translate(240.79 608.90) scale(0.1467 0.0655)" font-size="100" font-weight="bold" fill="#3aa23c" stroke="#3aa23c" stroke-width="0.75" vector-effect="non-scaling-stroke">A</text>
<text transform="translate(240.56 604.31) scale(0.1417 0.0802)" font-size="100" font-weight="bold" fill="#f3ad1f" stroke="#f3ad1f" stroke-width="0.75" vector-effect="non-scaling-stroke">G</text>
<text transform="translate(240.79 598.71) scale(0.1467 0.0971)" font-size="100" font-weight="bold" fill="#3aa23c" stroke="#3aa23c" stroke-width="0.75" vector-effect="non-scaling-stroke">A</text>
<text transform="translate(251.25 608.90) scale(0.1467 0.0801)" font-size="100" font-weight="bold" fill="#3aa23c" stroke="#3aa23c" stroke-width="0.75" vector-effect="non-scaling-stroke">A</text>
<text transform="translate(251.02 603.23) scale(0.1417 0.1557)" font-size="100" font-weight="bold" fill="#f3ad1f" stroke="#f3ad1f" stroke-width="0.75" vector-effect="non-scaling-stroke">G</text>
<text transform="translate(261.48 608.68) scale(0.1417 0.2241)" font-size="100" font-weight="bold" fill="#f3ad1f" stroke="#f3ad1f" stroke-width="0.75" vector-effect="non-scaling-stroke">G</text>
<text transform="translate(272.17 608.90) scale(0.1467 0.2306)" font-size="100" font-weight="bold" fill="#3aa23c" stroke="#3aa23c" stroke-width="0.75" vector-effect="non-scaling-stroke">A</text>
<text transform="translate(282.63 608.90) scale(0.1467 0.2306)" font-size="100" font-weight="bold" fill="#3aa23c" stroke="#3aa23c" stroke-width="0.75" vector-effect="non-scaling-stroke">A</text>
<text transform="translate(292.86 608.86) scale(0.1417 0.0354)" font-size="100" font-weight="bold" fill="#f3ad1f" stroke="#f3ad1f" stroke-width="0.75" vector-effect="non-scaling-stroke">G</text>
<text transform="translate(292.82 606.35) scale(0.1508 0.0425)" font-size="100" font-weight="bold" fill="#23359e" stroke="#23359e" stroke-width="0.75" vector-effect="non-scaling-stroke">C</text>
<text transform="translate(293.09 603.39) scale(0.1467 0.0680)" font-size="100" font-weight="bold" fill="#3aa23c" stroke="#3aa23c" stroke-width="0.75" vector-effect="non-scaling-stroke">A</text>
<text transform="translate(292.86 598.63) scale(0.1417 0.0849)" font-size="100" font-weight="bold" fill="#f3ad1f" stroke="#f3ad1f" stroke-width="0.75" vector-effect="non-scaling-stroke">G</text>
<text transform="translate(303.32 608.87) scale(0.1417 0.0283)" font-size="100" font-weight="bold" fill="#f3ad1f" stroke="#f3ad1f" stroke-width="0.75" vector-effect="non-scaling-stroke">G</text>
<text transform="translate(303.28 606.85) scale(0.1508 0.0425)" font-size="100" font-weight="bold" fill="#23359e" stroke="#23359e" stroke-width="0.75" vector-effect="non-scaling-stroke">C</text>
<text transform="translate(303.55 603.89) scale(0.1467 0.0510)" font-size="100" font-weight="bold" fill="#3aa23c" stroke="#3aa23c" stroke-width="0.75" vector-effect="non-scaling-stroke">A</text>
<text transform="translate(303.54 600.38) scale(0.1733 0.1092)" font-size="100" font-weight="bold" fill="#d01f2e" stroke="#d01f2e" stroke-width="0.75" vector-effect="non-scaling-stroke">T</text>
<text transform="translate(314.00 608.90) scale(0.1733 0.0364)" font-size="100" font-weight="bold" fill="#d01f2e" stroke="#d01f2e" stroke-width="0.75" vector-effect="non-scaling-stroke">T</text>
<text transform="translate(313.74 606.35) scale(0.1508 0.0425)" font-size="100" font-weight="bold" fill="#23359e" stroke="#23359e" stroke-width="0.75" vector-effect="non-scaling-stroke">C</text>
<text transform="translate(314.01 603.39) scale(0.1467 0.0874)" font-size="100" font-weight="bold" fill="#3aa23c" stroke="#3aa23c" stroke-width="0.75" vector-effect="non-scaling-stroke">A</text>
<text transform="translate(313.78 597.32) scale(0.1417 0.0566)" font-size="100" font-weight="bold" fill="#f3ad1f" stroke="#f3ad1f" stroke-width="0.75" vector-effect="non-scaling-stroke">G</text>
<text x="198.30" y="625.60" font-size="13.0" font-weight="bold" font-style="normal" fill="#000" stroke="#000" stroke-width="0.3" text-anchor="start" textLength="119" lengthAdjust="spacingAndGlyphs">CEBP or CEBP:bZIP</text>
<text x="198.60" y="635.80" font-size="10.4" stroke="#000" stroke-width="0.25">31.3% (18.0%), <tspan font-weight="bold" font-style="italic">P</tspan><tspan font-weight="bold"> &lt;10</tspan><tspan font-weight="bold" font-size="8.7" dy="-4.4">-208</tspan></text>
<text transform="translate(198.69 653.05) scale(0.1483 0.0504)" font-size="100" font-weight="bold" fill="#23359e" stroke="#23359e" stroke-width="0.75" vector-effect="non-scaling-stroke">C</text>
<text transform="translate(198.73 649.48) scale(0.1394 0.0569)" font-size="100" font-weight="bold" fill="#f3ad1f" stroke="#f3ad1f" stroke-width="0.75" vector-effect="non-scaling-stroke">G</text>
<text transform="translate(198.95 645.50) scale(0.1443 0.0586)" font-size="100" font-weight="bold" fill="#3aa23c" stroke="#3aa23c" stroke-width="0.75" vector-effect="non-scaling-stroke">A</text>
<text transform="translate(198.94 641.48) scale(0.1705 0.0496)" font-size="100" font-weight="bold" fill="#d01f2e" stroke="#d01f2e" stroke-width="0.75" vector-effect="non-scaling-stroke">T</text>
<text transform="translate(208.99 653.04) scale(0.1483 0.0635)" font-size="100" font-weight="bold" fill="#23359e" stroke="#23359e" stroke-width="0.75" vector-effect="non-scaling-stroke">C</text>
<text transform="translate(209.03 648.53) scale(0.1394 0.0701)" font-size="100" font-weight="bold" fill="#f3ad1f" stroke="#f3ad1f" stroke-width="0.75" vector-effect="non-scaling-stroke">G</text>
<text transform="translate(209.25 643.64) scale(0.1443 0.0789)" font-size="100" font-weight="bold" fill="#3aa23c" stroke="#3aa23c" stroke-width="0.75" vector-effect="non-scaling-stroke">A</text>
<text transform="translate(219.54 653.10) scale(0.1705 0.1983)" font-size="100" font-weight="bold" fill="#d01f2e" stroke="#d01f2e" stroke-width="0.75" vector-effect="non-scaling-stroke">T</text>
<text transform="translate(229.84 653.10) scale(0.1705 0.1983)" font-size="100" font-weight="bold" fill="#d01f2e" stroke="#d01f2e" stroke-width="0.75" vector-effect="non-scaling-stroke">T</text>
<text transform="translate(240.15 653.10) scale(0.1443 0.0586)" font-size="100" font-weight="bold" fill="#3aa23c" stroke="#3aa23c" stroke-width="0.75" vector-effect="non-scaling-stroke">A</text>
<text transform="translate(240.14 649.07) scale(0.1705 0.0721)" font-size="100" font-weight="bold" fill="#d01f2e" stroke="#d01f2e" stroke-width="0.75" vector-effect="non-scaling-stroke">T</text>
<text transform="translate(239.93 644.05) scale(0.1394 0.0635)" font-size="100" font-weight="bold" fill="#f3ad1f" stroke="#f3ad1f" stroke-width="0.75" vector-effect="non-scaling-stroke">G</text>
<text transform="translate(250.19 652.91) scale(0.1483 0.1927)" font-size="100" font-weight="bold" fill="#23359e" stroke="#23359e" stroke-width="0.75" vector-effect="non-scaling-stroke">C</text>
<text transform="translate(260.49 653.04) scale(0.1483 0.0635)" font-size="100" font-weight="bold" fill="#23359e" stroke="#23359e" stroke-width="0.75" vector-effect="non-scaling-stroke">C</text>
<text transform="translate(260.74 648.61) scale(0.1705 0.0789)" font-size="100" font-weight="bold" fill="#d01f2e" stroke="#d01f2e" stroke-width="0.75" vector-effect="non-scaling-stroke">T</text>
<text transform="translate(260.75 643.18) scale(0.1443 0.0721)" font-size="100" font-weight="bold" fill="#3aa23c" stroke="#3aa23c" stroke-width="0.75" vector-effect="non-scaling-stroke">A</text>
<text transform="translate(271.05 653.10) scale(0.1443 0.0676)" font-size="100" font-weight="bold" fill="#3aa23c" stroke="#3aa23c" stroke-width="0.75" vector-effect="non-scaling-stroke">A</text>
<text transform="translate(271.04 648.45) scale(0.1705 0.0676)" font-size="100" font-weight="bold" fill="#d01f2e" stroke="#d01f2e" stroke-width="0.75" vector-effect="non-scaling-stroke">T</text>
<text transform="translate(270.79 643.73) scale(0.1483 0.0701)" font-size="100" font-weight="bold" fill="#23359e" stroke="#23359e" stroke-width="0.75" vector-effect="non-scaling-stroke">C</text>
<text transform="translate(281.09 653.03) scale(0.1483 0.0657)" font-size="100" font-weight="bold" fill="#23359e" stroke="#23359e" stroke-width="0.75" vector-effect="non-scaling-stroke">C</text>
<text transform="translate(281.35 648.45) scale(0.1443 0.1464)" font-size="100" font-weight="bold" fill="#3aa23c" stroke="#3aa23c" stroke-width="0.75" vector-effect="non-scaling-stroke">A</text>
<text transform="translate(291.65 653.10) scale(0.1443 0.2140)" font-size="100" font-weight="bold" fill="#3aa23c" stroke="#3aa23c" stroke-width="0.75" vector-effect="non-scaling-stroke">A</text>
<text transform="translate(301.73 653.06) scale(0.1394 0.0438)" font-size="100" font-weight="bold" fill="#f3ad1f" stroke="#f3ad1f" stroke-width="0.75" vector-effect="non-scaling-stroke">G</text>
<text transform="translate(301.94 650.00) scale(0.1705 0.0225)" font-size="100" font-weight="bold" fill="#d01f2e" stroke="#d01f2e" stroke-width="0.75" vector-effect="non-scaling-stroke">T</text>
<text transform="translate(301.69 648.39) scale(0.1483 0.0635)" font-size="100" font-weight="bold" fill="#23359e" stroke="#23359e" stroke-width="0.75" vector-effect="non-scaling-stroke">C</text>
<text transform="translate(301.94 643.96) scale(0.1705 0.0721)" font-size="100" font-weight="bold" fill="#d01f2e" stroke="#d01f2e" stroke-width="0.75" vector-effect="non-scaling-stroke">T</text>
<text transform="translate(312.24 653.10) scale(0.1705 0.0721)" font-size="100" font-weight="bold" fill="#d01f2e" stroke="#d01f2e" stroke-width="0.75" vector-effect="non-scaling-stroke">T</text>
<text transform="translate(312.25 648.14) scale(0.1443 0.0721)" font-size="100" font-weight="bold" fill="#3aa23c" stroke="#3aa23c" stroke-width="0.75" vector-effect="non-scaling-stroke">A</text>
<text transform="translate(311.99 643.11) scale(0.1483 0.0701)" font-size="100" font-weight="bold" fill="#23359e" stroke="#23359e" stroke-width="0.75" vector-effect="non-scaling-stroke">C</text>
<text x="198.30" y="671.20" font-size="13.4" font-weight="bold" font-style="normal" fill="#000" stroke="#000" stroke-width="0.3" text-anchor="start" >ETS:IRF</text>
<text x="198.60" y="681.50" font-size="10.4" stroke="#000" stroke-width="0.25">5.3% (1.6%), <tspan font-weight="bold" font-style="italic">P</tspan><tspan font-weight="bold"> &lt;10</tspan><tspan font-weight="bold" font-size="8.7" dy="-4.4">-98</tspan></text>
<text transform="translate(198.95 700.00) scale(0.1443 0.0605)" font-size="100" font-weight="bold" fill="#3aa23c" stroke="#3aa23c" stroke-width="0.75" vector-effect="non-scaling-stroke">A</text>
<text transform="translate(198.73 695.68) scale(0.1394 0.1605)" font-size="100" font-weight="bold" fill="#f3ad1f" stroke="#f3ad1f" stroke-width="0.75" vector-effect="non-scaling-stroke">G</text>
<text transform="translate(209.25 700.00) scale(0.1443 0.0605)" font-size="100" font-weight="bold" fill="#3aa23c" stroke="#3aa23c" stroke-width="0.75" vector-effect="non-scaling-stroke">A</text>
<text transform="translate(209.03 695.68) scale(0.1394 0.1605)" font-size="100" font-weight="bold" fill="#f3ad1f" stroke="#f3ad1f" stroke-width="0.75" vector-effect="non-scaling-stroke">G</text>
<text transform="translate(219.55 700.00) scale(0.1443 0.2326)" font-size="100" font-weight="bold" fill="#3aa23c" stroke="#3aa23c" stroke-width="0.75" vector-effect="non-scaling-stroke">A</text>
<text transform="translate(229.84 700.00) scale(0.1705 0.0233)" font-size="100" font-weight="bold" fill="#d01f2e" stroke="#d01f2e" stroke-width="0.75" vector-effect="non-scaling-stroke">T</text>
<text transform="translate(229.85 698.40) scale(0.1443 0.2093)" font-size="100" font-weight="bold" fill="#3aa23c" stroke="#3aa23c" stroke-width="0.75" vector-effect="non-scaling-stroke">A</text>
<text transform="translate(240.15 700.00) scale(0.1443 0.0349)" font-size="100" font-weight="bold" fill="#3aa23c" stroke="#3aa23c" stroke-width="0.75" vector-effect="non-scaling-stroke">A</text>
<text transform="translate(240.14 697.60) scale(0.1705 0.0349)" font-size="100" font-weight="bold" fill="#d01f2e" stroke="#d01f2e" stroke-width="0.75" vector-effect="non-scaling-stroke">T</text>
<text transform="translate(239.89 695.14) scale(0.1483 0.0565)" font-size="100" font-weight="bold" fill="#23359e" stroke="#23359e" stroke-width="0.75" vector-effect="non-scaling-stroke">C</text>
<text transform="translate(239.93 691.14) scale(0.1394 0.0565)" font-size="100" font-weight="bold" fill="#f3ad1f" stroke="#f3ad1f" stroke-width="0.75" vector-effect="non-scaling-stroke">G</text>
<text transform="translate(250.44 700.00) scale(0.1705 0.2326)" font-size="100" font-weight="bold" fill="#d01f2e" stroke="#d01f2e" stroke-width="0.75" vector-effect="non-scaling-stroke">T</text>
<text transform="translate(260.75 700.00) scale(0.1443 0.0186)" font-size="100" font-weight="bold" fill="#3aa23c" stroke="#3aa23c" stroke-width="0.75" vector-effect="non-scaling-stroke">A</text>
<text transform="translate(260.53 698.52) scale(0.1394 0.1966)" font-size="100" font-weight="bold" fill="#f3ad1f" stroke="#f3ad1f" stroke-width="0.75" vector-effect="non-scaling-stroke">G</text>
<text transform="translate(271.05 700.00) scale(0.1443 0.2326)" font-size="100" font-weight="bold" fill="#3aa23c" stroke="#3aa23c" stroke-width="0.75" vector-effect="non-scaling-stroke">A</text>
<text transform="translate(281.35 700.00) scale(0.1443 0.2326)" font-size="100" font-weight="bold" fill="#3aa23c" stroke="#3aa23c" stroke-width="0.75" vector-effect="non-scaling-stroke">A</text>
<text transform="translate(291.65 700.00) scale(0.1443 0.2326)" font-size="100" font-weight="bold" fill="#3aa23c" stroke="#3aa23c" stroke-width="0.75" vector-effect="non-scaling-stroke">A</text>
<text transform="translate(301.95 700.00) scale(0.1443 0.0581)" font-size="100" font-weight="bold" fill="#3aa23c" stroke="#3aa23c" stroke-width="0.75" vector-effect="non-scaling-stroke">A</text>
<text transform="translate(301.69 695.95) scale(0.1483 0.0452)" font-size="100" font-weight="bold" fill="#23359e" stroke="#23359e" stroke-width="0.75" vector-effect="non-scaling-stroke">C</text>
<text transform="translate(301.73 692.74) scale(0.1394 0.0565)" font-size="100" font-weight="bold" fill="#f3ad1f" stroke="#f3ad1f" stroke-width="0.75" vector-effect="non-scaling-stroke">G</text>
<text transform="translate(301.69 688.73) scale(0.1483 0.0678)" font-size="100" font-weight="bold" fill="#23359e" stroke="#23359e" stroke-width="0.75" vector-effect="non-scaling-stroke">C</text>
<text transform="translate(312.25 700.00) scale(0.1443 0.0814)" font-size="100" font-weight="bold" fill="#3aa23c" stroke="#3aa23c" stroke-width="0.75" vector-effect="non-scaling-stroke">A</text>
<text transform="translate(311.99 694.33) scale(0.1483 0.0678)" font-size="100" font-weight="bold" fill="#23359e" stroke="#23359e" stroke-width="0.75" vector-effect="non-scaling-stroke">C</text>
<text transform="translate(312.24 689.60) scale(0.1705 0.0744)" font-size="100" font-weight="bold" fill="#d01f2e" stroke="#d01f2e" stroke-width="0.75" vector-effect="non-scaling-stroke">T</text>
<text x="373.30" y="579.30" font-size="13.4" font-weight="bold" font-style="normal" fill="#000" stroke="#000" stroke-width="0.3" text-anchor="start" >GT-Box</text>
<text x="373.60" y="589.80" font-size="10.4" stroke="#000" stroke-width="0.25">33.4% (18.2%), <tspan font-weight="bold" font-style="italic">P</tspan><tspan font-weight="bold"> &lt;10</tspan><tspan font-weight="bold" font-size="8.7" dy="-4.4">-162</tspan></text>
<text transform="translate(373.72 610.06) scale(0.1422 0.0425)" font-size="100" font-weight="bold" fill="#f3ad1f" stroke="#f3ad1f" stroke-width="0.75" vector-effect="non-scaling-stroke">G</text>
<text transform="translate(373.68 607.05) scale(0.1514 0.0425)" font-size="100" font-weight="bold" fill="#23359e" stroke="#23359e" stroke-width="0.75" vector-effect="non-scaling-stroke">C</text>
<text transform="translate(373.95 604.09) scale(0.1473 0.0534)" font-size="100" font-weight="bold" fill="#3aa23c" stroke="#3aa23c" stroke-width="0.75" vector-effect="non-scaling-stroke">A</text>
<text transform="translate(373.93 600.41) scale(0.1740 0.0922)" font-size="100" font-weight="bold" fill="#d01f2e" stroke="#d01f2e" stroke-width="0.75" vector-effect="non-scaling-stroke">T</text>
<text transform="translate(384.45 610.10) scale(0.1473 0.0801)" font-size="100" font-weight="bold" fill="#3aa23c" stroke="#3aa23c" stroke-width="0.75" vector-effect="non-scaling-stroke">A</text>
<text transform="translate(384.18 604.53) scale(0.1514 0.0566)" font-size="100" font-weight="bold" fill="#23359e" stroke="#23359e" stroke-width="0.75" vector-effect="non-scaling-stroke">C</text>
<text transform="translate(384.22 600.49) scale(0.1422 0.0920)" font-size="100" font-weight="bold" fill="#f3ad1f" stroke="#f3ad1f" stroke-width="0.75" vector-effect="non-scaling-stroke">G</text>
<text transform="translate(394.95 610.10) scale(0.1473 0.0801)" font-size="100" font-weight="bold" fill="#3aa23c" stroke="#3aa23c" stroke-width="0.75" vector-effect="non-scaling-stroke">A</text>
<text transform="translate(394.93 604.59) scale(0.1740 0.0777)" font-size="100" font-weight="bold" fill="#d01f2e" stroke="#d01f2e" stroke-width="0.75" vector-effect="non-scaling-stroke">T</text>
<text transform="translate(394.68 599.17) scale(0.1514 0.0731)" font-size="100" font-weight="bold" fill="#23359e" stroke="#23359e" stroke-width="0.75" vector-effect="non-scaling-stroke">C</text>
<text transform="translate(405.22 609.90) scale(0.1422 0.1981)" font-size="100" font-weight="bold" fill="#f3ad1f" stroke="#f3ad1f" stroke-width="0.75" vector-effect="non-scaling-stroke">G</text>
<text transform="translate(415.93 610.10) scale(0.1740 0.2403)" font-size="100" font-weight="bold" fill="#d01f2e" stroke="#d01f2e" stroke-width="0.75" vector-effect="non-scaling-stroke">T</text>
<text transform="translate(426.45 610.10) scale(0.1473 0.0874)" font-size="100" font-weight="bold" fill="#3aa23c" stroke="#3aa23c" stroke-width="0.75" vector-effect="non-scaling-stroke">A</text>
<text transform="translate(426.22 603.95) scale(0.1422 0.1415)" font-size="100" font-weight="bold" fill="#f3ad1f" stroke="#f3ad1f" stroke-width="0.75" vector-effect="non-scaling-stroke">G</text>
<text transform="translate(436.72 609.87) scale(0.1422 0.2264)" font-size="100" font-weight="bold" fill="#f3ad1f" stroke="#f3ad1f" stroke-width="0.75" vector-effect="non-scaling-stroke">G</text>
<text transform="translate(447.22 609.87) scale(0.1422 0.2264)" font-size="100" font-weight="bold" fill="#f3ad1f" stroke="#f3ad1f" stroke-width="0.75" vector-effect="non-scaling-stroke">G</text>
<text transform="translate(457.95 610.10) scale(0.1473 0.0947)" font-size="100" font-weight="bold" fill="#3aa23c" stroke="#3aa23c" stroke-width="0.75" vector-effect="non-scaling-stroke">A</text>
<text transform="translate(457.93 603.59) scale(0.1740 0.0583)" font-size="100" font-weight="bold" fill="#d01f2e" stroke="#d01f2e" stroke-width="0.75" vector-effect="non-scaling-stroke">T</text>
<text transform="translate(457.68 599.49) scale(0.1514 0.0849)" font-size="100" font-weight="bold" fill="#23359e" stroke="#23359e" stroke-width="0.75" vector-effect="non-scaling-stroke">C</text>
<text transform="translate(468.43 610.10) scale(0.1740 0.0291)" font-size="100" font-weight="bold" fill="#d01f2e" stroke="#d01f2e" stroke-width="0.75" vector-effect="non-scaling-stroke">T</text>
<text transform="translate(468.45 608.10) scale(0.1473 0.0874)" font-size="100" font-weight="bold" fill="#3aa23c" stroke="#3aa23c" stroke-width="0.75" vector-effect="non-scaling-stroke">A</text>
<text transform="translate(468.22 601.97) scale(0.1422 0.1132)" font-size="100" font-weight="bold" fill="#f3ad1f" stroke="#f3ad1f" stroke-width="0.75" vector-effect="non-scaling-stroke">G</text>
<text x="373.30" y="625.60" font-size="13.4" font-weight="bold" font-style="normal" fill="#000" stroke="#000" stroke-width="0.3" text-anchor="start" >AP-1</text>
<text x="373.60" y="635.80" font-size="10.4" stroke="#000" stroke-width="0.25">23.1% (11.1%), <tspan font-weight="bold" font-style="italic">P</tspan><tspan font-weight="bold"> &lt;10</tspan><tspan font-weight="bold" font-size="8.7" dy="-4.4">-143</tspan></text>
<text transform="translate(373.68 653.65) scale(0.1523 0.0487)" font-size="100" font-weight="bold" fill="#23359e" stroke="#23359e" stroke-width="0.75" vector-effect="non-scaling-stroke">C</text>
<text transform="translate(373.71 650.20) scale(0.1431 0.0530)" font-size="100" font-weight="bold" fill="#f3ad1f" stroke="#f3ad1f" stroke-width="0.75" vector-effect="non-scaling-stroke">G</text>
<text transform="translate(373.94 646.50) scale(0.1482 0.1112)" font-size="100" font-weight="bold" fill="#3aa23c" stroke="#3aa23c" stroke-width="0.75" vector-effect="non-scaling-stroke">A</text>
<text transform="translate(384.49 653.70) scale(0.1750 0.2028)" font-size="100" font-weight="bold" fill="#d01f2e" stroke="#d01f2e" stroke-width="0.75" vector-effect="non-scaling-stroke">T</text>
<text transform="translate(394.83 653.50) scale(0.1431 0.1970)" font-size="100" font-weight="bold" fill="#f3ad1f" stroke="#f3ad1f" stroke-width="0.75" vector-effect="non-scaling-stroke">G</text>
<text transform="translate(405.62 653.70) scale(0.1482 0.2028)" font-size="100" font-weight="bold" fill="#3aa23c" stroke="#3aa23c" stroke-width="0.75" vector-effect="non-scaling-stroke">A</text>
<text transform="translate(416.18 653.70) scale(0.1482 0.0327)" font-size="100" font-weight="bold" fill="#3aa23c" stroke="#3aa23c" stroke-width="0.75" vector-effect="non-scaling-stroke">A</text>
<text transform="translate(416.17 651.45) scale(0.1750 0.0327)" font-size="100" font-weight="bold" fill="#d01f2e" stroke="#d01f2e" stroke-width="0.75" vector-effect="non-scaling-stroke">T</text>
<text transform="translate(415.95 649.14) scale(0.1431 0.0572)" font-size="100" font-weight="bold" fill="#f3ad1f" stroke="#f3ad1f" stroke-width="0.75" vector-effect="non-scaling-stroke">G</text>
<text transform="translate(415.92 645.06) scale(0.1523 0.0911)" font-size="100" font-weight="bold" fill="#23359e" stroke="#23359e" stroke-width="0.75" vector-effect="non-scaling-stroke">C</text>
<text transform="translate(426.73 653.70) scale(0.1750 0.2028)" font-size="100" font-weight="bold" fill="#d01f2e" stroke="#d01f2e" stroke-width="0.75" vector-effect="non-scaling-stroke">T</text>
<text transform="translate(437.04 653.50) scale(0.1523 0.1970)" font-size="100" font-weight="bold" fill="#23359e" stroke="#23359e" stroke-width="0.75" vector-effect="non-scaling-stroke">C</text>
<text transform="translate(447.86 653.70) scale(0.1482 0.2028)" font-size="100" font-weight="bold" fill="#3aa23c" stroke="#3aa23c" stroke-width="0.75" vector-effect="non-scaling-stroke">A</text>
<text x="373.30" y="671.10" font-size="13.4" font-weight="bold" font-style="normal" fill="#000" stroke="#000" stroke-width="0.3" text-anchor="start" >E-Box</text>
<text x="373.60" y="681.50" font-size="10.4" stroke="#000" stroke-width="0.25">27.8% (18.9%), <tspan font-weight="bold" font-style="italic">P</tspan><tspan font-weight="bold"> &lt;10</tspan><tspan font-weight="bold" font-size="8.7" dy="-4.4">-59</tspan></text>
<text transform="translate(373.66 700.27) scale(0.1560 0.0310)" font-size="100" font-weight="bold" fill="#23359e" stroke="#23359e" stroke-width="0.75" vector-effect="non-scaling-stroke">C</text>
<text transform="translate(373.94 698.10) scale(0.1518 0.0548)" font-size="100" font-weight="bold" fill="#3aa23c" stroke="#3aa23c" stroke-width="0.75" vector-effect="non-scaling-stroke">A</text>
<text transform="translate(373.70 694.21) scale(0.1466 0.1264)" font-size="100" font-weight="bold" fill="#f3ad1f" stroke="#f3ad1f" stroke-width="0.75" vector-effect="non-scaling-stroke">G</text>
<text transform="translate(384.72 700.30) scale(0.1793 0.2282)" font-size="100" font-weight="bold" fill="#d01f2e" stroke="#d01f2e" stroke-width="0.75" vector-effect="non-scaling-stroke">T</text>
<text transform="translate(395.26 700.10) scale(0.1560 0.1996)" font-size="100" font-weight="bold" fill="#23359e" stroke="#23359e" stroke-width="0.75" vector-effect="non-scaling-stroke">C</text>
<text transform="translate(406.34 700.30) scale(0.1518 0.2168)" font-size="100" font-weight="bold" fill="#3aa23c" stroke="#3aa23c" stroke-width="0.75" vector-effect="non-scaling-stroke">A</text>
<text transform="translate(416.86 700.10) scale(0.1560 0.1996)" font-size="100" font-weight="bold" fill="#23359e" stroke="#23359e" stroke-width="0.75" vector-effect="non-scaling-stroke">C</text>
<text transform="translate(427.94 700.30) scale(0.1518 0.2168)" font-size="100" font-weight="bold" fill="#3aa23c" stroke="#3aa23c" stroke-width="0.75" vector-effect="non-scaling-stroke">A</text>
<text transform="translate(438.72 700.30) scale(0.1793 0.2282)" font-size="100" font-weight="bold" fill="#d01f2e" stroke="#d01f2e" stroke-width="0.75" vector-effect="non-scaling-stroke">T</text>
<text transform="translate(449.30 700.10) scale(0.1466 0.1996)" font-size="100" font-weight="bold" fill="#f3ad1f" stroke="#f3ad1f" stroke-width="0.75" vector-effect="non-scaling-stroke">G</text>
<text transform="translate(460.10 700.27) scale(0.1466 0.0333)" font-size="100" font-weight="bold" fill="#f3ad1f" stroke="#f3ad1f" stroke-width="0.75" vector-effect="non-scaling-stroke">G</text>
<text transform="translate(460.06 697.89) scale(0.1560 0.0554)" font-size="100" font-weight="bold" fill="#23359e" stroke="#23359e" stroke-width="0.75" vector-effect="non-scaling-stroke">C</text>
<text transform="translate(460.34 694.02) scale(0.1518 0.1255)" font-size="100" font-weight="bold" fill="#3aa23c" stroke="#3aa23c" stroke-width="0.75" vector-effect="non-scaling-stroke">A</text>
<text transform="translate(470.90 700.26) scale(0.1466 0.0444)" font-size="100" font-weight="bold" fill="#f3ad1f" stroke="#f3ad1f" stroke-width="0.75" vector-effect="non-scaling-stroke">G</text>
<text transform="translate(471.12 697.16) scale(0.1793 0.0799)" font-size="100" font-weight="bold" fill="#d01f2e" stroke="#d01f2e" stroke-width="0.75" vector-effect="non-scaling-stroke">T</text>
<text transform="translate(470.86 691.57) scale(0.1560 0.0976)" font-size="100" font-weight="bold" fill="#23359e" stroke="#23359e" stroke-width="0.75" vector-effect="non-scaling-stroke">C</text>
<text x="373.30" y="716.80" font-size="13.4" font-weight="bold" font-style="normal" fill="#000" stroke="#000" stroke-width="0.3" text-anchor="start" >PU.1</text>
<text x="373.60" y="727.20" font-size="10.4" stroke="#000" stroke-width="0.25">29.7% (20.7%), <tspan font-weight="bold" font-style="italic">P</tspan><tspan font-weight="bold"> &lt;10</tspan><tspan font-weight="bold" font-size="8.7" dy="-4.4">-56</tspan></text>
<text transform="translate(373.93 745.70) scale(0.1740 0.0338)" font-size="100" font-weight="bold" fill="#d01f2e" stroke="#d01f2e" stroke-width="0.75" vector-effect="non-scaling-stroke">T</text>
<text transform="translate(373.68 743.34) scale(0.1514 0.0328)" font-size="100" font-weight="bold" fill="#23359e" stroke="#23359e" stroke-width="0.75" vector-effect="non-scaling-stroke">C</text>
<text transform="translate(373.72 740.99) scale(0.1422 0.0591)" font-size="100" font-weight="bold" fill="#f3ad1f" stroke="#f3ad1f" stroke-width="0.75" vector-effect="non-scaling-stroke">G</text>
<text transform="translate(373.95 736.87) scale(0.1473 0.1081)" font-size="100" font-weight="bold" fill="#3aa23c" stroke="#3aa23c" stroke-width="0.75" vector-effect="non-scaling-stroke">A</text>
<text transform="translate(384.18 745.67) scale(0.1514 0.0328)" font-size="100" font-weight="bold" fill="#23359e" stroke="#23359e" stroke-width="0.75" vector-effect="non-scaling-stroke">C</text>
<text transform="translate(384.43 743.38) scale(0.1740 0.0338)" font-size="100" font-weight="bold" fill="#d01f2e" stroke="#d01f2e" stroke-width="0.75" vector-effect="non-scaling-stroke">T</text>
<text transform="translate(384.22 740.99) scale(0.1422 0.0591)" font-size="100" font-weight="bold" fill="#f3ad1f" stroke="#f3ad1f" stroke-width="0.75" vector-effect="non-scaling-stroke">G</text>
<text transform="translate(384.45 736.87) scale(0.1473 0.1081)" font-size="100" font-weight="bold" fill="#3aa23c" stroke="#3aa23c" stroke-width="0.75" vector-effect="non-scaling-stroke">A</text>
<text transform="translate(394.93 745.70) scale(0.1740 0.0338)" font-size="100" font-weight="bold" fill="#d01f2e" stroke="#d01f2e" stroke-width="0.75" vector-effect="non-scaling-stroke">T</text>
<text transform="translate(394.68 743.34) scale(0.1514 0.0328)" font-size="100" font-weight="bold" fill="#23359e" stroke="#23359e" stroke-width="0.75" vector-effect="non-scaling-stroke">C</text>
<text transform="translate(394.72 740.99) scale(0.1422 0.0591)" font-size="100" font-weight="bold" fill="#f3ad1f" stroke="#f3ad1f" stroke-width="0.75" vector-effect="non-scaling-stroke">G</text>
<text transform="translate(394.95 736.87) scale(0.1473 0.1081)" font-size="100" font-weight="bold" fill="#3aa23c" stroke="#3aa23c" stroke-width="0.75" vector-effect="non-scaling-stroke">A</text>
<text transform="translate(405.18 745.66) scale(0.1514 0.0394)" font-size="100" font-weight="bold" fill="#23359e" stroke="#23359e" stroke-width="0.75" vector-effect="non-scaling-stroke">C</text>
<text transform="translate(405.45 742.91) scale(0.1473 0.0406)" font-size="100" font-weight="bold" fill="#3aa23c" stroke="#3aa23c" stroke-width="0.75" vector-effect="non-scaling-stroke">A</text>
<text transform="translate(405.22 739.98) scale(0.1422 0.1423)" font-size="100" font-weight="bold" fill="#f3ad1f" stroke="#f3ad1f" stroke-width="0.75" vector-effect="non-scaling-stroke">G</text>
<text transform="translate(415.95 745.70) scale(0.1473 0.2253)" font-size="100" font-weight="bold" fill="#3aa23c" stroke="#3aa23c" stroke-width="0.75" vector-effect="non-scaling-stroke">A</text>
<text transform="translate(426.22 745.49) scale(0.1422 0.2080)" font-size="100" font-weight="bold" fill="#f3ad1f" stroke="#f3ad1f" stroke-width="0.75" vector-effect="non-scaling-stroke">G</text>
<text transform="translate(436.72 745.49) scale(0.1422 0.2080)" font-size="100" font-weight="bold" fill="#f3ad1f" stroke="#f3ad1f" stroke-width="0.75" vector-effect="non-scaling-stroke">G</text>
<text transform="translate(447.45 745.70) scale(0.1473 0.2253)" font-size="100" font-weight="bold" fill="#3aa23c" stroke="#3aa23c" stroke-width="0.75" vector-effect="non-scaling-stroke">A</text>
<text transform="translate(457.95 745.70) scale(0.1473 0.2253)" font-size="100" font-weight="bold" fill="#3aa23c" stroke="#3aa23c" stroke-width="0.75" vector-effect="non-scaling-stroke">A</text>
<text transform="translate(468.43 745.70) scale(0.1740 0.0406)" font-size="100" font-weight="bold" fill="#d01f2e" stroke="#d01f2e" stroke-width="0.75" vector-effect="non-scaling-stroke">T</text>
<text transform="translate(468.18 742.87) scale(0.1514 0.0394)" font-size="100" font-weight="bold" fill="#23359e" stroke="#23359e" stroke-width="0.75" vector-effect="non-scaling-stroke">C</text>
<text transform="translate(468.22 739.99) scale(0.1422 0.1270)" font-size="100" font-weight="bold" fill="#f3ad1f" stroke="#f3ad1f" stroke-width="0.75" vector-effect="non-scaling-stroke">G</text>
<text transform="translate(478.93 745.70) scale(0.1740 0.0451)" font-size="100" font-weight="bold" fill="#d01f2e" stroke="#d01f2e" stroke-width="0.75" vector-effect="non-scaling-stroke">T</text>
<text transform="translate(478.68 742.55) scale(0.1514 0.0482)" font-size="100" font-weight="bold" fill="#23359e" stroke="#23359e" stroke-width="0.75" vector-effect="non-scaling-stroke">C</text>
<text transform="translate(478.95 739.19) scale(0.1473 0.0653)" font-size="100" font-weight="bold" fill="#3aa23c" stroke="#3aa23c" stroke-width="0.75" vector-effect="non-scaling-stroke">A</text>
<text transform="translate(478.93 734.70) scale(0.1740 0.0743)" font-size="100" font-weight="bold" fill="#d01f2e" stroke="#d01f2e" stroke-width="0.75" vector-effect="non-scaling-stroke">T</text>
<text transform="translate(489.18 745.67) scale(0.1514 0.0328)" font-size="100" font-weight="bold" fill="#23359e" stroke="#23359e" stroke-width="0.75" vector-effect="non-scaling-stroke">C</text>
<text transform="translate(489.43 743.38) scale(0.1740 0.0496)" font-size="100" font-weight="bold" fill="#d01f2e" stroke="#d01f2e" stroke-width="0.75" vector-effect="non-scaling-stroke">T</text>
<text transform="translate(489.22 739.89) scale(0.1422 0.0701)" font-size="100" font-weight="bold" fill="#f3ad1f" stroke="#f3ad1f" stroke-width="0.75" vector-effect="non-scaling-stroke">G</text>
<text transform="translate(489.45 735.00) scale(0.1473 0.0811)" font-size="100" font-weight="bold" fill="#3aa23c" stroke="#3aa23c" stroke-width="0.75" vector-effect="non-scaling-stroke">A</text>
<text x="373.30" y="762.80" font-size="13.4" font-weight="bold" font-style="normal" fill="#000" stroke="#000" stroke-width="0.3" text-anchor="start" >CEBP:bZIP</text>
<text x="373.60" y="773.30" font-size="10.4" stroke="#000" stroke-width="0.25">24.5% (18.4%), <tspan font-weight="bold" font-style="italic">P</tspan><tspan font-weight="bold"> &lt;10</tspan><tspan font-weight="bold" font-size="8.7" dy="-4.4">-30</tspan></text>
<text transform="translate(373.69 790.96) scale(0.1488 0.0424)" font-size="100" font-weight="bold" fill="#23359e" stroke="#23359e" stroke-width="0.75" vector-effect="non-scaling-stroke">C</text>
<text transform="translate(373.73 787.95) scale(0.1398 0.0469)" font-size="100" font-weight="bold" fill="#f3ad1f" stroke="#f3ad1f" stroke-width="0.75" vector-effect="non-scaling-stroke">G</text>
<text transform="translate(373.95 784.68) scale(0.1448 0.1286)" font-size="100" font-weight="bold" fill="#3aa23c" stroke="#3aa23c" stroke-width="0.75" vector-effect="non-scaling-stroke">A</text>
<text transform="translate(384.27 791.00) scale(0.1710 0.2251)" font-size="100" font-weight="bold" fill="#d01f2e" stroke="#d01f2e" stroke-width="0.75" vector-effect="non-scaling-stroke">T</text>
<text transform="translate(394.35 790.98) scale(0.1488 0.0179)" font-size="100" font-weight="bold" fill="#23359e" stroke="#23359e" stroke-width="0.75" vector-effect="non-scaling-stroke">C</text>
<text transform="translate(394.39 789.71) scale(0.1398 0.0268)" font-size="100" font-weight="bold" fill="#f3ad1f" stroke="#f3ad1f" stroke-width="0.75" vector-effect="non-scaling-stroke">G</text>
<text transform="translate(394.60 787.84) scale(0.1710 0.1745)" font-size="100" font-weight="bold" fill="#d01f2e" stroke="#d01f2e" stroke-width="0.75" vector-effect="non-scaling-stroke">T</text>
<text transform="translate(404.68 790.97) scale(0.1488 0.0290)" font-size="100" font-weight="bold" fill="#23359e" stroke="#23359e" stroke-width="0.75" vector-effect="non-scaling-stroke">C</text>
<text transform="translate(404.72 788.90) scale(0.1398 0.0424)" font-size="100" font-weight="bold" fill="#f3ad1f" stroke="#f3ad1f" stroke-width="0.75" vector-effect="non-scaling-stroke">G</text>
<text transform="translate(404.94 785.94) scale(0.1448 0.1309)" font-size="100" font-weight="bold" fill="#3aa23c" stroke="#3aa23c" stroke-width="0.75" vector-effect="non-scaling-stroke">A</text>
<text transform="translate(415.26 791.00) scale(0.1710 0.0230)" font-size="100" font-weight="bold" fill="#d01f2e" stroke="#d01f2e" stroke-width="0.75" vector-effect="non-scaling-stroke">T</text>
<text transform="translate(415.05 789.38) scale(0.1398 0.0357)" font-size="100" font-weight="bold" fill="#f3ad1f" stroke="#f3ad1f" stroke-width="0.75" vector-effect="non-scaling-stroke">G</text>
<text transform="translate(415.27 786.89) scale(0.1448 0.0436)" font-size="100" font-weight="bold" fill="#3aa23c" stroke="#3aa23c" stroke-width="0.75" vector-effect="non-scaling-stroke">A</text>
<text transform="translate(415.01 783.82) scale(0.1488 0.0714)" font-size="100" font-weight="bold" fill="#23359e" stroke="#23359e" stroke-width="0.75" vector-effect="non-scaling-stroke">C</text>
<text transform="translate(425.59 791.00) scale(0.1710 0.0299)" font-size="100" font-weight="bold" fill="#d01f2e" stroke="#d01f2e" stroke-width="0.75" vector-effect="non-scaling-stroke">T</text>
<text transform="translate(425.38 788.90) scale(0.1398 0.0424)" font-size="100" font-weight="bold" fill="#f3ad1f" stroke="#f3ad1f" stroke-width="0.75" vector-effect="non-scaling-stroke">G</text>
<text transform="translate(425.60 785.94) scale(0.1448 0.0299)" font-size="100" font-weight="bold" fill="#3aa23c" stroke="#3aa23c" stroke-width="0.75" vector-effect="non-scaling-stroke">A</text>
<text transform="translate(425.34 783.83) scale(0.1488 0.0558)" font-size="100" font-weight="bold" fill="#23359e" stroke="#23359e" stroke-width="0.75" vector-effect="non-scaling-stroke">C</text>
<text transform="translate(435.92 791.00) scale(0.1710 0.2251)" font-size="100" font-weight="bold" fill="#d01f2e" stroke="#d01f2e" stroke-width="0.75" vector-effect="non-scaling-stroke">T</text>
<text transform="translate(446.00 790.82) scale(0.1488 0.1830)" font-size="100" font-weight="bold" fill="#23359e" stroke="#23359e" stroke-width="0.75" vector-effect="non-scaling-stroke">C</text>
<text transform="translate(456.59 791.00) scale(0.1448 0.2251)" font-size="100" font-weight="bold" fill="#3aa23c" stroke="#3aa23c" stroke-width="0.75" vector-effect="non-scaling-stroke">A</text>
<text transform="translate(466.70 790.97) scale(0.1398 0.0290)" font-size="100" font-weight="bold" fill="#f3ad1f" stroke="#f3ad1f" stroke-width="0.75" vector-effect="non-scaling-stroke">G</text>
<text transform="translate(466.91 788.95) scale(0.1710 0.1952)" font-size="100" font-weight="bold" fill="#d01f2e" stroke="#d01f2e" stroke-width="0.75" vector-effect="non-scaling-stroke">T</text>
<text x="373.30" y="808.30" font-size="13.4" font-weight="bold" font-style="normal" fill="#000" stroke="#000" stroke-width="0.3" text-anchor="start" >NFKB</text>
<text x="373.60" y="818.80" font-size="10.4" stroke="#000" stroke-width="0.25">10.9% (7.3%), <tspan font-weight="bold" font-style="italic">P</tspan><tspan font-weight="bold"> &lt;10</tspan><tspan font-weight="bold" font-size="8.7" dy="-4.4">-22</tspan></text>
<text transform="translate(373.72 838.44) scale(0.1422 0.0559)" font-size="100" font-weight="bold" fill="#f3ad1f" stroke="#f3ad1f" stroke-width="0.75" vector-effect="non-scaling-stroke">G</text>
<text transform="translate(373.93 834.54) scale(0.1740 0.0288)" font-size="100" font-weight="bold" fill="#d01f2e" stroke="#d01f2e" stroke-width="0.75" vector-effect="non-scaling-stroke">T</text>
<text transform="translate(373.95 832.56) scale(0.1473 0.1655)" font-size="100" font-weight="bold" fill="#3aa23c" stroke="#3aa23c" stroke-width="0.75" vector-effect="non-scaling-stroke">A</text>
<text transform="translate(384.22 838.48) scale(0.1422 0.0233)" font-size="100" font-weight="bold" fill="#f3ad1f" stroke="#f3ad1f" stroke-width="0.75" vector-effect="non-scaling-stroke">G</text>
<text transform="translate(384.43 836.85) scale(0.1740 0.0360)" font-size="100" font-weight="bold" fill="#d01f2e" stroke="#d01f2e" stroke-width="0.75" vector-effect="non-scaling-stroke">T</text>
<text transform="translate(384.45 834.38) scale(0.1473 0.0480)" font-size="100" font-weight="bold" fill="#3aa23c" stroke="#3aa23c" stroke-width="0.75" vector-effect="non-scaling-stroke">A</text>
<text transform="translate(384.22 830.94) scale(0.1422 0.1398)" font-size="100" font-weight="bold" fill="#f3ad1f" stroke="#f3ad1f" stroke-width="0.75" vector-effect="non-scaling-stroke">G</text>
<text transform="translate(394.72 838.27) scale(0.1422 0.2261)" font-size="100" font-weight="bold" fill="#f3ad1f" stroke="#f3ad1f" stroke-width="0.75" vector-effect="non-scaling-stroke">G</text>
<text transform="translate(405.45 838.50) scale(0.1473 0.0432)" font-size="100" font-weight="bold" fill="#3aa23c" stroke="#3aa23c" stroke-width="0.75" vector-effect="non-scaling-stroke">A</text>
<text transform="translate(405.18 835.49) scale(0.1514 0.0419)" font-size="100" font-weight="bold" fill="#23359e" stroke="#23359e" stroke-width="0.75" vector-effect="non-scaling-stroke">C</text>
<text transform="translate(405.22 832.42) scale(0.1422 0.1398)" font-size="100" font-weight="bold" fill="#f3ad1f" stroke="#f3ad1f" stroke-width="0.75" vector-effect="non-scaling-stroke">G</text>
<text transform="translate(415.72 838.46) scale(0.1422 0.0419)" font-size="100" font-weight="bold" fill="#f3ad1f" stroke="#f3ad1f" stroke-width="0.75" vector-effect="non-scaling-stroke">G</text>
<text transform="translate(415.68 835.49) scale(0.1514 0.0419)" font-size="100" font-weight="bold" fill="#23359e" stroke="#23359e" stroke-width="0.75" vector-effect="non-scaling-stroke">C</text>
<text transform="translate(415.95 832.56) scale(0.1473 0.1607)" font-size="100" font-weight="bold" fill="#3aa23c" stroke="#3aa23c" stroke-width="0.75" vector-effect="non-scaling-stroke">A</text>
<text transform="translate(426.45 838.50) scale(0.1473 0.2398)" font-size="100" font-weight="bold" fill="#3aa23c" stroke="#3aa23c" stroke-width="0.75" vector-effect="non-scaling-stroke">A</text>
<text transform="translate(436.72 838.45) scale(0.1422 0.0466)" font-size="100" font-weight="bold" fill="#f3ad1f" stroke="#f3ad1f" stroke-width="0.75" vector-effect="non-scaling-stroke">G</text>
<text transform="translate(436.68 835.15) scale(0.1514 0.0466)" font-size="100" font-weight="bold" fill="#23359e" stroke="#23359e" stroke-width="0.75" vector-effect="non-scaling-stroke">C</text>
<text transform="translate(436.93 831.90) scale(0.1740 0.0480)" font-size="100" font-weight="bold" fill="#d01f2e" stroke="#d01f2e" stroke-width="0.75" vector-effect="non-scaling-stroke">T</text>
<text transform="translate(436.95 828.60) scale(0.1473 0.0983)" font-size="100" font-weight="bold" fill="#3aa23c" stroke="#3aa23c" stroke-width="0.75" vector-effect="non-scaling-stroke">A</text>
<text transform="translate(447.22 838.44) scale(0.1422 0.0583)" font-size="100" font-weight="bold" fill="#f3ad1f" stroke="#f3ad1f" stroke-width="0.75" vector-effect="non-scaling-stroke">G</text>
<text transform="translate(447.18 834.33) scale(0.1514 0.0466)" font-size="100" font-weight="bold" fill="#23359e" stroke="#23359e" stroke-width="0.75" vector-effect="non-scaling-stroke">C</text>
<text transform="translate(447.43 831.08) scale(0.1740 0.1343)" font-size="100" font-weight="bold" fill="#d01f2e" stroke="#d01f2e" stroke-width="0.75" vector-effect="non-scaling-stroke">T</text>
<text transform="translate(457.72 838.44) scale(0.1422 0.0583)" font-size="100" font-weight="bold" fill="#f3ad1f" stroke="#f3ad1f" stroke-width="0.75" vector-effect="non-scaling-stroke">G</text>
<text transform="translate(457.68 834.33) scale(0.1514 0.0466)" font-size="100" font-weight="bold" fill="#23359e" stroke="#23359e" stroke-width="0.75" vector-effect="non-scaling-stroke">C</text>
<text transform="translate(457.93 831.08) scale(0.1740 0.1295)" font-size="100" font-weight="bold" fill="#d01f2e" stroke="#d01f2e" stroke-width="0.75" vector-effect="non-scaling-stroke">T</text>
<text transform="translate(468.18 838.27) scale(0.1514 0.2261)" font-size="100" font-weight="bold" fill="#23359e" stroke="#23359e" stroke-width="0.75" vector-effect="non-scaling-stroke">C</text>
<text transform="translate(478.68 838.27) scale(0.1514 0.2261)" font-size="100" font-weight="bold" fill="#23359e" stroke="#23359e" stroke-width="0.75" vector-effect="non-scaling-stroke">C</text>
<text transform="translate(489.22 838.47) scale(0.1422 0.0280)" font-size="100" font-weight="bold" fill="#f3ad1f" stroke="#f3ad1f" stroke-width="0.75" vector-effect="non-scaling-stroke">G</text>
<text transform="translate(489.43 836.52) scale(0.1740 0.0432)" font-size="100" font-weight="bold" fill="#d01f2e" stroke="#d01f2e" stroke-width="0.75" vector-effect="non-scaling-stroke">T</text>
<text transform="translate(489.18 833.40) scale(0.1514 0.1538)" font-size="100" font-weight="bold" fill="#23359e" stroke="#23359e" stroke-width="0.75" vector-effect="non-scaling-stroke">C</text>
</svg>
</body></html>
